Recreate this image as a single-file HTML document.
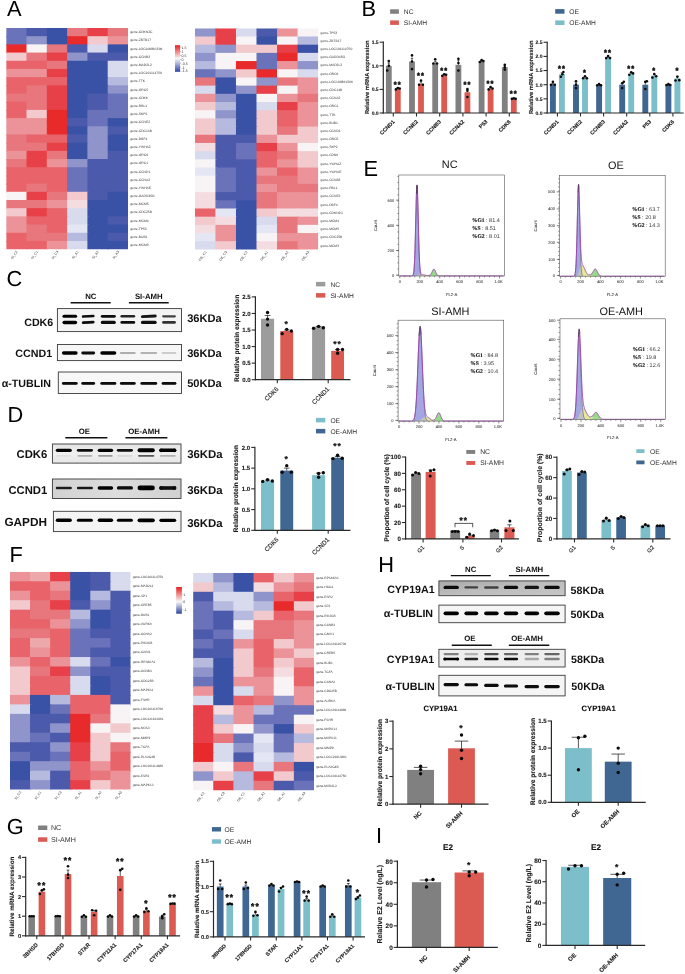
<!DOCTYPE html><html><head><meta charset="utf-8"><title>Figure</title><style>html,body{margin:0;padding:0;background:#fff;}svg{display:block;font-family:"Liberation Sans", sans-serif;will-change:transform;text-rendering:geometricPrecision;}</style></head><body>
<svg width="685" height="974" viewBox="0 0 685 974">
<defs>
<linearGradient id="cbA" x1="0" y1="0" x2="0" y2="1"><stop offset="0" stop-color="#E81C1C"/><stop offset="0.5" stop-color="#F8F8F8"/><stop offset="1" stop-color="#2B45A3"/></linearGradient>
<linearGradient id="cbF" x1="0" y1="0" x2="0" y2="1"><stop offset="0" stop-color="#E81C1C"/><stop offset="0.55" stop-color="#F8F8F8"/><stop offset="1" stop-color="#2B45A3"/></linearGradient>
<filter id="blur1" filterUnits="userSpaceOnUse" x="0" y="0" width="685" height="974"><feGaussianBlur stdDeviation="0.7 0.6"/></filter>
<filter id="blur2" filterUnits="userSpaceOnUse" x="0" y="0" width="685" height="974"><feGaussianBlur stdDeviation="0.9 0.7"/></filter>
<filter id="blurbg" x="-5%" y="-5%" width="110%" height="110%"><feGaussianBlur stdDeviation="1.5"/></filter>
</defs>
<rect x="0" y="0" width="685" height="974" fill="#fff"/>
<clipPath id="hmclip1"><rect x="6.2" y="28" width="121.8" height="221.13"/></clipPath>
<g clip-path="url(#hmclip1)">
<rect x="6.2" y="28" width="21.5" height="9.39" fill="#6A72BA"/>
<rect x="26.5" y="28" width="21.5" height="9.39" fill="#4C5AAC"/>
<rect x="46.8" y="28" width="21.5" height="9.39" fill="#3A52A6"/>
<rect x="67.1" y="28" width="21.5" height="9.39" fill="#E8767D"/>
<rect x="87.4" y="28" width="21.5" height="9.39" fill="#E84048"/>
<rect x="107.7" y="28" width="21.5" height="9.39" fill="#E8767D"/>
<rect x="6.2" y="36.19" width="21.5" height="9.39" fill="#6A72BA"/>
<rect x="26.5" y="36.19" width="21.5" height="9.39" fill="#8F95CB"/>
<rect x="46.8" y="36.19" width="21.5" height="9.39" fill="#3A52A6"/>
<rect x="67.1" y="36.19" width="21.5" height="9.39" fill="#E82A2A"/>
<rect x="87.4" y="36.19" width="21.5" height="9.39" fill="#F2C9CD"/>
<rect x="107.7" y="36.19" width="21.5" height="9.39" fill="#EB9398"/>
<rect x="6.2" y="44.38" width="21.5" height="9.39" fill="#E82A2A"/>
<rect x="26.5" y="44.38" width="21.5" height="9.39" fill="#F8F4F5"/>
<rect x="46.8" y="44.38" width="21.5" height="9.39" fill="#E8767D"/>
<rect x="67.1" y="44.38" width="21.5" height="9.39" fill="#4C5AAC"/>
<rect x="87.4" y="44.38" width="21.5" height="9.39" fill="#D8DBEE"/>
<rect x="107.7" y="44.38" width="21.5" height="9.39" fill="#3A52A6"/>
<rect x="6.2" y="52.57" width="21.5" height="9.39" fill="#F2C9CD"/>
<rect x="26.5" y="52.57" width="21.5" height="9.39" fill="#E8767D"/>
<rect x="46.8" y="52.57" width="21.5" height="9.39" fill="#E84048"/>
<rect x="67.1" y="52.57" width="21.5" height="9.39" fill="#8F95CB"/>
<rect x="87.4" y="52.57" width="21.5" height="9.39" fill="#4C5AAC"/>
<rect x="107.7" y="52.57" width="21.5" height="9.39" fill="#4C5AAC"/>
<rect x="6.2" y="60.76" width="21.5" height="9.39" fill="#E8646A"/>
<rect x="26.5" y="60.76" width="21.5" height="9.39" fill="#E8646A"/>
<rect x="46.8" y="60.76" width="21.5" height="9.39" fill="#E8767D"/>
<rect x="67.1" y="60.76" width="21.5" height="9.39" fill="#3A52A6"/>
<rect x="87.4" y="60.76" width="21.5" height="9.39" fill="#3A52A6"/>
<rect x="107.7" y="60.76" width="21.5" height="9.39" fill="#D8DBEE"/>
<rect x="6.2" y="68.95" width="21.5" height="9.39" fill="#EB9398"/>
<rect x="26.5" y="68.95" width="21.5" height="9.39" fill="#EB9398"/>
<rect x="46.8" y="68.95" width="21.5" height="9.39" fill="#E84048"/>
<rect x="67.1" y="68.95" width="21.5" height="9.39" fill="#3A52A6"/>
<rect x="87.4" y="68.95" width="21.5" height="9.39" fill="#3A52A6"/>
<rect x="107.7" y="68.95" width="21.5" height="9.39" fill="#D8DBEE"/>
<rect x="6.2" y="77.14" width="21.5" height="9.39" fill="#E8646A"/>
<rect x="26.5" y="77.14" width="21.5" height="9.39" fill="#E8646A"/>
<rect x="46.8" y="77.14" width="21.5" height="9.39" fill="#E8646A"/>
<rect x="67.1" y="77.14" width="21.5" height="9.39" fill="#3A52A6"/>
<rect x="87.4" y="77.14" width="21.5" height="9.39" fill="#3A52A6"/>
<rect x="107.7" y="77.14" width="21.5" height="9.39" fill="#B6BADF"/>
<rect x="6.2" y="85.33" width="21.5" height="9.39" fill="#E8646A"/>
<rect x="26.5" y="85.33" width="21.5" height="9.39" fill="#E8767D"/>
<rect x="46.8" y="85.33" width="21.5" height="9.39" fill="#E84048"/>
<rect x="67.1" y="85.33" width="21.5" height="9.39" fill="#3A52A6"/>
<rect x="87.4" y="85.33" width="21.5" height="9.39" fill="#3A52A6"/>
<rect x="107.7" y="85.33" width="21.5" height="9.39" fill="#8F95CB"/>
<rect x="6.2" y="93.52" width="21.5" height="9.39" fill="#E8767D"/>
<rect x="26.5" y="93.52" width="21.5" height="9.39" fill="#E8767D"/>
<rect x="46.8" y="93.52" width="21.5" height="9.39" fill="#E84048"/>
<rect x="67.1" y="93.52" width="21.5" height="9.39" fill="#3A52A6"/>
<rect x="87.4" y="93.52" width="21.5" height="9.39" fill="#4C5AAC"/>
<rect x="107.7" y="93.52" width="21.5" height="9.39" fill="#6A72BA"/>
<rect x="6.2" y="101.71" width="21.5" height="9.39" fill="#E8646A"/>
<rect x="26.5" y="101.71" width="21.5" height="9.39" fill="#E8767D"/>
<rect x="46.8" y="101.71" width="21.5" height="9.39" fill="#E84048"/>
<rect x="67.1" y="101.71" width="21.5" height="9.39" fill="#3A52A6"/>
<rect x="87.4" y="101.71" width="21.5" height="9.39" fill="#4C5AAC"/>
<rect x="107.7" y="101.71" width="21.5" height="9.39" fill="#6A72BA"/>
<rect x="6.2" y="109.9" width="21.5" height="9.39" fill="#E8646A"/>
<rect x="26.5" y="109.9" width="21.5" height="9.39" fill="#F2C9CD"/>
<rect x="46.8" y="109.9" width="21.5" height="9.39" fill="#E82A2A"/>
<rect x="67.1" y="109.9" width="21.5" height="9.39" fill="#3A52A6"/>
<rect x="87.4" y="109.9" width="21.5" height="9.39" fill="#6A72BA"/>
<rect x="107.7" y="109.9" width="21.5" height="9.39" fill="#6A72BA"/>
<rect x="6.2" y="118.09" width="21.5" height="9.39" fill="#EB9398"/>
<rect x="26.5" y="118.09" width="21.5" height="9.39" fill="#EB9398"/>
<rect x="46.8" y="118.09" width="21.5" height="9.39" fill="#E82A2A"/>
<rect x="67.1" y="118.09" width="21.5" height="9.39" fill="#4C5AAC"/>
<rect x="87.4" y="118.09" width="21.5" height="9.39" fill="#6A72BA"/>
<rect x="107.7" y="118.09" width="21.5" height="9.39" fill="#3A52A6"/>
<rect x="6.2" y="126.28" width="21.5" height="9.39" fill="#EB9398"/>
<rect x="26.5" y="126.28" width="21.5" height="9.39" fill="#EB9398"/>
<rect x="46.8" y="126.28" width="21.5" height="9.39" fill="#E82A2A"/>
<rect x="67.1" y="126.28" width="21.5" height="9.39" fill="#3A52A6"/>
<rect x="87.4" y="126.28" width="21.5" height="9.39" fill="#8F95CB"/>
<rect x="107.7" y="126.28" width="21.5" height="9.39" fill="#4C5AAC"/>
<rect x="6.2" y="134.47" width="21.5" height="9.39" fill="#E8767D"/>
<rect x="26.5" y="134.47" width="21.5" height="9.39" fill="#E8646A"/>
<rect x="46.8" y="134.47" width="21.5" height="9.39" fill="#E8646A"/>
<rect x="67.1" y="134.47" width="21.5" height="9.39" fill="#4C5AAC"/>
<rect x="87.4" y="134.47" width="21.5" height="9.39" fill="#8F95CB"/>
<rect x="107.7" y="134.47" width="21.5" height="9.39" fill="#3A52A6"/>
<rect x="6.2" y="142.66" width="21.5" height="9.39" fill="#E8767D"/>
<rect x="26.5" y="142.66" width="21.5" height="9.39" fill="#E8767D"/>
<rect x="46.8" y="142.66" width="21.5" height="9.39" fill="#E84048"/>
<rect x="67.1" y="142.66" width="21.5" height="9.39" fill="#3A52A6"/>
<rect x="87.4" y="142.66" width="21.5" height="9.39" fill="#8F95CB"/>
<rect x="107.7" y="142.66" width="21.5" height="9.39" fill="#3A52A6"/>
<rect x="6.2" y="150.85" width="21.5" height="9.39" fill="#EB9398"/>
<rect x="26.5" y="150.85" width="21.5" height="9.39" fill="#E84048"/>
<rect x="46.8" y="150.85" width="21.5" height="9.39" fill="#E8767D"/>
<rect x="67.1" y="150.85" width="21.5" height="9.39" fill="#3A52A6"/>
<rect x="87.4" y="150.85" width="21.5" height="9.39" fill="#8F95CB"/>
<rect x="107.7" y="150.85" width="21.5" height="9.39" fill="#4C5AAC"/>
<rect x="6.2" y="159.04" width="21.5" height="9.39" fill="#E8767D"/>
<rect x="26.5" y="159.04" width="21.5" height="9.39" fill="#E84048"/>
<rect x="46.8" y="159.04" width="21.5" height="9.39" fill="#EB9398"/>
<rect x="67.1" y="159.04" width="21.5" height="9.39" fill="#8F95CB"/>
<rect x="87.4" y="159.04" width="21.5" height="9.39" fill="#4C5AAC"/>
<rect x="107.7" y="159.04" width="21.5" height="9.39" fill="#4C5AAC"/>
<rect x="6.2" y="167.23" width="21.5" height="9.39" fill="#E8646A"/>
<rect x="26.5" y="167.23" width="21.5" height="9.39" fill="#E8646A"/>
<rect x="46.8" y="167.23" width="21.5" height="9.39" fill="#E8646A"/>
<rect x="67.1" y="167.23" width="21.5" height="9.39" fill="#6A72BA"/>
<rect x="87.4" y="167.23" width="21.5" height="9.39" fill="#4C5AAC"/>
<rect x="107.7" y="167.23" width="21.5" height="9.39" fill="#4C5AAC"/>
<rect x="6.2" y="175.42" width="21.5" height="9.39" fill="#E8646A"/>
<rect x="26.5" y="175.42" width="21.5" height="9.39" fill="#E8646A"/>
<rect x="46.8" y="175.42" width="21.5" height="9.39" fill="#E8646A"/>
<rect x="67.1" y="175.42" width="21.5" height="9.39" fill="#6A72BA"/>
<rect x="87.4" y="175.42" width="21.5" height="9.39" fill="#4C5AAC"/>
<rect x="107.7" y="175.42" width="21.5" height="9.39" fill="#4C5AAC"/>
<rect x="6.2" y="183.61" width="21.5" height="9.39" fill="#E8646A"/>
<rect x="26.5" y="183.61" width="21.5" height="9.39" fill="#E8767D"/>
<rect x="46.8" y="183.61" width="21.5" height="9.39" fill="#E8646A"/>
<rect x="67.1" y="183.61" width="21.5" height="9.39" fill="#6A72BA"/>
<rect x="87.4" y="183.61" width="21.5" height="9.39" fill="#4C5AAC"/>
<rect x="107.7" y="183.61" width="21.5" height="9.39" fill="#4C5AAC"/>
<rect x="6.2" y="191.8" width="21.5" height="9.39" fill="#F8F4F5"/>
<rect x="26.5" y="191.8" width="21.5" height="9.39" fill="#E84048"/>
<rect x="46.8" y="191.8" width="21.5" height="9.39" fill="#E8767D"/>
<rect x="67.1" y="191.8" width="21.5" height="9.39" fill="#F2C9CD"/>
<rect x="87.4" y="191.8" width="21.5" height="9.39" fill="#4C5AAC"/>
<rect x="107.7" y="191.8" width="21.5" height="9.39" fill="#3A52A6"/>
<rect x="6.2" y="199.99" width="21.5" height="9.39" fill="#E8767D"/>
<rect x="26.5" y="199.99" width="21.5" height="9.39" fill="#E8767D"/>
<rect x="46.8" y="199.99" width="21.5" height="9.39" fill="#EB9398"/>
<rect x="67.1" y="199.99" width="21.5" height="9.39" fill="#F4DDE0"/>
<rect x="87.4" y="199.99" width="21.5" height="9.39" fill="#3A52A6"/>
<rect x="107.7" y="199.99" width="21.5" height="9.39" fill="#3A52A6"/>
<rect x="6.2" y="208.18" width="21.5" height="9.39" fill="#F2C9CD"/>
<rect x="26.5" y="208.18" width="21.5" height="9.39" fill="#E84048"/>
<rect x="46.8" y="208.18" width="21.5" height="9.39" fill="#E8646A"/>
<rect x="67.1" y="208.18" width="21.5" height="9.39" fill="#D8DBEE"/>
<rect x="87.4" y="208.18" width="21.5" height="9.39" fill="#3A52A6"/>
<rect x="107.7" y="208.18" width="21.5" height="9.39" fill="#3A52A6"/>
<rect x="6.2" y="216.37" width="21.5" height="9.39" fill="#EB9398"/>
<rect x="26.5" y="216.37" width="21.5" height="9.39" fill="#E8646A"/>
<rect x="46.8" y="216.37" width="21.5" height="9.39" fill="#E8646A"/>
<rect x="67.1" y="216.37" width="21.5" height="9.39" fill="#D8DBEE"/>
<rect x="87.4" y="216.37" width="21.5" height="9.39" fill="#3A52A6"/>
<rect x="107.7" y="216.37" width="21.5" height="9.39" fill="#4C5AAC"/>
<rect x="6.2" y="224.56" width="21.5" height="9.39" fill="#EB9398"/>
<rect x="26.5" y="224.56" width="21.5" height="9.39" fill="#E8767D"/>
<rect x="46.8" y="224.56" width="21.5" height="9.39" fill="#E8646A"/>
<rect x="67.1" y="224.56" width="21.5" height="9.39" fill="#E4E6F3"/>
<rect x="87.4" y="224.56" width="21.5" height="9.39" fill="#3A52A6"/>
<rect x="107.7" y="224.56" width="21.5" height="9.39" fill="#3A52A6"/>
<rect x="6.2" y="232.75" width="21.5" height="9.39" fill="#E8646A"/>
<rect x="26.5" y="232.75" width="21.5" height="9.39" fill="#E8767D"/>
<rect x="46.8" y="232.75" width="21.5" height="9.39" fill="#E8767D"/>
<rect x="67.1" y="232.75" width="21.5" height="9.39" fill="#B6BADF"/>
<rect x="87.4" y="232.75" width="21.5" height="9.39" fill="#3A52A6"/>
<rect x="107.7" y="232.75" width="21.5" height="9.39" fill="#4C5AAC"/>
<rect x="6.2" y="240.94" width="21.5" height="9.39" fill="#E8646A"/>
<rect x="26.5" y="240.94" width="21.5" height="9.39" fill="#E8646A"/>
<rect x="46.8" y="240.94" width="21.5" height="9.39" fill="#EB9398"/>
<rect x="67.1" y="240.94" width="21.5" height="9.39" fill="#D8DBEE"/>
<rect x="87.4" y="240.94" width="21.5" height="9.39" fill="#3A52A6"/>
<rect x="107.7" y="240.94" width="21.5" height="9.39" fill="#3A52A6"/>
</g>
<text x="130.2" y="33.3" font-size="3.35" text-anchor="start" fill="#3a3a3a">gene-CDKN2C</text>
<text x="130.2" y="41.49" font-size="3.35" text-anchor="start" fill="#3a3a3a">gene-ZBTB17</text>
<text x="130.2" y="49.68" font-size="3.35" text-anchor="start" fill="#3a3a3a">gene-LOC100861506</text>
<text x="130.2" y="57.87" font-size="3.35" text-anchor="start" fill="#3a3a3a">gene-CCNB3</text>
<text x="130.2" y="66.06" font-size="3.35" text-anchor="start" fill="#3a3a3a">gene-MAD2L2</text>
<text x="130.2" y="74.25" font-size="3.35" text-anchor="start" fill="#3a3a3a">gene-LOC101114750</text>
<text x="130.2" y="82.44" font-size="3.35" text-anchor="start" fill="#3a3a3a">gene-TTK</text>
<text x="130.2" y="90.63" font-size="3.35" text-anchor="start" fill="#3a3a3a">gene-ORC5</text>
<text x="130.2" y="98.82" font-size="3.35" text-anchor="start" fill="#3a3a3a">gene-CDK6</text>
<text x="130.2" y="107.01" font-size="3.35" text-anchor="start" fill="#3a3a3a">gene-RBL1</text>
<text x="130.2" y="115.2" font-size="3.35" text-anchor="start" fill="#3a3a3a">gene-SKP2</text>
<text x="130.2" y="123.39" font-size="3.35" text-anchor="start" fill="#3a3a3a">gene-CCNE2</text>
<text x="130.2" y="131.58" font-size="3.35" text-anchor="start" fill="#3a3a3a">gene-CDC14B</text>
<text x="130.2" y="139.77" font-size="3.35" text-anchor="start" fill="#3a3a3a">gene-DBF4</text>
<text x="130.2" y="147.96" font-size="3.35" text-anchor="start" fill="#3a3a3a">gene-YWHAZ</text>
<text x="130.2" y="156.15" font-size="3.35" text-anchor="start" fill="#3a3a3a">gene-ORC6</text>
<text x="130.2" y="164.34" font-size="3.35" text-anchor="start" fill="#3a3a3a">gene-ORC1</text>
<text x="130.2" y="172.53" font-size="3.35" text-anchor="start" fill="#3a3a3a">gene-CCND1</text>
<text x="130.2" y="180.72" font-size="3.35" text-anchor="start" fill="#3a3a3a">gene-CCNA2</text>
<text x="130.2" y="188.91" font-size="3.35" text-anchor="start" fill="#3a3a3a">gene-YWHAE</text>
<text x="130.2" y="197.1" font-size="3.35" text-anchor="start" fill="#3a3a3a">gene-GADD45G</text>
<text x="130.2" y="205.29" font-size="3.35" text-anchor="start" fill="#3a3a3a">gene-MCM5</text>
<text x="130.2" y="213.48" font-size="3.35" text-anchor="start" fill="#3a3a3a">gene-CDC25B</text>
<text x="130.2" y="221.67" font-size="3.35" text-anchor="start" fill="#3a3a3a">gene-MCM4</text>
<text x="130.2" y="229.86" font-size="3.35" text-anchor="start" fill="#3a3a3a">gene-TP53</text>
<text x="130.2" y="238.05" font-size="3.35" text-anchor="start" fill="#3a3a3a">gene-BUB1</text>
<text x="130.2" y="246.24" font-size="3.35" text-anchor="start" fill="#3a3a3a">gene-MCM3</text>
<text x="17.95" y="251.73" font-size="3.4" text-anchor="end" fill="#333" transform="rotate(-55 17.95 251.73)">SI_C2</text>
<text x="38.25" y="251.73" font-size="3.4" text-anchor="end" fill="#333" transform="rotate(-55 38.25 251.73)">SI_C1</text>
<text x="58.55" y="251.73" font-size="3.4" text-anchor="end" fill="#333" transform="rotate(-55 58.55 251.73)">SI_C3</text>
<text x="78.85" y="251.73" font-size="3.4" text-anchor="end" fill="#333" transform="rotate(-55 78.85 251.73)">SI_A1</text>
<text x="99.15" y="251.73" font-size="3.4" text-anchor="end" fill="#333" transform="rotate(-55 99.15 251.73)">SI_A2</text>
<text x="119.45" y="251.73" font-size="3.4" text-anchor="end" fill="#333" transform="rotate(-55 119.45 251.73)">SI_A3</text>
<clipPath id="hmclip2"><rect x="194.9" y="28.3" width="123.18" height="221.13"/></clipPath>
<g clip-path="url(#hmclip2)">
<rect x="194.9" y="28.3" width="21.73" height="9.39" fill="#8F95CB"/>
<rect x="215.43" y="28.3" width="21.73" height="9.39" fill="#E84048"/>
<rect x="235.96" y="28.3" width="21.73" height="9.39" fill="#D8DBEE"/>
<rect x="256.49" y="28.3" width="21.73" height="9.39" fill="#4C5AAC"/>
<rect x="277.02" y="28.3" width="21.73" height="9.39" fill="#EB9398"/>
<rect x="297.55" y="28.3" width="21.73" height="9.39" fill="#F8F4F5"/>
<rect x="194.9" y="36.49" width="21.73" height="9.39" fill="#F2C9CD"/>
<rect x="215.43" y="36.49" width="21.73" height="9.39" fill="#E84048"/>
<rect x="235.96" y="36.49" width="21.73" height="9.39" fill="#F8F4F5"/>
<rect x="256.49" y="36.49" width="21.73" height="9.39" fill="#3A52A6"/>
<rect x="277.02" y="36.49" width="21.73" height="9.39" fill="#F8F4F5"/>
<rect x="297.55" y="36.49" width="21.73" height="9.39" fill="#B6BADF"/>
<rect x="194.9" y="44.68" width="21.73" height="9.39" fill="#B6BADF"/>
<rect x="215.43" y="44.68" width="21.73" height="9.39" fill="#8F95CB"/>
<rect x="235.96" y="44.68" width="21.73" height="9.39" fill="#F2C9CD"/>
<rect x="256.49" y="44.68" width="21.73" height="9.39" fill="#F2C9CD"/>
<rect x="277.02" y="44.68" width="21.73" height="9.39" fill="#E84048"/>
<rect x="297.55" y="44.68" width="21.73" height="9.39" fill="#3A52A6"/>
<rect x="194.9" y="52.87" width="21.73" height="9.39" fill="#8F95CB"/>
<rect x="215.43" y="52.87" width="21.73" height="9.39" fill="#F8F4F5"/>
<rect x="235.96" y="52.87" width="21.73" height="9.39" fill="#F8F4F5"/>
<rect x="256.49" y="52.87" width="21.73" height="9.39" fill="#6A72BA"/>
<rect x="277.02" y="52.87" width="21.73" height="9.39" fill="#E82A2A"/>
<rect x="297.55" y="52.87" width="21.73" height="9.39" fill="#D8DBEE"/>
<rect x="194.9" y="61.06" width="21.73" height="9.39" fill="#B6BADF"/>
<rect x="215.43" y="61.06" width="21.73" height="9.39" fill="#F8F4F5"/>
<rect x="235.96" y="61.06" width="21.73" height="9.39" fill="#E82A2A"/>
<rect x="256.49" y="61.06" width="21.73" height="9.39" fill="#6A72BA"/>
<rect x="277.02" y="61.06" width="21.73" height="9.39" fill="#EB9398"/>
<rect x="297.55" y="61.06" width="21.73" height="9.39" fill="#8F95CB"/>
<rect x="194.9" y="69.25" width="21.73" height="9.39" fill="#6A72BA"/>
<rect x="215.43" y="69.25" width="21.73" height="9.39" fill="#8F95CB"/>
<rect x="235.96" y="69.25" width="21.73" height="9.39" fill="#F2C9CD"/>
<rect x="256.49" y="69.25" width="21.73" height="9.39" fill="#E82A2A"/>
<rect x="277.02" y="69.25" width="21.73" height="9.39" fill="#F8F4F5"/>
<rect x="297.55" y="69.25" width="21.73" height="9.39" fill="#D8DBEE"/>
<rect x="194.9" y="77.44" width="21.73" height="9.39" fill="#E8767D"/>
<rect x="215.43" y="77.44" width="21.73" height="9.39" fill="#3A52A6"/>
<rect x="235.96" y="77.44" width="21.73" height="9.39" fill="#F8F4F5"/>
<rect x="256.49" y="77.44" width="21.73" height="9.39" fill="#8F95CB"/>
<rect x="277.02" y="77.44" width="21.73" height="9.39" fill="#E8767D"/>
<rect x="297.55" y="77.44" width="21.73" height="9.39" fill="#EB9398"/>
<rect x="194.9" y="85.63" width="21.73" height="9.39" fill="#D8DBEE"/>
<rect x="215.43" y="85.63" width="21.73" height="9.39" fill="#3A52A6"/>
<rect x="235.96" y="85.63" width="21.73" height="9.39" fill="#8F95CB"/>
<rect x="256.49" y="85.63" width="21.73" height="9.39" fill="#E84048"/>
<rect x="277.02" y="85.63" width="21.73" height="9.39" fill="#F8F4F5"/>
<rect x="297.55" y="85.63" width="21.73" height="9.39" fill="#EB9398"/>
<rect x="194.9" y="93.82" width="21.73" height="9.39" fill="#EB9398"/>
<rect x="215.43" y="93.82" width="21.73" height="9.39" fill="#8F95CB"/>
<rect x="235.96" y="93.82" width="21.73" height="9.39" fill="#3A52A6"/>
<rect x="256.49" y="93.82" width="21.73" height="9.39" fill="#F8F4F5"/>
<rect x="277.02" y="93.82" width="21.73" height="9.39" fill="#EB9398"/>
<rect x="297.55" y="93.82" width="21.73" height="9.39" fill="#E8767D"/>
<rect x="194.9" y="102.01" width="21.73" height="9.39" fill="#F2C9CD"/>
<rect x="215.43" y="102.01" width="21.73" height="9.39" fill="#B6BADF"/>
<rect x="235.96" y="102.01" width="21.73" height="9.39" fill="#3A52A6"/>
<rect x="256.49" y="102.01" width="21.73" height="9.39" fill="#D8DBEE"/>
<rect x="277.02" y="102.01" width="21.73" height="9.39" fill="#E84048"/>
<rect x="297.55" y="102.01" width="21.73" height="9.39" fill="#EB9398"/>
<rect x="194.9" y="110.2" width="21.73" height="9.39" fill="#F8F4F5"/>
<rect x="215.43" y="110.2" width="21.73" height="9.39" fill="#8F95CB"/>
<rect x="235.96" y="110.2" width="21.73" height="9.39" fill="#3A52A6"/>
<rect x="256.49" y="110.2" width="21.73" height="9.39" fill="#F2C9CD"/>
<rect x="277.02" y="110.2" width="21.73" height="9.39" fill="#E8646A"/>
<rect x="297.55" y="110.2" width="21.73" height="9.39" fill="#EB9398"/>
<rect x="194.9" y="118.39" width="21.73" height="9.39" fill="#F2C9CD"/>
<rect x="215.43" y="118.39" width="21.73" height="9.39" fill="#B6BADF"/>
<rect x="235.96" y="118.39" width="21.73" height="9.39" fill="#3A52A6"/>
<rect x="256.49" y="118.39" width="21.73" height="9.39" fill="#F2C9CD"/>
<rect x="277.02" y="118.39" width="21.73" height="9.39" fill="#E8646A"/>
<rect x="297.55" y="118.39" width="21.73" height="9.39" fill="#EB9398"/>
<rect x="194.9" y="126.58" width="21.73" height="9.39" fill="#F2C9CD"/>
<rect x="215.43" y="126.58" width="21.73" height="9.39" fill="#B6BADF"/>
<rect x="235.96" y="126.58" width="21.73" height="9.39" fill="#3A52A6"/>
<rect x="256.49" y="126.58" width="21.73" height="9.39" fill="#F2C9CD"/>
<rect x="277.02" y="126.58" width="21.73" height="9.39" fill="#E8767D"/>
<rect x="297.55" y="126.58" width="21.73" height="9.39" fill="#F2C9CD"/>
<rect x="194.9" y="134.77" width="21.73" height="9.39" fill="#E8767D"/>
<rect x="215.43" y="134.77" width="21.73" height="9.39" fill="#4C5AAC"/>
<rect x="235.96" y="134.77" width="21.73" height="9.39" fill="#4C5AAC"/>
<rect x="256.49" y="134.77" width="21.73" height="9.39" fill="#EB9398"/>
<rect x="277.02" y="134.77" width="21.73" height="9.39" fill="#F2C9CD"/>
<rect x="297.55" y="134.77" width="21.73" height="9.39" fill="#F2C9CD"/>
<rect x="194.9" y="142.96" width="21.73" height="9.39" fill="#F4DDE0"/>
<rect x="215.43" y="142.96" width="21.73" height="9.39" fill="#4C5AAC"/>
<rect x="235.96" y="142.96" width="21.73" height="9.39" fill="#6A72BA"/>
<rect x="256.49" y="142.96" width="21.73" height="9.39" fill="#E84048"/>
<rect x="277.02" y="142.96" width="21.73" height="9.39" fill="#EB9398"/>
<rect x="297.55" y="142.96" width="21.73" height="9.39" fill="#F8F4F5"/>
<rect x="194.9" y="151.15" width="21.73" height="9.39" fill="#D8DBEE"/>
<rect x="215.43" y="151.15" width="21.73" height="9.39" fill="#4C5AAC"/>
<rect x="235.96" y="151.15" width="21.73" height="9.39" fill="#6A72BA"/>
<rect x="256.49" y="151.15" width="21.73" height="9.39" fill="#E8646A"/>
<rect x="277.02" y="151.15" width="21.73" height="9.39" fill="#E8767D"/>
<rect x="297.55" y="151.15" width="21.73" height="9.39" fill="#F2C9CD"/>
<rect x="194.9" y="159.34" width="21.73" height="9.39" fill="#F8F4F5"/>
<rect x="215.43" y="159.34" width="21.73" height="9.39" fill="#4C5AAC"/>
<rect x="235.96" y="159.34" width="21.73" height="9.39" fill="#4C5AAC"/>
<rect x="256.49" y="159.34" width="21.73" height="9.39" fill="#E8646A"/>
<rect x="277.02" y="159.34" width="21.73" height="9.39" fill="#EB9398"/>
<rect x="297.55" y="159.34" width="21.73" height="9.39" fill="#F2C9CD"/>
<rect x="194.9" y="167.53" width="21.73" height="9.39" fill="#E4E6F3"/>
<rect x="215.43" y="167.53" width="21.73" height="9.39" fill="#6A72BA"/>
<rect x="235.96" y="167.53" width="21.73" height="9.39" fill="#4C5AAC"/>
<rect x="256.49" y="167.53" width="21.73" height="9.39" fill="#EB9398"/>
<rect x="277.02" y="167.53" width="21.73" height="9.39" fill="#E8646A"/>
<rect x="297.55" y="167.53" width="21.73" height="9.39" fill="#EB9398"/>
<rect x="194.9" y="175.72" width="21.73" height="9.39" fill="#F8F4F5"/>
<rect x="215.43" y="175.72" width="21.73" height="9.39" fill="#6A72BA"/>
<rect x="235.96" y="175.72" width="21.73" height="9.39" fill="#4C5AAC"/>
<rect x="256.49" y="175.72" width="21.73" height="9.39" fill="#E8767D"/>
<rect x="277.02" y="175.72" width="21.73" height="9.39" fill="#E8767D"/>
<rect x="297.55" y="175.72" width="21.73" height="9.39" fill="#EB9398"/>
<rect x="194.9" y="183.91" width="21.73" height="9.39" fill="#F8F4F5"/>
<rect x="215.43" y="183.91" width="21.73" height="9.39" fill="#6A72BA"/>
<rect x="235.96" y="183.91" width="21.73" height="9.39" fill="#4C5AAC"/>
<rect x="256.49" y="183.91" width="21.73" height="9.39" fill="#EB9398"/>
<rect x="277.02" y="183.91" width="21.73" height="9.39" fill="#E8767D"/>
<rect x="297.55" y="183.91" width="21.73" height="9.39" fill="#E8767D"/>
<rect x="194.9" y="192.1" width="21.73" height="9.39" fill="#F4DDE0"/>
<rect x="215.43" y="192.1" width="21.73" height="9.39" fill="#4C5AAC"/>
<rect x="235.96" y="192.1" width="21.73" height="9.39" fill="#4C5AAC"/>
<rect x="256.49" y="192.1" width="21.73" height="9.39" fill="#E8767D"/>
<rect x="277.02" y="192.1" width="21.73" height="9.39" fill="#EB9398"/>
<rect x="297.55" y="192.1" width="21.73" height="9.39" fill="#EB9398"/>
<rect x="194.9" y="200.29" width="21.73" height="9.39" fill="#F4DDE0"/>
<rect x="215.43" y="200.29" width="21.73" height="9.39" fill="#6A72BA"/>
<rect x="235.96" y="200.29" width="21.73" height="9.39" fill="#3A52A6"/>
<rect x="256.49" y="200.29" width="21.73" height="9.39" fill="#E8767D"/>
<rect x="277.02" y="200.29" width="21.73" height="9.39" fill="#EB9398"/>
<rect x="297.55" y="200.29" width="21.73" height="9.39" fill="#EB9398"/>
<rect x="194.9" y="208.48" width="21.73" height="9.39" fill="#E8646A"/>
<rect x="215.43" y="208.48" width="21.73" height="9.39" fill="#E4E6F3"/>
<rect x="235.96" y="208.48" width="21.73" height="9.39" fill="#3A52A6"/>
<rect x="256.49" y="208.48" width="21.73" height="9.39" fill="#F2C9CD"/>
<rect x="277.02" y="208.48" width="21.73" height="9.39" fill="#F4DDE0"/>
<rect x="297.55" y="208.48" width="21.73" height="9.39" fill="#F4DDE0"/>
<rect x="194.9" y="216.67" width="21.73" height="9.39" fill="#F2C9CD"/>
<rect x="215.43" y="216.67" width="21.73" height="9.39" fill="#F4DDE0"/>
<rect x="235.96" y="216.67" width="21.73" height="9.39" fill="#3A52A6"/>
<rect x="256.49" y="216.67" width="21.73" height="9.39" fill="#D8DBEE"/>
<rect x="277.02" y="216.67" width="21.73" height="9.39" fill="#E8767D"/>
<rect x="297.55" y="216.67" width="21.73" height="9.39" fill="#EB9398"/>
<rect x="194.9" y="224.86" width="21.73" height="9.39" fill="#F4DDE0"/>
<rect x="215.43" y="224.86" width="21.73" height="9.39" fill="#EB9398"/>
<rect x="235.96" y="224.86" width="21.73" height="9.39" fill="#3A52A6"/>
<rect x="256.49" y="224.86" width="21.73" height="9.39" fill="#E4E6F3"/>
<rect x="277.02" y="224.86" width="21.73" height="9.39" fill="#E8767D"/>
<rect x="297.55" y="224.86" width="21.73" height="9.39" fill="#F8F4F5"/>
<rect x="194.9" y="233.05" width="21.73" height="9.39" fill="#E4E6F3"/>
<rect x="215.43" y="233.05" width="21.73" height="9.39" fill="#EB9398"/>
<rect x="235.96" y="233.05" width="21.73" height="9.39" fill="#3A52A6"/>
<rect x="256.49" y="233.05" width="21.73" height="9.39" fill="#F8F4F5"/>
<rect x="277.02" y="233.05" width="21.73" height="9.39" fill="#EB9398"/>
<rect x="297.55" y="233.05" width="21.73" height="9.39" fill="#EB9398"/>
<rect x="194.9" y="241.24" width="21.73" height="9.39" fill="#D8DBEE"/>
<rect x="215.43" y="241.24" width="21.73" height="9.39" fill="#F2C9CD"/>
<rect x="235.96" y="241.24" width="21.73" height="9.39" fill="#3A52A6"/>
<rect x="256.49" y="241.24" width="21.73" height="9.39" fill="#F4DDE0"/>
<rect x="277.02" y="241.24" width="21.73" height="9.39" fill="#E8767D"/>
<rect x="297.55" y="241.24" width="21.73" height="9.39" fill="#EB9398"/>
</g>
<text x="320.6" y="33.6" font-size="3.35" text-anchor="start" fill="#3a3a3a">gene-TP53</text>
<text x="320.6" y="41.79" font-size="3.35" text-anchor="start" fill="#3a3a3a">gene-ZBTB17</text>
<text x="320.6" y="49.98" font-size="3.35" text-anchor="start" fill="#3a3a3a">gene-LOC101114750</text>
<text x="320.6" y="58.17" font-size="3.35" text-anchor="start" fill="#3a3a3a">gene-GADD45G</text>
<text x="320.6" y="66.36" font-size="3.35" text-anchor="start" fill="#3a3a3a">gene-MAD2L2</text>
<text x="320.6" y="74.55" font-size="3.35" text-anchor="start" fill="#3a3a3a">gene-ORC6</text>
<text x="320.6" y="82.74" font-size="3.35" text-anchor="start" fill="#3a3a3a">gene-LOC100861506</text>
<text x="320.6" y="90.93" font-size="3.35" text-anchor="start" fill="#3a3a3a">gene-CDC14B</text>
<text x="320.6" y="99.12" font-size="3.35" text-anchor="start" fill="#3a3a3a">gene-CCNA2</text>
<text x="320.6" y="107.31" font-size="3.35" text-anchor="start" fill="#3a3a3a">gene-ORC1</text>
<text x="320.6" y="115.5" font-size="3.35" text-anchor="start" fill="#3a3a3a">gene-TTK</text>
<text x="320.6" y="123.69" font-size="3.35" text-anchor="start" fill="#3a3a3a">gene-BUB1</text>
<text x="320.6" y="131.88" font-size="3.35" text-anchor="start" fill="#3a3a3a">gene-CCND1</text>
<text x="320.6" y="140.07" font-size="3.35" text-anchor="start" fill="#3a3a3a">gene-ORC5</text>
<text x="320.6" y="148.26" font-size="3.35" text-anchor="start" fill="#3a3a3a">gene-SKP2</text>
<text x="320.6" y="156.45" font-size="3.35" text-anchor="start" fill="#3a3a3a">gene-CDK6</text>
<text x="320.6" y="164.64" font-size="3.35" text-anchor="start" fill="#3a3a3a">gene-YWHAZ</text>
<text x="320.6" y="172.83" font-size="3.35" text-anchor="start" fill="#3a3a3a">gene-YWHAE</text>
<text x="320.6" y="181.02" font-size="3.35" text-anchor="start" fill="#3a3a3a">gene-CCNB3</text>
<text x="320.6" y="189.21" font-size="3.35" text-anchor="start" fill="#3a3a3a">gene-RBL1</text>
<text x="320.6" y="197.4" font-size="3.35" text-anchor="start" fill="#3a3a3a">gene-CCNE2</text>
<text x="320.6" y="205.59" font-size="3.35" text-anchor="start" fill="#3a3a3a">gene-DBF4</text>
<text x="320.6" y="213.78" font-size="3.35" text-anchor="start" fill="#3a3a3a">gene-CDKN2C</text>
<text x="320.6" y="221.97" font-size="3.35" text-anchor="start" fill="#3a3a3a">gene-MCM4</text>
<text x="320.6" y="230.16" font-size="3.35" text-anchor="start" fill="#3a3a3a">gene-MCM5</text>
<text x="320.6" y="238.35" font-size="3.35" text-anchor="start" fill="#3a3a3a">gene-CDC25B</text>
<text x="320.6" y="246.54" font-size="3.35" text-anchor="start" fill="#3a3a3a">gene-MCM3</text>
<text x="206.77" y="252.03" font-size="3.4" text-anchor="end" fill="#333" transform="rotate(-55 206.77 252.03)">OE_C1</text>
<text x="227.29" y="252.03" font-size="3.4" text-anchor="end" fill="#333" transform="rotate(-55 227.29 252.03)">OE_C3</text>
<text x="247.83" y="252.03" font-size="3.4" text-anchor="end" fill="#333" transform="rotate(-55 247.83 252.03)">OE_C2</text>
<text x="268.36" y="252.03" font-size="3.4" text-anchor="end" fill="#333" transform="rotate(-55 268.36 252.03)">OE_A1</text>
<text x="288.88" y="252.03" font-size="3.4" text-anchor="end" fill="#333" transform="rotate(-55 288.88 252.03)">OE_A2</text>
<text x="309.42" y="252.03" font-size="3.4" text-anchor="end" fill="#333" transform="rotate(-55 309.42 252.03)">OE_A3</text>
<clipPath id="hmclip3"><rect x="9.9" y="571.8" width="120.6" height="217.81"/></clipPath>
<g clip-path="url(#hmclip3)">
<rect x="9.9" y="571.8" width="21.3" height="10.67" fill="#EB9398"/>
<rect x="30" y="571.8" width="21.3" height="10.67" fill="#EDA8AC"/>
<rect x="50.1" y="571.8" width="21.3" height="10.67" fill="#E84048"/>
<rect x="70.2" y="571.8" width="21.3" height="10.67" fill="#3A52A6"/>
<rect x="90.3" y="571.8" width="21.3" height="10.67" fill="#4C5AAC"/>
<rect x="110.4" y="571.8" width="21.3" height="10.67" fill="#D8DBEE"/>
<rect x="9.9" y="581.27" width="21.3" height="10.67" fill="#E8646A"/>
<rect x="30" y="581.27" width="21.3" height="10.67" fill="#E8646A"/>
<rect x="50.1" y="581.27" width="21.3" height="10.67" fill="#EB9398"/>
<rect x="70.2" y="581.27" width="21.3" height="10.67" fill="#3A52A6"/>
<rect x="90.3" y="581.27" width="21.3" height="10.67" fill="#4C5AAC"/>
<rect x="110.4" y="581.27" width="21.3" height="10.67" fill="#D8DBEE"/>
<rect x="9.9" y="590.74" width="21.3" height="10.67" fill="#EB9398"/>
<rect x="30" y="590.74" width="21.3" height="10.67" fill="#E8646A"/>
<rect x="50.1" y="590.74" width="21.3" height="10.67" fill="#E8767D"/>
<rect x="70.2" y="590.74" width="21.3" height="10.67" fill="#3A52A6"/>
<rect x="90.3" y="590.74" width="21.3" height="10.67" fill="#B6BADF"/>
<rect x="110.4" y="590.74" width="21.3" height="10.67" fill="#4C5AAC"/>
<rect x="9.9" y="600.21" width="21.3" height="10.67" fill="#F2C9CD"/>
<rect x="30" y="600.21" width="21.3" height="10.67" fill="#E8767D"/>
<rect x="50.1" y="600.21" width="21.3" height="10.67" fill="#E84048"/>
<rect x="70.2" y="600.21" width="21.3" height="10.67" fill="#4C5AAC"/>
<rect x="90.3" y="600.21" width="21.3" height="10.67" fill="#8F95CB"/>
<rect x="110.4" y="600.21" width="21.3" height="10.67" fill="#4C5AAC"/>
<rect x="9.9" y="609.68" width="21.3" height="10.67" fill="#E8646A"/>
<rect x="30" y="609.68" width="21.3" height="10.67" fill="#E8767D"/>
<rect x="50.1" y="609.68" width="21.3" height="10.67" fill="#E8767D"/>
<rect x="70.2" y="609.68" width="21.3" height="10.67" fill="#B6BADF"/>
<rect x="90.3" y="609.68" width="21.3" height="10.67" fill="#3A52A6"/>
<rect x="110.4" y="609.68" width="21.3" height="10.67" fill="#4C5AAC"/>
<rect x="9.9" y="619.15" width="21.3" height="10.67" fill="#E8646A"/>
<rect x="30" y="619.15" width="21.3" height="10.67" fill="#E8646A"/>
<rect x="50.1" y="619.15" width="21.3" height="10.67" fill="#EB9398"/>
<rect x="70.2" y="619.15" width="21.3" height="10.67" fill="#8F95CB"/>
<rect x="90.3" y="619.15" width="21.3" height="10.67" fill="#3A52A6"/>
<rect x="110.4" y="619.15" width="21.3" height="10.67" fill="#4C5AAC"/>
<rect x="9.9" y="628.62" width="21.3" height="10.67" fill="#E8767D"/>
<rect x="30" y="628.62" width="21.3" height="10.67" fill="#E8767D"/>
<rect x="50.1" y="628.62" width="21.3" height="10.67" fill="#E8646A"/>
<rect x="70.2" y="628.62" width="21.3" height="10.67" fill="#6A72BA"/>
<rect x="90.3" y="628.62" width="21.3" height="10.67" fill="#4C5AAC"/>
<rect x="110.4" y="628.62" width="21.3" height="10.67" fill="#4C5AAC"/>
<rect x="9.9" y="638.09" width="21.3" height="10.67" fill="#E8646A"/>
<rect x="30" y="638.09" width="21.3" height="10.67" fill="#EDA8AC"/>
<rect x="50.1" y="638.09" width="21.3" height="10.67" fill="#E8646A"/>
<rect x="70.2" y="638.09" width="21.3" height="10.67" fill="#6A72BA"/>
<rect x="90.3" y="638.09" width="21.3" height="10.67" fill="#6A72BA"/>
<rect x="110.4" y="638.09" width="21.3" height="10.67" fill="#4C5AAC"/>
<rect x="9.9" y="647.56" width="21.3" height="10.67" fill="#E8646A"/>
<rect x="30" y="647.56" width="21.3" height="10.67" fill="#EB9398"/>
<rect x="50.1" y="647.56" width="21.3" height="10.67" fill="#E8646A"/>
<rect x="70.2" y="647.56" width="21.3" height="10.67" fill="#6A72BA"/>
<rect x="90.3" y="647.56" width="21.3" height="10.67" fill="#4C5AAC"/>
<rect x="110.4" y="647.56" width="21.3" height="10.67" fill="#4C5AAC"/>
<rect x="9.9" y="657.03" width="21.3" height="10.67" fill="#EB9398"/>
<rect x="30" y="657.03" width="21.3" height="10.67" fill="#E8646A"/>
<rect x="50.1" y="657.03" width="21.3" height="10.67" fill="#EB9398"/>
<rect x="70.2" y="657.03" width="21.3" height="10.67" fill="#D8DBEE"/>
<rect x="90.3" y="657.03" width="21.3" height="10.67" fill="#6A72BA"/>
<rect x="110.4" y="657.03" width="21.3" height="10.67" fill="#3A52A6"/>
<rect x="9.9" y="666.5" width="21.3" height="10.67" fill="#F2C9CD"/>
<rect x="30" y="666.5" width="21.3" height="10.67" fill="#E8767D"/>
<rect x="50.1" y="666.5" width="21.3" height="10.67" fill="#E84048"/>
<rect x="70.2" y="666.5" width="21.3" height="10.67" fill="#8F95CB"/>
<rect x="90.3" y="666.5" width="21.3" height="10.67" fill="#4C5AAC"/>
<rect x="110.4" y="666.5" width="21.3" height="10.67" fill="#4C5AAC"/>
<rect x="9.9" y="675.97" width="21.3" height="10.67" fill="#F2C9CD"/>
<rect x="30" y="675.97" width="21.3" height="10.67" fill="#E8646A"/>
<rect x="50.1" y="675.97" width="21.3" height="10.67" fill="#E8646A"/>
<rect x="70.2" y="675.97" width="21.3" height="10.67" fill="#D8DBEE"/>
<rect x="90.3" y="675.97" width="21.3" height="10.67" fill="#3A52A6"/>
<rect x="110.4" y="675.97" width="21.3" height="10.67" fill="#4C5AAC"/>
<rect x="9.9" y="685.44" width="21.3" height="10.67" fill="#F2C9CD"/>
<rect x="30" y="685.44" width="21.3" height="10.67" fill="#E8646A"/>
<rect x="50.1" y="685.44" width="21.3" height="10.67" fill="#E8646A"/>
<rect x="70.2" y="685.44" width="21.3" height="10.67" fill="#D8DBEE"/>
<rect x="90.3" y="685.44" width="21.3" height="10.67" fill="#3A52A6"/>
<rect x="110.4" y="685.44" width="21.3" height="10.67" fill="#4C5AAC"/>
<rect x="9.9" y="694.91" width="21.3" height="10.67" fill="#EB9398"/>
<rect x="30" y="694.91" width="21.3" height="10.67" fill="#3A52A6"/>
<rect x="50.1" y="694.91" width="21.3" height="10.67" fill="#B6BADF"/>
<rect x="70.2" y="694.91" width="21.3" height="10.67" fill="#E8646A"/>
<rect x="90.3" y="694.91" width="21.3" height="10.67" fill="#E8646A"/>
<rect x="110.4" y="694.91" width="21.3" height="10.67" fill="#4C5AAC"/>
<rect x="9.9" y="704.38" width="21.3" height="10.67" fill="#D8DBEE"/>
<rect x="30" y="704.38" width="21.3" height="10.67" fill="#3A52A6"/>
<rect x="50.1" y="704.38" width="21.3" height="10.67" fill="#6A72BA"/>
<rect x="70.2" y="704.38" width="21.3" height="10.67" fill="#E8646A"/>
<rect x="90.3" y="704.38" width="21.3" height="10.67" fill="#E8646A"/>
<rect x="110.4" y="704.38" width="21.3" height="10.67" fill="#F8F4F5"/>
<rect x="9.9" y="713.85" width="21.3" height="10.67" fill="#8F95CB"/>
<rect x="30" y="713.85" width="21.3" height="10.67" fill="#4C5AAC"/>
<rect x="50.1" y="713.85" width="21.3" height="10.67" fill="#4C5AAC"/>
<rect x="70.2" y="713.85" width="21.3" height="10.67" fill="#E82A2A"/>
<rect x="90.3" y="713.85" width="21.3" height="10.67" fill="#E8767D"/>
<rect x="110.4" y="713.85" width="21.3" height="10.67" fill="#F8F4F5"/>
<rect x="9.9" y="723.32" width="21.3" height="10.67" fill="#8F95CB"/>
<rect x="30" y="723.32" width="21.3" height="10.67" fill="#4C5AAC"/>
<rect x="50.1" y="723.32" width="21.3" height="10.67" fill="#8F95CB"/>
<rect x="70.2" y="723.32" width="21.3" height="10.67" fill="#E82A2A"/>
<rect x="90.3" y="723.32" width="21.3" height="10.67" fill="#F8F4F5"/>
<rect x="110.4" y="723.32" width="21.3" height="10.67" fill="#F2C9CD"/>
<rect x="9.9" y="732.79" width="21.3" height="10.67" fill="#8F95CB"/>
<rect x="30" y="732.79" width="21.3" height="10.67" fill="#6A72BA"/>
<rect x="50.1" y="732.79" width="21.3" height="10.67" fill="#4C5AAC"/>
<rect x="70.2" y="732.79" width="21.3" height="10.67" fill="#E82A2A"/>
<rect x="90.3" y="732.79" width="21.3" height="10.67" fill="#F2C9CD"/>
<rect x="110.4" y="732.79" width="21.3" height="10.67" fill="#F8F4F5"/>
<rect x="9.9" y="742.26" width="21.3" height="10.67" fill="#4C5AAC"/>
<rect x="30" y="742.26" width="21.3" height="10.67" fill="#4C5AAC"/>
<rect x="50.1" y="742.26" width="21.3" height="10.67" fill="#8F95CB"/>
<rect x="70.2" y="742.26" width="21.3" height="10.67" fill="#E84048"/>
<rect x="90.3" y="742.26" width="21.3" height="10.67" fill="#F2C9CD"/>
<rect x="110.4" y="742.26" width="21.3" height="10.67" fill="#E8767D"/>
<rect x="9.9" y="751.73" width="21.3" height="10.67" fill="#6A72BA"/>
<rect x="30" y="751.73" width="21.3" height="10.67" fill="#4C5AAC"/>
<rect x="50.1" y="751.73" width="21.3" height="10.67" fill="#6A72BA"/>
<rect x="70.2" y="751.73" width="21.3" height="10.67" fill="#E84048"/>
<rect x="90.3" y="751.73" width="21.3" height="10.67" fill="#F2C9CD"/>
<rect x="110.4" y="751.73" width="21.3" height="10.67" fill="#E8646A"/>
<rect x="9.9" y="761.2" width="21.3" height="10.67" fill="#3A52A6"/>
<rect x="30" y="761.2" width="21.3" height="10.67" fill="#8F95CB"/>
<rect x="50.1" y="761.2" width="21.3" height="10.67" fill="#8F95CB"/>
<rect x="70.2" y="761.2" width="21.3" height="10.67" fill="#E8646A"/>
<rect x="90.3" y="761.2" width="21.3" height="10.67" fill="#EB9398"/>
<rect x="110.4" y="761.2" width="21.3" height="10.67" fill="#E8646A"/>
<rect x="9.9" y="770.67" width="21.3" height="10.67" fill="#3A52A6"/>
<rect x="30" y="770.67" width="21.3" height="10.67" fill="#B6BADF"/>
<rect x="50.1" y="770.67" width="21.3" height="10.67" fill="#4C5AAC"/>
<rect x="70.2" y="770.67" width="21.3" height="10.67" fill="#E8646A"/>
<rect x="90.3" y="770.67" width="21.3" height="10.67" fill="#E8767D"/>
<rect x="110.4" y="770.67" width="21.3" height="10.67" fill="#EB9398"/>
<rect x="9.9" y="780.14" width="21.3" height="10.67" fill="#4C5AAC"/>
<rect x="30" y="780.14" width="21.3" height="10.67" fill="#8F95CB"/>
<rect x="50.1" y="780.14" width="21.3" height="10.67" fill="#4C5AAC"/>
<rect x="70.2" y="780.14" width="21.3" height="10.67" fill="#E84048"/>
<rect x="90.3" y="780.14" width="21.3" height="10.67" fill="#F2C9CD"/>
<rect x="110.4" y="780.14" width="21.3" height="10.67" fill="#EB9398"/>
</g>
<text x="132.8" y="577.69" font-size="3.2" text-anchor="start" fill="#3a3a3a">gene-LOC101114750</text>
<text x="132.8" y="587.16" font-size="3.2" text-anchor="start" fill="#3a3a3a">gene-MAD2L2</text>
<text x="132.8" y="596.63" font-size="3.2" text-anchor="start" fill="#3a3a3a">gene-SP1</text>
<text x="132.8" y="606.1" font-size="3.2" text-anchor="start" fill="#3a3a3a">gene-CREB5</text>
<text x="132.8" y="615.57" font-size="3.2" text-anchor="start" fill="#3a3a3a">gene-BUB1</text>
<text x="132.8" y="625.04" font-size="3.2" text-anchor="start" fill="#3a3a3a">gene-AURKA</text>
<text x="132.8" y="634.51" font-size="3.2" text-anchor="start" fill="#3a3a3a">gene-CCNA2</text>
<text x="132.8" y="643.98" font-size="3.2" text-anchor="start" fill="#3a3a3a">gene-PIK3CB</text>
<text x="132.8" y="653.45" font-size="3.2" text-anchor="start" fill="#3a3a3a">gene-GNAI1</text>
<text x="132.8" y="662.92" font-size="3.2" text-anchor="start" fill="#3a3a3a">gene-RPS6KA1</text>
<text x="132.8" y="672.39" font-size="3.2" text-anchor="start" fill="#3a3a3a">gene-CCNB3</text>
<text x="132.8" y="681.86" font-size="3.2" text-anchor="start" fill="#3a3a3a">gene-CDC25B</text>
<text x="132.8" y="691.33" font-size="3.2" text-anchor="start" fill="#3a3a3a">gene-MAPK11</text>
<text x="132.8" y="700.8" font-size="3.2" text-anchor="start" fill="#3a3a3a">gene-FSHR</text>
<text x="132.8" y="710.27" font-size="3.2" text-anchor="start" fill="#3a3a3a">gene-LOC101116706</text>
<text x="132.8" y="719.74" font-size="3.2" text-anchor="start" fill="#3a3a3a">gene-LOC121813861</text>
<text x="132.8" y="729.21" font-size="3.2" text-anchor="start" fill="#3a3a3a">gene-NOS3</text>
<text x="132.8" y="738.68" font-size="3.2" text-anchor="start" fill="#3a3a3a">gene-MMP9</text>
<text x="132.8" y="748.15" font-size="3.2" text-anchor="start" fill="#3a3a3a">gene-TGFA</text>
<text x="132.8" y="757.62" font-size="3.2" text-anchor="start" fill="#3a3a3a">gene-PLA2G4B</text>
<text x="132.8" y="767.09" font-size="3.2" text-anchor="start" fill="#3a3a3a">gene-LOC101114886</text>
<text x="132.8" y="776.56" font-size="3.2" text-anchor="start" fill="#3a3a3a">gene-ESR2</text>
<text x="132.8" y="786.03" font-size="3.2" text-anchor="start" fill="#3a3a3a">gene-MAPK13</text>
<text x="21.55" y="792.21" font-size="3.4" text-anchor="end" fill="#333" transform="rotate(-55 21.55 792.21)">SI_C2</text>
<text x="41.65" y="792.21" font-size="3.4" text-anchor="end" fill="#333" transform="rotate(-55 41.65 792.21)">SI_C1</text>
<text x="61.75" y="792.21" font-size="3.4" text-anchor="end" fill="#333" transform="rotate(-55 61.75 792.21)">SI_C3</text>
<text x="81.85" y="792.21" font-size="3.4" text-anchor="end" fill="#333" transform="rotate(-55 81.85 792.21)">SI_A1</text>
<text x="101.95" y="792.21" font-size="3.4" text-anchor="end" fill="#333" transform="rotate(-55 101.95 792.21)">SI_A2</text>
<text x="122.05" y="792.21" font-size="3.4" text-anchor="end" fill="#333" transform="rotate(-55 122.05 792.21)">SI_A3</text>
<clipPath id="hmclip4"><rect x="193.1" y="572.9" width="120.9" height="217.35"/></clipPath>
<g clip-path="url(#hmclip4)">
<rect x="193.1" y="572.9" width="21.35" height="10.65" fill="#D8DBEE"/>
<rect x="213.25" y="572.9" width="21.35" height="10.65" fill="#8F95CB"/>
<rect x="233.4" y="572.9" width="21.35" height="10.65" fill="#3A52A6"/>
<rect x="253.55" y="572.9" width="21.35" height="10.65" fill="#E8646A"/>
<rect x="273.7" y="572.9" width="21.35" height="10.65" fill="#F2C9CD"/>
<rect x="293.85" y="572.9" width="21.35" height="10.65" fill="#EB9398"/>
<rect x="193.1" y="582.35" width="21.35" height="10.65" fill="#F2C9CD"/>
<rect x="213.25" y="582.35" width="21.35" height="10.65" fill="#B6BADF"/>
<rect x="233.4" y="582.35" width="21.35" height="10.65" fill="#3A52A6"/>
<rect x="253.55" y="582.35" width="21.35" height="10.65" fill="#F4DDE0"/>
<rect x="273.7" y="582.35" width="21.35" height="10.65" fill="#EB9398"/>
<rect x="293.85" y="582.35" width="21.35" height="10.65" fill="#E8767D"/>
<rect x="193.1" y="591.8" width="21.35" height="10.65" fill="#4C5AAC"/>
<rect x="213.25" y="591.8" width="21.35" height="10.65" fill="#D8DBEE"/>
<rect x="233.4" y="591.8" width="21.35" height="10.65" fill="#D8DBEE"/>
<rect x="253.55" y="591.8" width="21.35" height="10.65" fill="#8F95CB"/>
<rect x="273.7" y="591.8" width="21.35" height="10.65" fill="#E8646A"/>
<rect x="293.85" y="591.8" width="21.35" height="10.65" fill="#E84048"/>
<rect x="193.1" y="601.25" width="21.35" height="10.65" fill="#6A72BA"/>
<rect x="213.25" y="601.25" width="21.35" height="10.65" fill="#B6BADF"/>
<rect x="233.4" y="601.25" width="21.35" height="10.65" fill="#D8DBEE"/>
<rect x="253.55" y="601.25" width="21.35" height="10.65" fill="#B6BADF"/>
<rect x="273.7" y="601.25" width="21.35" height="10.65" fill="#E82A2A"/>
<rect x="293.85" y="601.25" width="21.35" height="10.65" fill="#F2C9CD"/>
<rect x="193.1" y="610.7" width="21.35" height="10.65" fill="#6A72BA"/>
<rect x="213.25" y="610.7" width="21.35" height="10.65" fill="#4C5AAC"/>
<rect x="233.4" y="610.7" width="21.35" height="10.65" fill="#B6BADF"/>
<rect x="253.55" y="610.7" width="21.35" height="10.65" fill="#F2C9CD"/>
<rect x="273.7" y="610.7" width="21.35" height="10.65" fill="#E8646A"/>
<rect x="293.85" y="610.7" width="21.35" height="10.65" fill="#E8767D"/>
<rect x="193.1" y="620.15" width="21.35" height="10.65" fill="#6A72BA"/>
<rect x="213.25" y="620.15" width="21.35" height="10.65" fill="#4C5AAC"/>
<rect x="233.4" y="620.15" width="21.35" height="10.65" fill="#F8F4F5"/>
<rect x="253.55" y="620.15" width="21.35" height="10.65" fill="#E8767D"/>
<rect x="273.7" y="620.15" width="21.35" height="10.65" fill="#E8767D"/>
<rect x="293.85" y="620.15" width="21.35" height="10.65" fill="#EB9398"/>
<rect x="193.1" y="629.6" width="21.35" height="10.65" fill="#4C5AAC"/>
<rect x="213.25" y="629.6" width="21.35" height="10.65" fill="#6A72BA"/>
<rect x="233.4" y="629.6" width="21.35" height="10.65" fill="#D8DBEE"/>
<rect x="253.55" y="629.6" width="21.35" height="10.65" fill="#E8767D"/>
<rect x="273.7" y="629.6" width="21.35" height="10.65" fill="#E8767D"/>
<rect x="293.85" y="629.6" width="21.35" height="10.65" fill="#EB9398"/>
<rect x="193.1" y="639.05" width="21.35" height="10.65" fill="#6A72BA"/>
<rect x="213.25" y="639.05" width="21.35" height="10.65" fill="#4C5AAC"/>
<rect x="233.4" y="639.05" width="21.35" height="10.65" fill="#EB9398"/>
<rect x="253.55" y="639.05" width="21.35" height="10.65" fill="#E8646A"/>
<rect x="273.7" y="639.05" width="21.35" height="10.65" fill="#F2C9CD"/>
<rect x="293.85" y="639.05" width="21.35" height="10.65" fill="#EB9398"/>
<rect x="193.1" y="648.5" width="21.35" height="10.65" fill="#4C5AAC"/>
<rect x="213.25" y="648.5" width="21.35" height="10.65" fill="#4C5AAC"/>
<rect x="233.4" y="648.5" width="21.35" height="10.65" fill="#F2C9CD"/>
<rect x="253.55" y="648.5" width="21.35" height="10.65" fill="#E8646A"/>
<rect x="273.7" y="648.5" width="21.35" height="10.65" fill="#EB9398"/>
<rect x="293.85" y="648.5" width="21.35" height="10.65" fill="#F2C9CD"/>
<rect x="193.1" y="657.95" width="21.35" height="10.65" fill="#B6BADF"/>
<rect x="213.25" y="657.95" width="21.35" height="10.65" fill="#3A52A6"/>
<rect x="233.4" y="657.95" width="21.35" height="10.65" fill="#F2C9CD"/>
<rect x="253.55" y="657.95" width="21.35" height="10.65" fill="#E8646A"/>
<rect x="273.7" y="657.95" width="21.35" height="10.65" fill="#F2C9CD"/>
<rect x="293.85" y="657.95" width="21.35" height="10.65" fill="#EB9398"/>
<rect x="193.1" y="667.4" width="21.35" height="10.65" fill="#8F95CB"/>
<rect x="213.25" y="667.4" width="21.35" height="10.65" fill="#3A52A6"/>
<rect x="233.4" y="667.4" width="21.35" height="10.65" fill="#F2C9CD"/>
<rect x="253.55" y="667.4" width="21.35" height="10.65" fill="#E8767D"/>
<rect x="273.7" y="667.4" width="21.35" height="10.65" fill="#F4DDE0"/>
<rect x="293.85" y="667.4" width="21.35" height="10.65" fill="#E8646A"/>
<rect x="193.1" y="676.85" width="21.35" height="10.65" fill="#6A72BA"/>
<rect x="213.25" y="676.85" width="21.35" height="10.65" fill="#3A52A6"/>
<rect x="233.4" y="676.85" width="21.35" height="10.65" fill="#EB9398"/>
<rect x="253.55" y="676.85" width="21.35" height="10.65" fill="#EB9398"/>
<rect x="273.7" y="676.85" width="21.35" height="10.65" fill="#F8F4F5"/>
<rect x="293.85" y="676.85" width="21.35" height="10.65" fill="#E8646A"/>
<rect x="193.1" y="686.3" width="21.35" height="10.65" fill="#EB9398"/>
<rect x="213.25" y="686.3" width="21.35" height="10.65" fill="#3A52A6"/>
<rect x="233.4" y="686.3" width="21.35" height="10.65" fill="#D8DBEE"/>
<rect x="253.55" y="686.3" width="21.35" height="10.65" fill="#EB9398"/>
<rect x="273.7" y="686.3" width="21.35" height="10.65" fill="#F8F4F5"/>
<rect x="293.85" y="686.3" width="21.35" height="10.65" fill="#EB9398"/>
<rect x="193.1" y="695.75" width="21.35" height="10.65" fill="#D8DBEE"/>
<rect x="213.25" y="695.75" width="21.35" height="10.65" fill="#3A52A6"/>
<rect x="233.4" y="695.75" width="21.35" height="10.65" fill="#E8646A"/>
<rect x="253.55" y="695.75" width="21.35" height="10.65" fill="#E8767D"/>
<rect x="273.7" y="695.75" width="21.35" height="10.65" fill="#8F95CB"/>
<rect x="293.85" y="695.75" width="21.35" height="10.65" fill="#EB9398"/>
<rect x="193.1" y="705.2" width="21.35" height="10.65" fill="#E84048"/>
<rect x="213.25" y="705.2" width="21.35" height="10.65" fill="#F4DDE0"/>
<rect x="233.4" y="705.2" width="21.35" height="10.65" fill="#EB9398"/>
<rect x="253.55" y="705.2" width="21.35" height="10.65" fill="#B6BADF"/>
<rect x="273.7" y="705.2" width="21.35" height="10.65" fill="#6A72BA"/>
<rect x="293.85" y="705.2" width="21.35" height="10.65" fill="#6A72BA"/>
<rect x="193.1" y="714.65" width="21.35" height="10.65" fill="#E84048"/>
<rect x="213.25" y="714.65" width="21.35" height="10.65" fill="#B6BADF"/>
<rect x="233.4" y="714.65" width="21.35" height="10.65" fill="#EB9398"/>
<rect x="253.55" y="714.65" width="21.35" height="10.65" fill="#6A72BA"/>
<rect x="273.7" y="714.65" width="21.35" height="10.65" fill="#6A72BA"/>
<rect x="293.85" y="714.65" width="21.35" height="10.65" fill="#F8F4F5"/>
<rect x="193.1" y="724.1" width="21.35" height="10.65" fill="#E84048"/>
<rect x="213.25" y="724.1" width="21.35" height="10.65" fill="#F2C9CD"/>
<rect x="233.4" y="724.1" width="21.35" height="10.65" fill="#F8F4F5"/>
<rect x="253.55" y="724.1" width="21.35" height="10.65" fill="#8F95CB"/>
<rect x="273.7" y="724.1" width="21.35" height="10.65" fill="#3A52A6"/>
<rect x="293.85" y="724.1" width="21.35" height="10.65" fill="#F2C9CD"/>
<rect x="193.1" y="733.55" width="21.35" height="10.65" fill="#E84048"/>
<rect x="213.25" y="733.55" width="21.35" height="10.65" fill="#E8767D"/>
<rect x="233.4" y="733.55" width="21.35" height="10.65" fill="#6A72BA"/>
<rect x="253.55" y="733.55" width="21.35" height="10.65" fill="#E4E6F3"/>
<rect x="273.7" y="733.55" width="21.35" height="10.65" fill="#6A72BA"/>
<rect x="293.85" y="733.55" width="21.35" height="10.65" fill="#B6BADF"/>
<rect x="193.1" y="743" width="21.35" height="10.65" fill="#E82A2A"/>
<rect x="213.25" y="743" width="21.35" height="10.65" fill="#D8DBEE"/>
<rect x="233.4" y="743" width="21.35" height="10.65" fill="#8F95CB"/>
<rect x="253.55" y="743" width="21.35" height="10.65" fill="#D8DBEE"/>
<rect x="273.7" y="743" width="21.35" height="10.65" fill="#6A72BA"/>
<rect x="293.85" y="743" width="21.35" height="10.65" fill="#F2C9CD"/>
<rect x="193.1" y="752.45" width="21.35" height="10.65" fill="#E82A2A"/>
<rect x="213.25" y="752.45" width="21.35" height="10.65" fill="#D8DBEE"/>
<rect x="233.4" y="752.45" width="21.35" height="10.65" fill="#4C5AAC"/>
<rect x="253.55" y="752.45" width="21.35" height="10.65" fill="#E4E6F3"/>
<rect x="273.7" y="752.45" width="21.35" height="10.65" fill="#B6BADF"/>
<rect x="293.85" y="752.45" width="21.35" height="10.65" fill="#F2C9CD"/>
<rect x="193.1" y="761.9" width="21.35" height="10.65" fill="#F2C9CD"/>
<rect x="213.25" y="761.9" width="21.35" height="10.65" fill="#F8F4F5"/>
<rect x="233.4" y="761.9" width="21.35" height="10.65" fill="#E8767D"/>
<rect x="253.55" y="761.9" width="21.35" height="10.65" fill="#D8DBEE"/>
<rect x="273.7" y="761.9" width="21.35" height="10.65" fill="#E8767D"/>
<rect x="293.85" y="761.9" width="21.35" height="10.65" fill="#3A52A6"/>
<rect x="193.1" y="771.35" width="21.35" height="10.65" fill="#8F95CB"/>
<rect x="213.25" y="771.35" width="21.35" height="10.65" fill="#F2C9CD"/>
<rect x="233.4" y="771.35" width="21.35" height="10.65" fill="#B6BADF"/>
<rect x="253.55" y="771.35" width="21.35" height="10.65" fill="#E84048"/>
<rect x="273.7" y="771.35" width="21.35" height="10.65" fill="#F2C9CD"/>
<rect x="293.85" y="771.35" width="21.35" height="10.65" fill="#4C5AAC"/>
<rect x="193.1" y="780.8" width="21.35" height="10.65" fill="#F8F4F5"/>
<rect x="213.25" y="780.8" width="21.35" height="10.65" fill="#E84048"/>
<rect x="233.4" y="780.8" width="21.35" height="10.65" fill="#B6BADF"/>
<rect x="253.55" y="780.8" width="21.35" height="10.65" fill="#E8767D"/>
<rect x="273.7" y="780.8" width="21.35" height="10.65" fill="#4C5AAC"/>
<rect x="293.85" y="780.8" width="21.35" height="10.65" fill="#6A72BA"/>
</g>
<text x="316.2" y="578.78" font-size="3.2" text-anchor="start" fill="#3a3a3a">gene-RPS6KA1</text>
<text x="316.2" y="588.23" font-size="3.2" text-anchor="start" fill="#3a3a3a">gene-HCG3</text>
<text x="316.2" y="597.68" font-size="3.2" text-anchor="start" fill="#3a3a3a">gene-ESR2</text>
<text x="316.2" y="607.13" font-size="3.2" text-anchor="start" fill="#3a3a3a">gene-SP1</text>
<text x="316.2" y="616.58" font-size="3.2" text-anchor="start" fill="#3a3a3a">gene-PIK3CB</text>
<text x="316.2" y="626.03" font-size="3.2" text-anchor="start" fill="#3a3a3a">gene-CCNB3</text>
<text x="316.2" y="635.48" font-size="3.2" text-anchor="start" fill="#3a3a3a">gene-GNAI1</text>
<text x="316.2" y="644.93" font-size="3.2" text-anchor="start" fill="#3a3a3a">gene-LOC101116706</text>
<text x="316.2" y="654.38" font-size="3.2" text-anchor="start" fill="#3a3a3a">gene-CREB5</text>
<text x="316.2" y="663.83" font-size="3.2" text-anchor="start" fill="#3a3a3a">gene-BUB1</text>
<text x="316.2" y="673.28" font-size="3.2" text-anchor="start" fill="#3a3a3a">gene-TGFA</text>
<text x="316.2" y="682.73" font-size="3.2" text-anchor="start" fill="#3a3a3a">gene-CCNA2</text>
<text x="316.2" y="692.18" font-size="3.2" text-anchor="start" fill="#3a3a3a">gene-CDC25B</text>
<text x="316.2" y="701.63" font-size="3.2" text-anchor="start" fill="#3a3a3a">gene-AURKA</text>
<text x="316.2" y="711.08" font-size="3.2" text-anchor="start" fill="#3a3a3a">gene-LOC101114886</text>
<text x="316.2" y="720.53" font-size="3.2" text-anchor="start" fill="#3a3a3a">gene-FSHR</text>
<text x="316.2" y="729.98" font-size="3.2" text-anchor="start" fill="#3a3a3a">gene-MAPK13</text>
<text x="316.2" y="739.43" font-size="3.2" text-anchor="start" fill="#3a3a3a">gene-MAPK11</text>
<text x="316.2" y="748.88" font-size="3.2" text-anchor="start" fill="#3a3a3a">gene-MMP9</text>
<text x="316.2" y="758.33" font-size="3.2" text-anchor="start" fill="#3a3a3a">gene-LOC121813861</text>
<text x="316.2" y="767.78" font-size="3.2" text-anchor="start" fill="#3a3a3a">gene-PLA2G4B</text>
<text x="316.2" y="777.23" font-size="3.2" text-anchor="start" fill="#3a3a3a">gene-LOC101114750</text>
<text x="316.2" y="786.68" font-size="3.2" text-anchor="start" fill="#3a3a3a">gene-MAD2L2</text>
<text x="204.77" y="792.85" font-size="3.4" text-anchor="end" fill="#333" transform="rotate(-55 204.77 792.85)">OE_C2</text>
<text x="224.92" y="792.85" font-size="3.4" text-anchor="end" fill="#333" transform="rotate(-55 224.92 792.85)">OE_C3</text>
<text x="245.07" y="792.85" font-size="3.4" text-anchor="end" fill="#333" transform="rotate(-55 245.07 792.85)">OE_C1</text>
<text x="265.23" y="792.85" font-size="3.4" text-anchor="end" fill="#333" transform="rotate(-55 265.23 792.85)">OE_A2</text>
<text x="285.38" y="792.85" font-size="3.4" text-anchor="end" fill="#333" transform="rotate(-55 285.38 792.85)">OE_A1</text>
<text x="305.53" y="792.85" font-size="3.4" text-anchor="end" fill="#333" transform="rotate(-55 305.53 792.85)">OE_A3</text>
<rect x="175" y="45.2" width="5.1" height="26.6" fill="url(#cbA)"/>
<line x1="180.1" y1="47.6" x2="181.1" y2="47.6" stroke="#666" stroke-width="0.35"/>
<text x="181.5" y="48.9" font-size="3.6" text-anchor="start" fill="#333">1.5</text>
<line x1="180.1" y1="51.6" x2="181.1" y2="51.6" stroke="#666" stroke-width="0.35"/>
<text x="181.5" y="52.9" font-size="3.6" text-anchor="start" fill="#333">1</text>
<line x1="180.1" y1="55.5" x2="181.1" y2="55.5" stroke="#666" stroke-width="0.35"/>
<text x="181.5" y="56.8" font-size="3.6" text-anchor="start" fill="#333">0.5</text>
<line x1="180.1" y1="59.4" x2="181.1" y2="59.4" stroke="#666" stroke-width="0.35"/>
<text x="181.5" y="60.7" font-size="3.6" text-anchor="start" fill="#333">0</text>
<line x1="180.1" y1="63.3" x2="181.1" y2="63.3" stroke="#666" stroke-width="0.35"/>
<text x="181.5" y="64.6" font-size="3.6" text-anchor="start" fill="#333">-0.5</text>
<line x1="180.1" y1="67.2" x2="181.1" y2="67.2" stroke="#666" stroke-width="0.35"/>
<text x="181.5" y="68.5" font-size="3.6" text-anchor="start" fill="#333">-1</text>
<line x1="180.1" y1="71.1" x2="181.1" y2="71.1" stroke="#666" stroke-width="0.35"/>
<text x="181.5" y="72.4" font-size="3.6" text-anchor="start" fill="#333">-1.5</text>
<rect x="176.2" y="587" width="5.7" height="26.7" fill="url(#cbF)"/>
<line x1="181.9" y1="594.4" x2="182.9" y2="594.4" stroke="#666" stroke-width="0.35"/>
<text x="183.3" y="595.7" font-size="3.6" text-anchor="start" fill="#333">1</text>
<line x1="181.9" y1="601.9" x2="182.9" y2="601.9" stroke="#666" stroke-width="0.35"/>
<text x="183.3" y="603.2" font-size="3.6" text-anchor="start" fill="#333">0</text>
<line x1="181.9" y1="609.4" x2="182.9" y2="609.4" stroke="#666" stroke-width="0.35"/>
<text x="183.3" y="610.7" font-size="3.6" text-anchor="start" fill="#333">-1</text>
<text x="7" y="16" font-size="21.8" text-anchor="start" fill="#000">A</text>
<text x="361.6" y="16" font-size="21.8" text-anchor="start" fill="#000">B</text>
<text x="6.5" y="286" font-size="21.8" text-anchor="start" fill="#000">C</text>
<text x="7.5" y="421.6" font-size="21.8" text-anchor="start" fill="#000">D</text>
<text x="363.5" y="175.8" font-size="21.8" text-anchor="start" fill="#000">E</text>
<text x="9.5" y="561.6" font-size="21.8" text-anchor="start" fill="#000">F</text>
<text x="6.8" y="833.6" font-size="21.8" text-anchor="start" fill="#000">G</text>
<text x="378.2" y="572" font-size="21.8" text-anchor="start" fill="#000">H</text>
<text x="376" y="843.4" font-size="21.8" text-anchor="start" fill="#000">I</text>
<rect x="385.9" y="65.8" width="5.8" height="47.2" fill="#808080"/>
<rect x="394.9" y="88.93" width="5.8" height="24.07" fill="#DB5A52"/>
<rect x="409.1" y="61.55" width="5.8" height="51.45" fill="#808080"/>
<rect x="418.1" y="83.74" width="5.8" height="29.26" fill="#DB5A52"/>
<rect x="432.3" y="63.44" width="5.8" height="49.56" fill="#808080"/>
<rect x="441.3" y="75.24" width="5.8" height="37.76" fill="#DB5A52"/>
<rect x="455.5" y="64.86" width="5.8" height="48.14" fill="#808080"/>
<rect x="464.5" y="92.23" width="5.8" height="20.77" fill="#DB5A52"/>
<rect x="478.7" y="62.02" width="5.8" height="50.98" fill="#808080"/>
<rect x="487.7" y="88.93" width="5.8" height="24.07" fill="#DB5A52"/>
<rect x="501.9" y="67.22" width="5.8" height="45.78" fill="#808080"/>
<rect x="510.9" y="99.31" width="5.8" height="13.69" fill="#DB5A52"/>
<line x1="388.8" y1="65.8" x2="388.8" y2="62.97" stroke="#111" stroke-width="0.7"/>
<line x1="387.58" y1="62.97" x2="390.02" y2="62.97" stroke="#111" stroke-width="0.7"/>
<circle cx="387.2" cy="70.52" r="1.3" fill="#0a0a0a"/>
<circle cx="388.8" cy="65.8" r="1.3" fill="#0a0a0a"/>
<circle cx="388.8" cy="61.08" r="1.3" fill="#0a0a0a"/>
<line x1="397.8" y1="88.93" x2="397.8" y2="87.98" stroke="#111" stroke-width="0.7"/>
<line x1="396.58" y1="87.98" x2="399.02" y2="87.98" stroke="#111" stroke-width="0.7"/>
<circle cx="395.9" cy="89.4" r="1.3" fill="#0a0a0a"/>
<circle cx="397.8" cy="87.98" r="1.3" fill="#0a0a0a"/>
<circle cx="399.7" cy="88.46" r="1.3" fill="#0a0a0a"/>
<text x="397.8" y="87.39" font-size="7.5" text-anchor="middle" font-weight="bold" fill="#111" letter-spacing="1.1" stroke="#111" stroke-width="0.5">**</text>
<line x1="412" y1="61.55" x2="412" y2="58.25" stroke="#111" stroke-width="0.7"/>
<line x1="410.78" y1="58.25" x2="413.22" y2="58.25" stroke="#111" stroke-width="0.7"/>
<circle cx="412" cy="69.1" r="1.3" fill="#0a0a0a"/>
<circle cx="412" cy="61.55" r="1.3" fill="#0a0a0a"/>
<circle cx="412" cy="55.42" r="1.3" fill="#0a0a0a"/>
<line x1="421" y1="83.74" x2="421" y2="81.85" stroke="#111" stroke-width="0.7"/>
<line x1="419.78" y1="81.85" x2="422.22" y2="81.85" stroke="#111" stroke-width="0.7"/>
<circle cx="419.1" cy="84.68" r="1.3" fill="#0a0a0a"/>
<circle cx="421" cy="80.43" r="1.3" fill="#0a0a0a"/>
<circle cx="422.9" cy="84.68" r="1.3" fill="#0a0a0a"/>
<text x="421" y="78.42" font-size="7.5" text-anchor="middle" font-weight="bold" fill="#111" letter-spacing="1.1" stroke="#111" stroke-width="0.5">**</text>
<line x1="435.2" y1="63.44" x2="435.2" y2="61.08" stroke="#111" stroke-width="0.7"/>
<line x1="433.98" y1="61.08" x2="436.42" y2="61.08" stroke="#111" stroke-width="0.7"/>
<circle cx="433.4" cy="63.44" r="1.3" fill="#0a0a0a"/>
<circle cx="437" cy="63.44" r="1.3" fill="#0a0a0a"/>
<circle cx="435.2" cy="59.19" r="1.3" fill="#0a0a0a"/>
<line x1="444.2" y1="75.24" x2="444.2" y2="74.3" stroke="#111" stroke-width="0.7"/>
<line x1="442.98" y1="74.3" x2="445.42" y2="74.3" stroke="#111" stroke-width="0.7"/>
<circle cx="442.3" cy="75.71" r="1.3" fill="#0a0a0a"/>
<circle cx="444.2" cy="74.3" r="1.3" fill="#0a0a0a"/>
<circle cx="446.1" cy="74.77" r="1.3" fill="#0a0a0a"/>
<text x="444.2" y="73.23" font-size="7.5" text-anchor="middle" font-weight="bold" fill="#111" letter-spacing="1.1" stroke="#111" stroke-width="0.5">**</text>
<line x1="458.4" y1="64.86" x2="458.4" y2="60.14" stroke="#111" stroke-width="0.7"/>
<line x1="457.18" y1="60.14" x2="459.62" y2="60.14" stroke="#111" stroke-width="0.7"/>
<circle cx="458.4" cy="70.52" r="1.3" fill="#0a0a0a"/>
<circle cx="458.4" cy="62.97" r="1.3" fill="#0a0a0a"/>
<circle cx="458.4" cy="58.72" r="1.3" fill="#0a0a0a"/>
<line x1="467.4" y1="92.23" x2="467.4" y2="89.4" stroke="#111" stroke-width="0.7"/>
<line x1="466.18" y1="89.4" x2="468.62" y2="89.4" stroke="#111" stroke-width="0.7"/>
<circle cx="467.4" cy="96.95" r="1.3" fill="#0a0a0a"/>
<circle cx="467.4" cy="90.82" r="1.3" fill="#0a0a0a"/>
<circle cx="467.4" cy="88.93" r="1.3" fill="#0a0a0a"/>
<text x="467.4" y="86.92" font-size="7.5" text-anchor="middle" font-weight="bold" fill="#111" letter-spacing="1.1" stroke="#111" stroke-width="0.5">**</text>
<line x1="481.6" y1="62.02" x2="481.6" y2="60.61" stroke="#111" stroke-width="0.7"/>
<line x1="480.38" y1="60.61" x2="482.82" y2="60.61" stroke="#111" stroke-width="0.7"/>
<circle cx="479.8" cy="62.02" r="1.3" fill="#0a0a0a"/>
<circle cx="481.6" cy="60.14" r="1.3" fill="#0a0a0a"/>
<circle cx="483.4" cy="61.08" r="1.3" fill="#0a0a0a"/>
<line x1="490.6" y1="88.93" x2="490.6" y2="87.51" stroke="#111" stroke-width="0.7"/>
<line x1="489.38" y1="87.51" x2="491.82" y2="87.51" stroke="#111" stroke-width="0.7"/>
<circle cx="488.7" cy="89.4" r="1.3" fill="#0a0a0a"/>
<circle cx="490.6" cy="87.04" r="1.3" fill="#0a0a0a"/>
<circle cx="492.5" cy="88.46" r="1.3" fill="#0a0a0a"/>
<text x="490.6" y="85.5" font-size="7.5" text-anchor="middle" font-weight="bold" fill="#111" letter-spacing="1.1" stroke="#111" stroke-width="0.5">**</text>
<line x1="504.8" y1="67.22" x2="504.8" y2="65.33" stroke="#111" stroke-width="0.7"/>
<line x1="503.58" y1="65.33" x2="506.02" y2="65.33" stroke="#111" stroke-width="0.7"/>
<circle cx="504.8" cy="69.58" r="1.3" fill="#0a0a0a"/>
<circle cx="504.8" cy="67.22" r="1.3" fill="#0a0a0a"/>
<circle cx="504.8" cy="64.86" r="1.3" fill="#0a0a0a"/>
<line x1="513.8" y1="99.31" x2="513.8" y2="98.84" stroke="#111" stroke-width="0.7"/>
<line x1="512.58" y1="98.84" x2="515.02" y2="98.84" stroke="#111" stroke-width="0.7"/>
<circle cx="511.9" cy="98.84" r="1.3" fill="#0a0a0a"/>
<circle cx="513.8" cy="98.37" r="1.3" fill="#0a0a0a"/>
<circle cx="515.7" cy="98.84" r="1.3" fill="#0a0a0a"/>
<text x="513.8" y="96.12" font-size="7.5" text-anchor="middle" font-weight="bold" fill="#111" letter-spacing="1.1" stroke="#111" stroke-width="0.5">**</text>
<line x1="383.3" y1="41.6" x2="383.3" y2="113.6" stroke="#2a2a2a" stroke-width="1.2"/>
<line x1="382.7" y1="113" x2="519.8" y2="113" stroke="#2a2a2a" stroke-width="1.2"/>
<line x1="379.6" y1="113" x2="383.3" y2="113" stroke="#2a2a2a" stroke-width="1.08"/>
<text x="378.6" y="114.8" font-size="5" text-anchor="end" font-weight="bold" fill="#1a1a1a" stroke="#1a1a1a" stroke-width="0.12">0.0</text>
<line x1="379.6" y1="89.4" x2="383.3" y2="89.4" stroke="#2a2a2a" stroke-width="1.08"/>
<text x="378.6" y="91.2" font-size="5" text-anchor="end" font-weight="bold" fill="#1a1a1a" stroke="#1a1a1a" stroke-width="0.12">0.5</text>
<line x1="379.6" y1="65.8" x2="383.3" y2="65.8" stroke="#2a2a2a" stroke-width="1.08"/>
<text x="378.6" y="67.6" font-size="5" text-anchor="end" font-weight="bold" fill="#1a1a1a" stroke="#1a1a1a" stroke-width="0.12">1.0</text>
<line x1="379.6" y1="42.2" x2="383.3" y2="42.2" stroke="#2a2a2a" stroke-width="1.08"/>
<text x="378.6" y="44" font-size="5" text-anchor="end" font-weight="bold" fill="#1a1a1a" stroke="#1a1a1a" stroke-width="0.12">1.5</text>
<line x1="393.3" y1="113" x2="393.3" y2="116.5" stroke="#2a2a2a" stroke-width="1.08"/>
<text x="395.1" y="122" font-size="5.4" text-anchor="end" font-weight="bold" fill="#1a1a1a" transform="rotate(-45 395.1 122)" stroke="#1a1a1a" stroke-width="0.12">CCND1</text>
<line x1="416.5" y1="113" x2="416.5" y2="116.5" stroke="#2a2a2a" stroke-width="1.08"/>
<text x="418.3" y="122" font-size="5.4" text-anchor="end" font-weight="bold" fill="#1a1a1a" transform="rotate(-45 418.3 122)" stroke="#1a1a1a" stroke-width="0.12">CCNE2</text>
<line x1="439.7" y1="113" x2="439.7" y2="116.5" stroke="#2a2a2a" stroke-width="1.08"/>
<text x="441.5" y="122" font-size="5.4" text-anchor="end" font-weight="bold" fill="#1a1a1a" transform="rotate(-45 441.5 122)" stroke="#1a1a1a" stroke-width="0.12">CCNB3</text>
<line x1="462.9" y1="113" x2="462.9" y2="116.5" stroke="#2a2a2a" stroke-width="1.08"/>
<text x="464.7" y="122" font-size="5.4" text-anchor="end" font-weight="bold" fill="#1a1a1a" transform="rotate(-45 464.7 122)" stroke="#1a1a1a" stroke-width="0.12">CCNA2</text>
<line x1="486.1" y1="113" x2="486.1" y2="116.5" stroke="#2a2a2a" stroke-width="1.08"/>
<text x="487.9" y="122" font-size="5.4" text-anchor="end" font-weight="bold" fill="#1a1a1a" transform="rotate(-45 487.9 122)" stroke="#1a1a1a" stroke-width="0.12">P53</text>
<line x1="509.3" y1="113" x2="509.3" y2="116.5" stroke="#2a2a2a" stroke-width="1.08"/>
<text x="511.1" y="122" font-size="5.4" text-anchor="end" font-weight="bold" fill="#1a1a1a" transform="rotate(-45 511.1 122)" stroke="#1a1a1a" stroke-width="0.12">CDK6</text>
<text x="369.3" y="77.3" font-size="5.8" text-anchor="middle" font-weight="bold" fill="#1a1a1a" transform="rotate(-90 369.3 77.3)" stroke="#1a1a1a" stroke-width="0.12">Relative mRNA expression</text>
<rect x="390.1" y="9.3" width="8.8" height="4.5" fill="#808080"/>
<text x="403.8" y="13.96" font-size="6.7" text-anchor="start" fill="#333">NC</text>
<rect x="390.1" y="20.4" width="8.8" height="4.5" fill="#DB5A52"/>
<text x="403.8" y="25.06" font-size="6.7" text-anchor="start" fill="#333">SI-AMH</text>
<rect x="549.95" y="84.13" width="5.9" height="28.87" fill="#3F6791"/>
<rect x="558.95" y="74.23" width="5.9" height="38.77" fill="#7CBFCB"/>
<rect x="573.05" y="84.7" width="5.9" height="28.3" fill="#3F6791"/>
<rect x="582.05" y="77.62" width="5.9" height="35.38" fill="#7CBFCB"/>
<rect x="596.15" y="84.98" width="5.9" height="28.02" fill="#3F6791"/>
<rect x="605.15" y="57.53" width="5.9" height="55.47" fill="#7CBFCB"/>
<rect x="619.25" y="84.7" width="5.9" height="28.3" fill="#3F6791"/>
<rect x="628.25" y="73.95" width="5.9" height="39.05" fill="#7CBFCB"/>
<rect x="642.35" y="84.7" width="5.9" height="28.3" fill="#3F6791"/>
<rect x="651.35" y="75.64" width="5.9" height="37.36" fill="#7CBFCB"/>
<rect x="665.45" y="84.7" width="5.9" height="28.3" fill="#3F6791"/>
<rect x="674.45" y="78.47" width="5.9" height="34.53" fill="#7CBFCB"/>
<line x1="552.9" y1="84.13" x2="552.9" y2="83.28" stroke="#111" stroke-width="0.7"/>
<line x1="551.66" y1="83.28" x2="554.14" y2="83.28" stroke="#111" stroke-width="0.7"/>
<circle cx="551" cy="84.7" r="1.3" fill="#0a0a0a"/>
<circle cx="552.9" cy="81.87" r="1.3" fill="#0a0a0a"/>
<circle cx="554.8" cy="84.7" r="1.3" fill="#0a0a0a"/>
<line x1="561.9" y1="74.23" x2="561.9" y2="72.81" stroke="#111" stroke-width="0.7"/>
<line x1="560.66" y1="72.81" x2="563.14" y2="72.81" stroke="#111" stroke-width="0.7"/>
<circle cx="560.9" cy="76.78" r="1.3" fill="#0a0a0a"/>
<circle cx="562.4" cy="74.23" r="1.3" fill="#0a0a0a"/>
<circle cx="563.4" cy="71.97" r="1.3" fill="#0a0a0a"/>
<text x="561.9" y="71.28" font-size="7.5" text-anchor="middle" font-weight="bold" fill="#111" letter-spacing="1.1" stroke="#111" stroke-width="0.5">**</text>
<line x1="576" y1="84.7" x2="576" y2="83" stroke="#111" stroke-width="0.7"/>
<line x1="574.76" y1="83" x2="577.24" y2="83" stroke="#111" stroke-width="0.7"/>
<circle cx="576" cy="88.1" r="1.3" fill="#0a0a0a"/>
<circle cx="576" cy="84.7" r="1.3" fill="#0a0a0a"/>
<circle cx="576" cy="81.3" r="1.3" fill="#0a0a0a"/>
<line x1="585" y1="77.62" x2="585" y2="76.78" stroke="#111" stroke-width="0.7"/>
<line x1="583.76" y1="76.78" x2="586.24" y2="76.78" stroke="#111" stroke-width="0.7"/>
<circle cx="583.1" cy="78.19" r="1.3" fill="#0a0a0a"/>
<circle cx="585" cy="76.21" r="1.3" fill="#0a0a0a"/>
<circle cx="586.9" cy="78.19" r="1.3" fill="#0a0a0a"/>
<text x="585" y="74.67" font-size="7.5" text-anchor="middle" font-weight="bold" fill="#111" letter-spacing="1.1" stroke="#111" stroke-width="0.5">*</text>
<line x1="599.1" y1="84.98" x2="599.1" y2="84.7" stroke="#111" stroke-width="0.7"/>
<line x1="597.86" y1="84.7" x2="600.34" y2="84.7" stroke="#111" stroke-width="0.7"/>
<circle cx="597.2" cy="85.27" r="1.3" fill="#0a0a0a"/>
<circle cx="599.1" cy="84.13" r="1.3" fill="#0a0a0a"/>
<circle cx="601" cy="85.27" r="1.3" fill="#0a0a0a"/>
<line x1="608.1" y1="57.53" x2="608.1" y2="56.97" stroke="#111" stroke-width="0.7"/>
<line x1="606.86" y1="56.97" x2="609.34" y2="56.97" stroke="#111" stroke-width="0.7"/>
<circle cx="606.2" cy="58.1" r="1.3" fill="#0a0a0a"/>
<circle cx="608.1" cy="56.12" r="1.3" fill="#0a0a0a"/>
<circle cx="610" cy="58.1" r="1.3" fill="#0a0a0a"/>
<text x="608.1" y="54.86" font-size="7.5" text-anchor="middle" font-weight="bold" fill="#111" letter-spacing="1.1" stroke="#111" stroke-width="0.5">**</text>
<line x1="622.2" y1="84.7" x2="622.2" y2="83" stroke="#111" stroke-width="0.7"/>
<line x1="620.96" y1="83" x2="623.44" y2="83" stroke="#111" stroke-width="0.7"/>
<circle cx="622.2" cy="88.1" r="1.3" fill="#0a0a0a"/>
<circle cx="622.2" cy="83.28" r="1.3" fill="#0a0a0a"/>
<circle cx="623.8" cy="81.87" r="1.3" fill="#0a0a0a"/>
<line x1="631.2" y1="73.95" x2="631.2" y2="72.81" stroke="#111" stroke-width="0.7"/>
<line x1="629.96" y1="72.81" x2="632.44" y2="72.81" stroke="#111" stroke-width="0.7"/>
<circle cx="629.3" cy="74.79" r="1.3" fill="#0a0a0a"/>
<circle cx="631.2" cy="72.25" r="1.3" fill="#0a0a0a"/>
<circle cx="633.1" cy="73.38" r="1.3" fill="#0a0a0a"/>
<text x="631.2" y="71.28" font-size="7.5" text-anchor="middle" font-weight="bold" fill="#111" letter-spacing="1.1" stroke="#111" stroke-width="0.5">**</text>
<line x1="645.3" y1="84.7" x2="645.3" y2="81.87" stroke="#111" stroke-width="0.7"/>
<line x1="644.06" y1="81.87" x2="646.54" y2="81.87" stroke="#111" stroke-width="0.7"/>
<circle cx="645.3" cy="88.94" r="1.3" fill="#0a0a0a"/>
<circle cx="645.3" cy="81.87" r="1.3" fill="#0a0a0a"/>
<circle cx="646.9" cy="81.3" r="1.3" fill="#0a0a0a"/>
<line x1="654.3" y1="75.64" x2="654.3" y2="74.51" stroke="#111" stroke-width="0.7"/>
<line x1="653.06" y1="74.51" x2="655.54" y2="74.51" stroke="#111" stroke-width="0.7"/>
<circle cx="652.4" cy="77.62" r="1.3" fill="#0a0a0a"/>
<circle cx="654.3" cy="73.95" r="1.3" fill="#0a0a0a"/>
<circle cx="656.2" cy="76.21" r="1.3" fill="#0a0a0a"/>
<text x="654.3" y="72.98" font-size="7.5" text-anchor="middle" font-weight="bold" fill="#111" letter-spacing="1.1" stroke="#111" stroke-width="0.5">*</text>
<line x1="668.4" y1="84.7" x2="668.4" y2="84.42" stroke="#111" stroke-width="0.7"/>
<line x1="667.16" y1="84.42" x2="669.64" y2="84.42" stroke="#111" stroke-width="0.7"/>
<circle cx="666.5" cy="84.98" r="1.3" fill="#0a0a0a"/>
<circle cx="668.4" cy="84.13" r="1.3" fill="#0a0a0a"/>
<circle cx="670.3" cy="84.98" r="1.3" fill="#0a0a0a"/>
<line x1="677.4" y1="78.47" x2="677.4" y2="76.21" stroke="#111" stroke-width="0.7"/>
<line x1="676.16" y1="76.21" x2="678.64" y2="76.21" stroke="#111" stroke-width="0.7"/>
<circle cx="675.5" cy="80.45" r="1.3" fill="#0a0a0a"/>
<circle cx="677.4" cy="76.78" r="1.3" fill="#0a0a0a"/>
<circle cx="679.3" cy="80.17" r="1.3" fill="#0a0a0a"/>
<text x="677.4" y="72.98" font-size="7.5" text-anchor="middle" font-weight="bold" fill="#111" letter-spacing="1.1" stroke="#111" stroke-width="0.5">*</text>
<line x1="547.2" y1="41.65" x2="547.2" y2="113.6" stroke="#2a2a2a" stroke-width="1.2"/>
<line x1="546.6" y1="113" x2="683.7" y2="113" stroke="#2a2a2a" stroke-width="1.2"/>
<line x1="543.5" y1="113" x2="547.2" y2="113" stroke="#2a2a2a" stroke-width="1.08"/>
<text x="542.5" y="114.8" font-size="5" text-anchor="end" font-weight="bold" fill="#1a1a1a" stroke="#1a1a1a" stroke-width="0.12">0.0</text>
<line x1="543.5" y1="98.85" x2="547.2" y2="98.85" stroke="#2a2a2a" stroke-width="1.08"/>
<text x="542.5" y="100.65" font-size="5" text-anchor="end" font-weight="bold" fill="#1a1a1a" stroke="#1a1a1a" stroke-width="0.12">0.5</text>
<line x1="543.5" y1="84.7" x2="547.2" y2="84.7" stroke="#2a2a2a" stroke-width="1.08"/>
<text x="542.5" y="86.5" font-size="5" text-anchor="end" font-weight="bold" fill="#1a1a1a" stroke="#1a1a1a" stroke-width="0.12">1.0</text>
<line x1="543.5" y1="70.55" x2="547.2" y2="70.55" stroke="#2a2a2a" stroke-width="1.08"/>
<text x="542.5" y="72.35" font-size="5" text-anchor="end" font-weight="bold" fill="#1a1a1a" stroke="#1a1a1a" stroke-width="0.12">1.5</text>
<line x1="543.5" y1="56.4" x2="547.2" y2="56.4" stroke="#2a2a2a" stroke-width="1.08"/>
<text x="542.5" y="58.2" font-size="5" text-anchor="end" font-weight="bold" fill="#1a1a1a" stroke="#1a1a1a" stroke-width="0.12">2.0</text>
<line x1="543.5" y1="42.25" x2="547.2" y2="42.25" stroke="#2a2a2a" stroke-width="1.08"/>
<text x="542.5" y="44.05" font-size="5" text-anchor="end" font-weight="bold" fill="#1a1a1a" stroke="#1a1a1a" stroke-width="0.12">2.5</text>
<line x1="557.4" y1="113" x2="557.4" y2="116.5" stroke="#2a2a2a" stroke-width="1.08"/>
<text x="559.2" y="122" font-size="5.4" text-anchor="end" font-weight="bold" fill="#1a1a1a" transform="rotate(-45 559.2 122)" stroke="#1a1a1a" stroke-width="0.12">CCND1</text>
<line x1="580.5" y1="113" x2="580.5" y2="116.5" stroke="#2a2a2a" stroke-width="1.08"/>
<text x="582.3" y="122" font-size="5.4" text-anchor="end" font-weight="bold" fill="#1a1a1a" transform="rotate(-45 582.3 122)" stroke="#1a1a1a" stroke-width="0.12">CCNE2</text>
<line x1="603.6" y1="113" x2="603.6" y2="116.5" stroke="#2a2a2a" stroke-width="1.08"/>
<text x="605.4" y="122" font-size="5.4" text-anchor="end" font-weight="bold" fill="#1a1a1a" transform="rotate(-45 605.4 122)" stroke="#1a1a1a" stroke-width="0.12">CCNB3</text>
<line x1="626.7" y1="113" x2="626.7" y2="116.5" stroke="#2a2a2a" stroke-width="1.08"/>
<text x="628.5" y="122" font-size="5.4" text-anchor="end" font-weight="bold" fill="#1a1a1a" transform="rotate(-45 628.5 122)" stroke="#1a1a1a" stroke-width="0.12">CCNA2</text>
<line x1="649.8" y1="113" x2="649.8" y2="116.5" stroke="#2a2a2a" stroke-width="1.08"/>
<text x="651.6" y="122" font-size="5.4" text-anchor="end" font-weight="bold" fill="#1a1a1a" transform="rotate(-45 651.6 122)" stroke="#1a1a1a" stroke-width="0.12">P53</text>
<line x1="672.9" y1="113" x2="672.9" y2="116.5" stroke="#2a2a2a" stroke-width="1.08"/>
<text x="674.7" y="122" font-size="5.4" text-anchor="end" font-weight="bold" fill="#1a1a1a" transform="rotate(-45 674.7 122)" stroke="#1a1a1a" stroke-width="0.12">CDK6</text>
<text x="533" y="77.3" font-size="5.8" text-anchor="middle" font-weight="bold" fill="#1a1a1a" transform="rotate(-90 533 77.3)" stroke="#1a1a1a" stroke-width="0.12">Relative mRNA expression</text>
<rect x="555.2" y="9.1" width="9.3" height="4.6" fill="#3F6791"/>
<text x="569.2" y="13.81" font-size="6.7" text-anchor="start" fill="#333">OE</text>
<rect x="555.2" y="20.4" width="9.3" height="4.6" fill="#7CBFCB"/>
<text x="569.2" y="25.11" font-size="6.7" text-anchor="start" fill="#333">OE-AMH</text>
<rect x="261" y="318.76" width="13.1" height="60.94" fill="#9C9C9C"/>
<rect x="280.3" y="331.01" width="12.9" height="48.69" fill="#DB5A52"/>
<rect x="312.1" y="326.71" width="13" height="52.99" fill="#9C9C9C"/>
<rect x="331.2" y="350.89" width="12.8" height="28.81" fill="#DB5A52"/>
<line x1="267.55" y1="318.76" x2="267.55" y2="315.45" stroke="#111" stroke-width="0.7"/>
<line x1="264.65" y1="315.45" x2="270.45" y2="315.45" stroke="#111" stroke-width="0.7"/>
<circle cx="267.55" cy="325.05" r="1.7" fill="#0a0a0a"/>
<circle cx="267.55" cy="319.09" r="1.7" fill="#0a0a0a"/>
<circle cx="267.55" cy="312.47" r="1.7" fill="#0a0a0a"/>
<line x1="286.75" y1="331.01" x2="286.75" y2="330.02" stroke="#111" stroke-width="0.7"/>
<line x1="284.04" y1="330.02" x2="289.46" y2="330.02" stroke="#111" stroke-width="0.7"/>
<circle cx="282.15" cy="333.66" r="1.7" fill="#0a0a0a"/>
<circle cx="286.75" cy="329.36" r="1.7" fill="#0a0a0a"/>
<circle cx="291.35" cy="331.01" r="1.7" fill="#0a0a0a"/>
<text x="286.75" y="327.46" font-size="8.6" text-anchor="middle" font-weight="bold" fill="#111" letter-spacing="1.1" stroke="#111" stroke-width="0.2">*</text>
<line x1="318.6" y1="326.71" x2="318.6" y2="326.38" stroke="#111" stroke-width="0.7"/>
<line x1="315.87" y1="326.38" x2="321.33" y2="326.38" stroke="#111" stroke-width="0.7"/>
<circle cx="313.6" cy="328.36" r="1.7" fill="#0a0a0a"/>
<circle cx="318.6" cy="326.38" r="1.7" fill="#0a0a0a"/>
<circle cx="323.3" cy="327.7" r="1.7" fill="#0a0a0a"/>
<line x1="337.6" y1="350.89" x2="337.6" y2="349.56" stroke="#111" stroke-width="0.7"/>
<line x1="334.91" y1="349.56" x2="340.29" y2="349.56" stroke="#111" stroke-width="0.7"/>
<circle cx="337.6" cy="353.2" r="1.7" fill="#0a0a0a"/>
<circle cx="337.6" cy="349.56" r="1.7" fill="#0a0a0a"/>
<circle cx="342.5" cy="349.56" r="1.7" fill="#0a0a0a"/>
<text x="337.6" y="347.34" font-size="8.6" text-anchor="middle" font-weight="bold" fill="#111" letter-spacing="1.1" stroke="#111" stroke-width="0.2">**</text>
<line x1="255.4" y1="296.3" x2="255.4" y2="380.3" stroke="#2a2a2a" stroke-width="1.2"/>
<line x1="254.8" y1="379.7" x2="350.4" y2="379.7" stroke="#2a2a2a" stroke-width="1.2"/>
<line x1="251.7" y1="379.7" x2="255.4" y2="379.7" stroke="#2a2a2a" stroke-width="1.08"/>
<text x="250.7" y="381.86" font-size="6" text-anchor="end" font-weight="bold" fill="#1a1a1a" stroke="#1a1a1a" stroke-width="0.12">0.0</text>
<line x1="251.7" y1="363.14" x2="255.4" y2="363.14" stroke="#2a2a2a" stroke-width="1.08"/>
<text x="250.7" y="365.3" font-size="6" text-anchor="end" font-weight="bold" fill="#1a1a1a" stroke="#1a1a1a" stroke-width="0.12">0.5</text>
<line x1="251.7" y1="346.58" x2="255.4" y2="346.58" stroke="#2a2a2a" stroke-width="1.08"/>
<text x="250.7" y="348.74" font-size="6" text-anchor="end" font-weight="bold" fill="#1a1a1a" stroke="#1a1a1a" stroke-width="0.12">1.0</text>
<line x1="251.7" y1="330.02" x2="255.4" y2="330.02" stroke="#2a2a2a" stroke-width="1.08"/>
<text x="250.7" y="332.18" font-size="6" text-anchor="end" font-weight="bold" fill="#1a1a1a" stroke="#1a1a1a" stroke-width="0.12">1.5</text>
<line x1="251.7" y1="313.46" x2="255.4" y2="313.46" stroke="#2a2a2a" stroke-width="1.08"/>
<text x="250.7" y="315.62" font-size="6" text-anchor="end" font-weight="bold" fill="#1a1a1a" stroke="#1a1a1a" stroke-width="0.12">2.0</text>
<line x1="251.7" y1="296.9" x2="255.4" y2="296.9" stroke="#2a2a2a" stroke-width="1.08"/>
<text x="250.7" y="299.06" font-size="6" text-anchor="end" font-weight="bold" fill="#1a1a1a" stroke="#1a1a1a" stroke-width="0.12">2.5</text>
<line x1="277.3" y1="379.7" x2="277.3" y2="383.2" stroke="#2a2a2a" stroke-width="1.08"/>
<text x="278.9" y="389.5" font-size="6.25" text-anchor="end" fill="#1a1a1a" transform="rotate(-45 278.9 389.5)" stroke="#1a1a1a" stroke-width="0.12">CDK6</text>
<line x1="328.2" y1="379.7" x2="328.2" y2="383.2" stroke="#2a2a2a" stroke-width="1.08"/>
<text x="329.8" y="389.5" font-size="6.25" text-anchor="end" fill="#1a1a1a" transform="rotate(-45 329.8 389.5)" stroke="#1a1a1a" stroke-width="0.12">CCND1</text>
<text x="238.8" y="338.4" font-size="6.7" text-anchor="middle" font-weight="bold" fill="#1a1a1a" transform="rotate(-90 238.8 338.4)" stroke="#1a1a1a" stroke-width="0.12">Relative protein expression</text>
<rect x="316" y="281.9" width="9.3" height="4.5" fill="#9C9C9C"/>
<text x="330.4" y="286.56" font-size="6.7" text-anchor="start" fill="#333">NC</text>
<rect x="316" y="293.1" width="9.3" height="4.5" fill="#DB5A52"/>
<text x="330.4" y="297.76" font-size="6.7" text-anchor="start" fill="#333">SI-AMH</text>
<rect x="261" y="480.97" width="13.1" height="49.33" fill="#7CBFCB"/>
<rect x="280.3" y="470.61" width="12.9" height="59.69" fill="#3F6791"/>
<rect x="312.1" y="475.17" width="13" height="55.13" fill="#7CBFCB"/>
<rect x="331.2" y="457.76" width="12.8" height="72.54" fill="#3F6791"/>
<line x1="267.55" y1="480.97" x2="267.55" y2="480.15" stroke="#111" stroke-width="0.7"/>
<line x1="264.8" y1="480.15" x2="270.3" y2="480.15" stroke="#111" stroke-width="0.7"/>
<circle cx="262.75" cy="481.39" r="1.7" fill="#0a0a0a"/>
<circle cx="267.55" cy="479.73" r="1.7" fill="#0a0a0a"/>
<circle cx="272.35" cy="480.97" r="1.7" fill="#0a0a0a"/>
<line x1="286.75" y1="470.61" x2="286.75" y2="468.12" stroke="#111" stroke-width="0.7"/>
<line x1="284.04" y1="468.12" x2="289.46" y2="468.12" stroke="#111" stroke-width="0.7"/>
<circle cx="282.15" cy="472.27" r="1.7" fill="#0a0a0a"/>
<circle cx="286.75" cy="465.64" r="1.7" fill="#0a0a0a"/>
<circle cx="291.35" cy="472.27" r="1.7" fill="#0a0a0a"/>
<text x="286.75" y="462.08" font-size="8.6" text-anchor="middle" font-weight="bold" fill="#111" letter-spacing="1.1" stroke="#111" stroke-width="0.2">*</text>
<line x1="318.6" y1="475.17" x2="318.6" y2="473.1" stroke="#111" stroke-width="0.7"/>
<line x1="315.87" y1="473.1" x2="321.33" y2="473.1" stroke="#111" stroke-width="0.7"/>
<circle cx="318.6" cy="477.24" r="1.7" fill="#0a0a0a"/>
<circle cx="318.6" cy="473.51" r="1.7" fill="#0a0a0a"/>
<circle cx="323.3" cy="472.68" r="1.7" fill="#0a0a0a"/>
<line x1="337.6" y1="457.76" x2="337.6" y2="456.52" stroke="#111" stroke-width="0.7"/>
<line x1="334.91" y1="456.52" x2="340.29" y2="456.52" stroke="#111" stroke-width="0.7"/>
<circle cx="333" cy="458.59" r="1.7" fill="#0a0a0a"/>
<circle cx="337.6" cy="455.28" r="1.7" fill="#0a0a0a"/>
<circle cx="342.2" cy="458.18" r="1.7" fill="#0a0a0a"/>
<text x="337.6" y="449.23" font-size="8.6" text-anchor="middle" font-weight="bold" fill="#111" letter-spacing="1.1" stroke="#111" stroke-width="0.2">**</text>
<line x1="254.9" y1="446.8" x2="254.9" y2="530.9" stroke="#2a2a2a" stroke-width="1.2"/>
<line x1="254.3" y1="530.3" x2="350.4" y2="530.3" stroke="#2a2a2a" stroke-width="1.2"/>
<line x1="251.2" y1="530.3" x2="254.9" y2="530.3" stroke="#2a2a2a" stroke-width="1.08"/>
<text x="250.2" y="532.46" font-size="6" text-anchor="end" font-weight="bold" fill="#1a1a1a" stroke="#1a1a1a" stroke-width="0.12">0.0</text>
<line x1="251.2" y1="509.57" x2="254.9" y2="509.57" stroke="#2a2a2a" stroke-width="1.08"/>
<text x="250.2" y="511.73" font-size="6" text-anchor="end" font-weight="bold" fill="#1a1a1a" stroke="#1a1a1a" stroke-width="0.12">0.5</text>
<line x1="251.2" y1="488.85" x2="254.9" y2="488.85" stroke="#2a2a2a" stroke-width="1.08"/>
<text x="250.2" y="491.01" font-size="6" text-anchor="end" font-weight="bold" fill="#1a1a1a" stroke="#1a1a1a" stroke-width="0.12">1.0</text>
<line x1="251.2" y1="468.12" x2="254.9" y2="468.12" stroke="#2a2a2a" stroke-width="1.08"/>
<text x="250.2" y="470.28" font-size="6" text-anchor="end" font-weight="bold" fill="#1a1a1a" stroke="#1a1a1a" stroke-width="0.12">1.5</text>
<line x1="251.2" y1="447.4" x2="254.9" y2="447.4" stroke="#2a2a2a" stroke-width="1.08"/>
<text x="250.2" y="449.56" font-size="6" text-anchor="end" font-weight="bold" fill="#1a1a1a" stroke="#1a1a1a" stroke-width="0.12">2.0</text>
<line x1="277.3" y1="530.3" x2="277.3" y2="533.8" stroke="#2a2a2a" stroke-width="1.08"/>
<text x="278.9" y="540.1" font-size="6.25" text-anchor="end" fill="#1a1a1a" transform="rotate(-45 278.9 540.1)" stroke="#1a1a1a" stroke-width="0.12">CDK6</text>
<line x1="328.2" y1="530.3" x2="328.2" y2="533.8" stroke="#2a2a2a" stroke-width="1.08"/>
<text x="329.8" y="540.1" font-size="6.25" text-anchor="end" fill="#1a1a1a" transform="rotate(-45 329.8 540.1)" stroke="#1a1a1a" stroke-width="0.12">CCND1</text>
<text x="238.4" y="488.8" font-size="6.7" text-anchor="middle" font-weight="bold" fill="#1a1a1a" transform="rotate(-90 238.4 488.8)" stroke="#1a1a1a" stroke-width="0.12">Relative protein expression</text>
<rect x="316" y="417.9" width="9.3" height="4.5" fill="#7CBFCB"/>
<text x="330.4" y="422.56" font-size="6.7" text-anchor="start" fill="#333">OE</text>
<rect x="316" y="428.9" width="9.3" height="4.5" fill="#3F6791"/>
<text x="330.4" y="433.56" font-size="6.7" text-anchor="start" fill="#333">OE-AMH</text>
<rect x="411.15" y="473.87" width="9.9" height="65.03" fill="#808080"/>
<rect x="425.6" y="471.91" width="10" height="66.99" fill="#DB5A52"/>
<rect x="450.3" y="530.71" width="9.8" height="8.19" fill="#808080"/>
<rect x="465.35" y="536.03" width="9.3" height="2.87" fill="#DB5A52"/>
<rect x="489.75" y="530.14" width="9.5" height="8.76" fill="#808080"/>
<rect x="504.35" y="527.35" width="10.1" height="11.55" fill="#DB5A52"/>
<line x1="416.1" y1="473.87" x2="416.1" y2="472.97" stroke="#111" stroke-width="0.7"/>
<line x1="414.02" y1="472.97" x2="418.18" y2="472.97" stroke="#111" stroke-width="0.7"/>
<circle cx="412.6" cy="474.94" r="1.5" fill="#0a0a0a"/>
<circle cx="415.6" cy="472.4" r="1.5" fill="#0a0a0a"/>
<circle cx="418.9" cy="473.46" r="1.5" fill="#0a0a0a"/>
<line x1="430.6" y1="471.91" x2="430.6" y2="470.1" stroke="#111" stroke-width="0.7"/>
<line x1="428.5" y1="470.1" x2="432.7" y2="470.1" stroke="#111" stroke-width="0.7"/>
<circle cx="430.2" cy="476.08" r="1.5" fill="#0a0a0a"/>
<circle cx="430.5" cy="470.68" r="1.5" fill="#0a0a0a"/>
<circle cx="434" cy="469.69" r="1.5" fill="#0a0a0a"/>
<line x1="455.2" y1="530.71" x2="455.2" y2="530.55" stroke="#111" stroke-width="0.7"/>
<line x1="453.14" y1="530.55" x2="457.26" y2="530.55" stroke="#111" stroke-width="0.7"/>
<circle cx="452.3" cy="531.53" r="1.5" fill="#0a0a0a"/>
<circle cx="455.2" cy="531.53" r="1.5" fill="#0a0a0a"/>
<circle cx="458.1" cy="531.53" r="1.5" fill="#0a0a0a"/>
<line x1="470" y1="536.03" x2="470" y2="535.21" stroke="#111" stroke-width="0.7"/>
<line x1="468.05" y1="535.21" x2="471.95" y2="535.21" stroke="#111" stroke-width="0.7"/>
<circle cx="466.8" cy="537.26" r="1.5" fill="#0a0a0a"/>
<circle cx="469.6" cy="533.99" r="1.5" fill="#0a0a0a"/>
<circle cx="473.5" cy="535.54" r="1.5" fill="#0a0a0a"/>
<line x1="494.5" y1="530.14" x2="494.5" y2="529.73" stroke="#111" stroke-width="0.7"/>
<line x1="492.5" y1="529.73" x2="496.5" y2="529.73" stroke="#111" stroke-width="0.7"/>
<circle cx="491.6" cy="530.87" r="1.5" fill="#0a0a0a"/>
<circle cx="494.5" cy="530.05" r="1.5" fill="#0a0a0a"/>
<circle cx="497.4" cy="530.87" r="1.5" fill="#0a0a0a"/>
<line x1="509.4" y1="527.35" x2="509.4" y2="524.81" stroke="#111" stroke-width="0.7"/>
<line x1="507.28" y1="524.81" x2="511.52" y2="524.81" stroke="#111" stroke-width="0.7"/>
<circle cx="506" cy="530.55" r="1.5" fill="#0a0a0a"/>
<circle cx="509.9" cy="520.88" r="1.5" fill="#0a0a0a"/>
<circle cx="513.3" cy="530.55" r="1.5" fill="#0a0a0a"/>
<line x1="405.6" y1="456.4" x2="405.6" y2="539.5" stroke="#2a2a2a" stroke-width="1.2"/>
<line x1="405" y1="538.9" x2="518.9" y2="538.9" stroke="#2a2a2a" stroke-width="1.2"/>
<line x1="401.9" y1="538.9" x2="405.6" y2="538.9" stroke="#2a2a2a" stroke-width="1.08"/>
<text x="400.9" y="541.13" font-size="6.2" text-anchor="end" font-weight="bold" fill="#1a1a1a" stroke="#1a1a1a" stroke-width="0.12">0</text>
<line x1="401.9" y1="522.52" x2="405.6" y2="522.52" stroke="#2a2a2a" stroke-width="1.08"/>
<text x="400.9" y="524.75" font-size="6.2" text-anchor="end" font-weight="bold" fill="#1a1a1a" stroke="#1a1a1a" stroke-width="0.12">20</text>
<line x1="401.9" y1="506.14" x2="405.6" y2="506.14" stroke="#2a2a2a" stroke-width="1.08"/>
<text x="400.9" y="508.37" font-size="6.2" text-anchor="end" font-weight="bold" fill="#1a1a1a" stroke="#1a1a1a" stroke-width="0.12">40</text>
<line x1="401.9" y1="489.76" x2="405.6" y2="489.76" stroke="#2a2a2a" stroke-width="1.08"/>
<text x="400.9" y="491.99" font-size="6.2" text-anchor="end" font-weight="bold" fill="#1a1a1a" stroke="#1a1a1a" stroke-width="0.12">60</text>
<line x1="401.9" y1="473.38" x2="405.6" y2="473.38" stroke="#2a2a2a" stroke-width="1.08"/>
<text x="400.9" y="475.61" font-size="6.2" text-anchor="end" font-weight="bold" fill="#1a1a1a" stroke="#1a1a1a" stroke-width="0.12">80</text>
<line x1="401.9" y1="457" x2="405.6" y2="457" stroke="#2a2a2a" stroke-width="1.08"/>
<text x="400.9" y="459.23" font-size="6.2" text-anchor="end" font-weight="bold" fill="#1a1a1a" stroke="#1a1a1a" stroke-width="0.12">100</text>
<line x1="423.1" y1="538.9" x2="423.1" y2="542.4" stroke="#2a2a2a" stroke-width="1.08"/>
<text x="424.8" y="547.9" font-size="5.62" text-anchor="end" fill="#1a1a1a" transform="rotate(-45 424.8 547.9)" stroke="#1a1a1a" stroke-width="0.12">G1</text>
<line x1="462.9" y1="538.9" x2="462.9" y2="542.4" stroke="#2a2a2a" stroke-width="1.08"/>
<text x="464.6" y="547.9" font-size="5.62" text-anchor="end" fill="#1a1a1a" transform="rotate(-45 464.6 547.9)" stroke="#1a1a1a" stroke-width="0.12">S</text>
<line x1="501.5" y1="538.9" x2="501.5" y2="542.4" stroke="#2a2a2a" stroke-width="1.08"/>
<text x="503.2" y="547.9" font-size="5.62" text-anchor="end" fill="#1a1a1a" transform="rotate(-45 503.2 547.9)" stroke="#1a1a1a" stroke-width="0.12">G2</text>
<text x="388.8" y="498" font-size="6.8" text-anchor="middle" font-weight="bold" fill="#1a1a1a" transform="rotate(-90 388.8 498)" stroke="#1a1a1a" stroke-width="0.12">Proportion of cell cycle (%)</text>
<line x1="455" y1="523.4" x2="472.7" y2="523.4" stroke="#222" stroke-width="0.75"/>
<line x1="455" y1="523.1" x2="455" y2="527.3" stroke="#222" stroke-width="0.75"/>
<line x1="472.7" y1="523.1" x2="472.7" y2="527.3" stroke="#222" stroke-width="0.75"/>
<text x="463.8" y="522.6" font-size="8.2" text-anchor="middle" font-weight="bold" fill="#111" letter-spacing="1.0" stroke="#111" stroke-width="0.35">**</text>
<rect x="466.3" y="450" width="8.9" height="3.9" fill="#808080"/>
<text x="480.2" y="454.4" font-size="6.8" text-anchor="start" fill="#333">NC</text>
<rect x="466.3" y="461" width="8.9" height="3.9" fill="#DB5A52"/>
<text x="480.2" y="465.4" font-size="6.8" text-anchor="start" fill="#333">SI-AMH</text>
<rect x="562.15" y="471" width="9.7" height="67.9" fill="#7CBFCB"/>
<rect x="577.05" y="472.53" width="9.7" height="66.37" fill="#3F6791"/>
<rect x="601.45" y="520.01" width="9.7" height="18.89" fill="#7CBFCB"/>
<rect x="616.25" y="517.46" width="9.7" height="21.44" fill="#3F6791"/>
<rect x="640.55" y="525.83" width="9.7" height="13.07" fill="#7CBFCB"/>
<rect x="655.35" y="525.63" width="9.7" height="13.27" fill="#3F6791"/>
<line x1="567" y1="471" x2="567" y2="469.98" stroke="#111" stroke-width="0.7"/>
<line x1="564.96" y1="469.98" x2="569.04" y2="469.98" stroke="#111" stroke-width="0.7"/>
<circle cx="564.2" cy="474.07" r="1.5" fill="#0a0a0a"/>
<circle cx="567" cy="469.68" r="1.5" fill="#0a0a0a"/>
<circle cx="569.8" cy="468.96" r="1.5" fill="#0a0a0a"/>
<line x1="581.9" y1="472.53" x2="581.9" y2="472.02" stroke="#111" stroke-width="0.7"/>
<line x1="579.86" y1="472.02" x2="583.94" y2="472.02" stroke="#111" stroke-width="0.7"/>
<circle cx="579.1" cy="474.58" r="1.5" fill="#0a0a0a"/>
<circle cx="581.9" cy="471.51" r="1.5" fill="#0a0a0a"/>
<circle cx="584.7" cy="472.02" r="1.5" fill="#0a0a0a"/>
<line x1="606.3" y1="520.01" x2="606.3" y2="518.99" stroke="#111" stroke-width="0.7"/>
<line x1="604.26" y1="518.99" x2="608.34" y2="518.99" stroke="#111" stroke-width="0.7"/>
<circle cx="603.5" cy="521.03" r="1.5" fill="#0a0a0a"/>
<circle cx="606.3" cy="517.97" r="1.5" fill="#0a0a0a"/>
<circle cx="609.1" cy="520.52" r="1.5" fill="#0a0a0a"/>
<line x1="621.1" y1="517.46" x2="621.1" y2="516.95" stroke="#111" stroke-width="0.7"/>
<line x1="619.06" y1="516.95" x2="623.14" y2="516.95" stroke="#111" stroke-width="0.7"/>
<circle cx="618.3" cy="518.48" r="1.5" fill="#0a0a0a"/>
<circle cx="621.1" cy="516.44" r="1.5" fill="#0a0a0a"/>
<circle cx="623.9" cy="517.46" r="1.5" fill="#0a0a0a"/>
<line x1="645.4" y1="525.83" x2="645.4" y2="525.32" stroke="#111" stroke-width="0.7"/>
<line x1="643.36" y1="525.32" x2="647.44" y2="525.32" stroke="#111" stroke-width="0.7"/>
<circle cx="642.6" cy="526.65" r="1.5" fill="#0a0a0a"/>
<circle cx="645.4" cy="524.61" r="1.5" fill="#0a0a0a"/>
<circle cx="648.2" cy="525.63" r="1.5" fill="#0a0a0a"/>
<line x1="660.2" y1="525.63" x2="660.2" y2="525.42" stroke="#111" stroke-width="0.7"/>
<line x1="658.16" y1="525.42" x2="662.24" y2="525.42" stroke="#111" stroke-width="0.7"/>
<circle cx="657.4" cy="525.63" r="1.5" fill="#0a0a0a"/>
<circle cx="660.2" cy="525.63" r="1.5" fill="#0a0a0a"/>
<circle cx="663" cy="525.63" r="1.5" fill="#0a0a0a"/>
<line x1="556.9" y1="456.62" x2="556.9" y2="539.5" stroke="#2a2a2a" stroke-width="1.2"/>
<line x1="556.3" y1="538.9" x2="670.5" y2="538.9" stroke="#2a2a2a" stroke-width="1.2"/>
<line x1="553.2" y1="538.9" x2="556.9" y2="538.9" stroke="#2a2a2a" stroke-width="1.08"/>
<text x="552.2" y="541.13" font-size="6.2" text-anchor="end" font-weight="bold" fill="#1a1a1a" stroke="#1a1a1a" stroke-width="0.12">0</text>
<line x1="553.2" y1="518.48" x2="556.9" y2="518.48" stroke="#2a2a2a" stroke-width="1.08"/>
<text x="552.2" y="520.71" font-size="6.2" text-anchor="end" font-weight="bold" fill="#1a1a1a" stroke="#1a1a1a" stroke-width="0.12">20</text>
<line x1="553.2" y1="498.06" x2="556.9" y2="498.06" stroke="#2a2a2a" stroke-width="1.08"/>
<text x="552.2" y="500.29" font-size="6.2" text-anchor="end" font-weight="bold" fill="#1a1a1a" stroke="#1a1a1a" stroke-width="0.12">40</text>
<line x1="553.2" y1="477.64" x2="556.9" y2="477.64" stroke="#2a2a2a" stroke-width="1.08"/>
<text x="552.2" y="479.87" font-size="6.2" text-anchor="end" font-weight="bold" fill="#1a1a1a" stroke="#1a1a1a" stroke-width="0.12">60</text>
<line x1="553.2" y1="457.22" x2="556.9" y2="457.22" stroke="#2a2a2a" stroke-width="1.08"/>
<text x="552.2" y="459.45" font-size="6.2" text-anchor="end" font-weight="bold" fill="#1a1a1a" stroke="#1a1a1a" stroke-width="0.12">80</text>
<line x1="574.5" y1="538.9" x2="574.5" y2="542.4" stroke="#2a2a2a" stroke-width="1.08"/>
<text x="576.2" y="547.9" font-size="5.62" text-anchor="end" fill="#1a1a1a" transform="rotate(-45 576.2 547.9)" stroke="#1a1a1a" stroke-width="0.12">G1</text>
<line x1="613.7" y1="538.9" x2="613.7" y2="542.4" stroke="#2a2a2a" stroke-width="1.08"/>
<text x="615.4" y="547.9" font-size="5.62" text-anchor="end" fill="#1a1a1a" transform="rotate(-45 615.4 547.9)" stroke="#1a1a1a" stroke-width="0.12">S</text>
<line x1="652.8" y1="538.9" x2="652.8" y2="542.4" stroke="#2a2a2a" stroke-width="1.08"/>
<text x="654.5" y="547.9" font-size="5.62" text-anchor="end" fill="#1a1a1a" transform="rotate(-45 654.5 547.9)" stroke="#1a1a1a" stroke-width="0.12">G2</text>
<text x="542.2" y="497.8" font-size="6.9" text-anchor="middle" font-weight="bold" fill="#1a1a1a" transform="rotate(-90 542.2 497.8)" stroke="#1a1a1a" stroke-width="0.12">Proportion of cell cycle (%)</text>
<rect x="636.3" y="449.2" width="8.2" height="3.8" fill="#7CBFCB"/>
<text x="650" y="453.51" font-size="6.7" text-anchor="start" fill="#333">OE</text>
<rect x="636.3" y="460.5" width="8.2" height="3.8" fill="#3F6791"/>
<text x="650" y="464.81" font-size="6.7" text-anchor="start" fill="#333">OE-AMH</text>
<rect x="407.2" y="769.89" width="26.8" height="34.31" fill="#808080"/>
<rect x="448.1" y="748.31" width="26.8" height="55.89" fill="#DB5A52"/>
<line x1="420.6" y1="769.89" x2="420.6" y2="767.4" stroke="#111" stroke-width="0.7"/>
<line x1="413.85" y1="767.4" x2="427.35" y2="767.4" stroke="#111" stroke-width="0.7"/>
<circle cx="420.6" cy="773.76" r="1.7" fill="#0a0a0a"/>
<circle cx="420.6" cy="769.61" r="1.7" fill="#0a0a0a"/>
<circle cx="420.6" cy="766.29" r="1.7" fill="#0a0a0a"/>
<line x1="461.5" y1="748.31" x2="461.5" y2="741.11" stroke="#111" stroke-width="0.7"/>
<line x1="454.75" y1="741.11" x2="468.25" y2="741.11" stroke="#111" stroke-width="0.7"/>
<circle cx="461.5" cy="758.54" r="1.7" fill="#0a0a0a"/>
<circle cx="461.5" cy="750.24" r="1.7" fill="#0a0a0a"/>
<circle cx="461.5" cy="735.03" r="1.7" fill="#0a0a0a"/>
<text x="461.5" y="731.45" font-size="8.6" text-anchor="middle" font-weight="bold" fill="#111" letter-spacing="1.1" stroke="#111" stroke-width="0.2">*</text>
<line x1="393" y1="720.59" x2="393" y2="804.8" stroke="#2a2a2a" stroke-width="1.2"/>
<line x1="392.4" y1="804.2" x2="488.5" y2="804.2" stroke="#2a2a2a" stroke-width="1.2"/>
<line x1="389.3" y1="804.2" x2="393" y2="804.2" stroke="#2a2a2a" stroke-width="1.08"/>
<text x="388.3" y="806.36" font-size="6" text-anchor="end" font-weight="bold" fill="#1a1a1a" stroke="#1a1a1a" stroke-width="0.12">0</text>
<line x1="389.3" y1="776.53" x2="393" y2="776.53" stroke="#2a2a2a" stroke-width="1.08"/>
<text x="388.3" y="778.69" font-size="6" text-anchor="end" font-weight="bold" fill="#1a1a1a" stroke="#1a1a1a" stroke-width="0.12">1</text>
<line x1="389.3" y1="748.86" x2="393" y2="748.86" stroke="#2a2a2a" stroke-width="1.08"/>
<text x="388.3" y="751.02" font-size="6" text-anchor="end" font-weight="bold" fill="#1a1a1a" stroke="#1a1a1a" stroke-width="0.12">2</text>
<line x1="389.3" y1="721.19" x2="393" y2="721.19" stroke="#2a2a2a" stroke-width="1.08"/>
<text x="388.3" y="723.35" font-size="6" text-anchor="end" font-weight="bold" fill="#1a1a1a" stroke="#1a1a1a" stroke-width="0.12">3</text>
<line x1="420.6" y1="804.2" x2="420.6" y2="807.7" stroke="#2a2a2a" stroke-width="1.08"/>
<text x="422.1" y="813.8" font-size="5.9" text-anchor="end" font-weight="bold" fill="#1a1a1a" transform="rotate(-45 422.1 813.8)" stroke="#1a1a1a" stroke-width="0.12">NC</text>
<line x1="461.5" y1="804.2" x2="461.5" y2="807.7" stroke="#2a2a2a" stroke-width="1.08"/>
<text x="463" y="813.8" font-size="5.9" text-anchor="end" font-weight="bold" fill="#1a1a1a" transform="rotate(-45 463 813.8)" stroke="#1a1a1a" stroke-width="0.12">SI-AMH</text>
<text x="381.6" y="762.8" font-size="6.7" text-anchor="middle" font-weight="bold" fill="#1a1a1a" transform="rotate(-90 381.6 762.8)" stroke="#1a1a1a" stroke-width="0.12">Relative protein expression</text>
<text x="440.5" y="711.2" font-size="7.7" text-anchor="middle" font-weight="bold" fill="#111" stroke="#111" stroke-width="0.12">CYP19A1</text>
<rect x="565" y="748.1" width="26.8" height="54.2" fill="#7CBFCB"/>
<rect x="604.8" y="761.65" width="26.8" height="40.65" fill="#3F6791"/>
<line x1="578.4" y1="748.1" x2="578.4" y2="737.26" stroke="#111" stroke-width="0.7"/>
<line x1="571.65" y1="737.26" x2="585.15" y2="737.26" stroke="#111" stroke-width="0.7"/>
<circle cx="578.4" cy="769.78" r="1.7" fill="#0a0a0a"/>
<circle cx="578.4" cy="737.8" r="1.7" fill="#0a0a0a"/>
<circle cx="584.9" cy="736.18" r="1.7" fill="#0a0a0a"/>
<line x1="618.2" y1="761.65" x2="618.2" y2="754.06" stroke="#111" stroke-width="0.7"/>
<line x1="611.45" y1="754.06" x2="624.95" y2="754.06" stroke="#111" stroke-width="0.7"/>
<circle cx="618.2" cy="772.49" r="1.7" fill="#0a0a0a"/>
<circle cx="618.2" cy="763.28" r="1.7" fill="#0a0a0a"/>
<circle cx="618.2" cy="748.1" r="1.7" fill="#0a0a0a"/>
<line x1="551.4" y1="720.4" x2="551.4" y2="802.9" stroke="#2a2a2a" stroke-width="1.2"/>
<line x1="550.8" y1="802.3" x2="645.7" y2="802.3" stroke="#2a2a2a" stroke-width="1.2"/>
<line x1="547.7" y1="802.3" x2="551.4" y2="802.3" stroke="#2a2a2a" stroke-width="1.08"/>
<text x="546.7" y="804.46" font-size="6" text-anchor="end" font-weight="bold" fill="#1a1a1a" stroke="#1a1a1a" stroke-width="0.12">0.0</text>
<line x1="547.7" y1="775.2" x2="551.4" y2="775.2" stroke="#2a2a2a" stroke-width="1.08"/>
<text x="546.7" y="777.36" font-size="6" text-anchor="end" font-weight="bold" fill="#1a1a1a" stroke="#1a1a1a" stroke-width="0.12">0.5</text>
<line x1="547.7" y1="748.1" x2="551.4" y2="748.1" stroke="#2a2a2a" stroke-width="1.08"/>
<text x="546.7" y="750.26" font-size="6" text-anchor="end" font-weight="bold" fill="#1a1a1a" stroke="#1a1a1a" stroke-width="0.12">1.0</text>
<line x1="547.7" y1="721" x2="551.4" y2="721" stroke="#2a2a2a" stroke-width="1.08"/>
<text x="546.7" y="723.16" font-size="6" text-anchor="end" font-weight="bold" fill="#1a1a1a" stroke="#1a1a1a" stroke-width="0.12">1.5</text>
<line x1="578.4" y1="802.3" x2="578.4" y2="805.8" stroke="#2a2a2a" stroke-width="1.08"/>
<text x="579.9" y="811.9" font-size="5.9" text-anchor="end" font-weight="bold" fill="#1a1a1a" transform="rotate(-45 579.9 811.9)" stroke="#1a1a1a" stroke-width="0.12">OE</text>
<line x1="618.2" y1="802.3" x2="618.2" y2="805.8" stroke="#2a2a2a" stroke-width="1.08"/>
<text x="619.7" y="811.9" font-size="5.9" text-anchor="end" font-weight="bold" fill="#1a1a1a" transform="rotate(-45 619.7 811.9)" stroke="#1a1a1a" stroke-width="0.12">OE-AMH</text>
<text x="535.2" y="761.6" font-size="6.7" text-anchor="middle" font-weight="bold" fill="#1a1a1a" transform="rotate(-90 535.2 761.6)" stroke="#1a1a1a" stroke-width="0.12">Relative protein expression</text>
<text x="598.6" y="711" font-size="7.7" text-anchor="middle" font-weight="bold" fill="#111" stroke="#111" stroke-width="0.12">CYP19A1</text>
<rect x="411.9" y="882.21" width="29.2" height="65.19" fill="#808080"/>
<rect x="454.6" y="872.51" width="29.2" height="74.89" fill="#DB5A52"/>
<line x1="426.5" y1="882.21" x2="426.5" y2="880.06" stroke="#111" stroke-width="0.7"/>
<line x1="419.75" y1="880.06" x2="433.25" y2="880.06" stroke="#111" stroke-width="0.7"/>
<circle cx="426.5" cy="887.06" r="1.7" fill="#0a0a0a"/>
<circle cx="426.5" cy="880.06" r="1.7" fill="#0a0a0a"/>
<circle cx="433" cy="879.52" r="1.7" fill="#0a0a0a"/>
<line x1="469.2" y1="872.51" x2="469.2" y2="870.9" stroke="#111" stroke-width="0.7"/>
<line x1="462.45" y1="870.9" x2="475.95" y2="870.9" stroke="#111" stroke-width="0.7"/>
<circle cx="469.2" cy="875.75" r="1.7" fill="#0a0a0a"/>
<circle cx="469.2" cy="871.98" r="1.7" fill="#0a0a0a"/>
<circle cx="475.7" cy="871.98" r="1.7" fill="#0a0a0a"/>
<text x="469.2" y="867.55" font-size="8.6" text-anchor="middle" font-weight="bold" fill="#111" letter-spacing="1.1" stroke="#111" stroke-width="0.2">*</text>
<line x1="397.4" y1="860.6" x2="397.4" y2="948" stroke="#2a2a2a" stroke-width="1.2"/>
<line x1="396.8" y1="947.4" x2="497.8" y2="947.4" stroke="#2a2a2a" stroke-width="1.2"/>
<line x1="393.7" y1="947.4" x2="397.4" y2="947.4" stroke="#2a2a2a" stroke-width="1.08"/>
<text x="392.7" y="949.7" font-size="6.4" text-anchor="end" font-weight="bold" fill="#1a1a1a" stroke="#1a1a1a" stroke-width="0.12">0</text>
<line x1="393.7" y1="925.85" x2="397.4" y2="925.85" stroke="#2a2a2a" stroke-width="1.08"/>
<text x="392.7" y="928.15" font-size="6.4" text-anchor="end" font-weight="bold" fill="#1a1a1a" stroke="#1a1a1a" stroke-width="0.12">20</text>
<line x1="393.7" y1="904.3" x2="397.4" y2="904.3" stroke="#2a2a2a" stroke-width="1.08"/>
<text x="392.7" y="906.6" font-size="6.4" text-anchor="end" font-weight="bold" fill="#1a1a1a" stroke="#1a1a1a" stroke-width="0.12">40</text>
<line x1="393.7" y1="882.75" x2="397.4" y2="882.75" stroke="#2a2a2a" stroke-width="1.08"/>
<text x="392.7" y="885.05" font-size="6.4" text-anchor="end" font-weight="bold" fill="#1a1a1a" stroke="#1a1a1a" stroke-width="0.12">60</text>
<line x1="393.7" y1="861.2" x2="397.4" y2="861.2" stroke="#2a2a2a" stroke-width="1.08"/>
<text x="392.7" y="863.5" font-size="6.4" text-anchor="end" font-weight="bold" fill="#1a1a1a" stroke="#1a1a1a" stroke-width="0.12">80</text>
<line x1="426.3" y1="947.4" x2="426.3" y2="950.9" stroke="#2a2a2a" stroke-width="1.08"/>
<text x="427.8" y="957.6" font-size="6" text-anchor="end" font-weight="bold" fill="#1a1a1a" transform="rotate(-45 427.8 957.6)" stroke="#1a1a1a" stroke-width="0.12">NC</text>
<line x1="469.2" y1="947.4" x2="469.2" y2="950.9" stroke="#2a2a2a" stroke-width="1.08"/>
<text x="470.7" y="957.6" font-size="6" text-anchor="end" font-weight="bold" fill="#1a1a1a" transform="rotate(-45 470.7 957.6)" stroke="#1a1a1a" stroke-width="0.12">SI-AMH</text>
<text x="382.4" y="904.3" font-size="7" text-anchor="middle" font-weight="bold" fill="#1a1a1a" transform="rotate(-90 382.4 904.3)" stroke="#1a1a1a" stroke-width="0.12">Relative E2 Level (ng/L)</text>
<text x="448" y="849.7" font-size="8.2" text-anchor="middle" font-weight="bold" fill="#111" stroke="#111" stroke-width="0.12">E2</text>
<rect x="560.95" y="866.86" width="28.1" height="78.54" fill="#7CBFCB"/>
<rect x="603.15" y="878.01" width="28.1" height="67.39" fill="#3F6791"/>
<line x1="575" y1="866.86" x2="575" y2="865.27" stroke="#111" stroke-width="0.7"/>
<line x1="568.25" y1="865.27" x2="581.75" y2="865.27" stroke="#111" stroke-width="0.7"/>
<circle cx="568.5" cy="868.99" r="1.7" fill="#0a0a0a"/>
<circle cx="575" cy="865.8" r="1.7" fill="#0a0a0a"/>
<circle cx="581.5" cy="865.8" r="1.7" fill="#0a0a0a"/>
<line x1="617.2" y1="878.01" x2="617.2" y2="874.29" stroke="#111" stroke-width="0.7"/>
<line x1="610.45" y1="874.29" x2="623.95" y2="874.29" stroke="#111" stroke-width="0.7"/>
<circle cx="617.2" cy="884.91" r="1.7" fill="#0a0a0a"/>
<circle cx="617.2" cy="874.29" r="1.7" fill="#0a0a0a"/>
<circle cx="623.7" cy="873.23" r="1.7" fill="#0a0a0a"/>
<text x="617.2" y="870" font-size="8.6" text-anchor="middle" font-weight="bold" fill="#111" letter-spacing="1.1" stroke="#111" stroke-width="0.2">*</text>
<line x1="546.1" y1="859.9" x2="546.1" y2="946" stroke="#2a2a2a" stroke-width="1.2"/>
<line x1="545.5" y1="945.4" x2="645.2" y2="945.4" stroke="#2a2a2a" stroke-width="1.2"/>
<line x1="542.4" y1="945.4" x2="546.1" y2="945.4" stroke="#2a2a2a" stroke-width="1.08"/>
<text x="541.4" y="947.7" font-size="6.4" text-anchor="end" font-weight="bold" fill="#1a1a1a" stroke="#1a1a1a" stroke-width="0.12">0</text>
<line x1="542.4" y1="924.17" x2="546.1" y2="924.17" stroke="#2a2a2a" stroke-width="1.08"/>
<text x="541.4" y="926.48" font-size="6.4" text-anchor="end" font-weight="bold" fill="#1a1a1a" stroke="#1a1a1a" stroke-width="0.12">20</text>
<line x1="542.4" y1="902.95" x2="546.1" y2="902.95" stroke="#2a2a2a" stroke-width="1.08"/>
<text x="541.4" y="905.25" font-size="6.4" text-anchor="end" font-weight="bold" fill="#1a1a1a" stroke="#1a1a1a" stroke-width="0.12">40</text>
<line x1="542.4" y1="881.72" x2="546.1" y2="881.72" stroke="#2a2a2a" stroke-width="1.08"/>
<text x="541.4" y="884.03" font-size="6.4" text-anchor="end" font-weight="bold" fill="#1a1a1a" stroke="#1a1a1a" stroke-width="0.12">60</text>
<line x1="542.4" y1="860.5" x2="546.1" y2="860.5" stroke="#2a2a2a" stroke-width="1.08"/>
<text x="541.4" y="862.8" font-size="6.4" text-anchor="end" font-weight="bold" fill="#1a1a1a" stroke="#1a1a1a" stroke-width="0.12">80</text>
<line x1="575" y1="945.4" x2="575" y2="948.9" stroke="#2a2a2a" stroke-width="1.08"/>
<text x="576.5" y="955.6" font-size="6" text-anchor="end" font-weight="bold" fill="#1a1a1a" transform="rotate(-45 576.5 955.6)" stroke="#1a1a1a" stroke-width="0.12">OE</text>
<line x1="617.2" y1="945.4" x2="617.2" y2="948.9" stroke="#2a2a2a" stroke-width="1.08"/>
<text x="618.7" y="955.6" font-size="6" text-anchor="end" font-weight="bold" fill="#1a1a1a" transform="rotate(-45 618.7 955.6)" stroke="#1a1a1a" stroke-width="0.12">OE-AMH</text>
<text x="531.4" y="903.2" font-size="7" text-anchor="middle" font-weight="bold" fill="#1a1a1a" transform="rotate(-90 531.4 903.2)" stroke="#1a1a1a" stroke-width="0.12">Relative E2 Level (ng/L)</text>
<text x="596.1" y="849.8" font-size="8.2" text-anchor="middle" font-weight="bold" fill="#111" stroke="#111" stroke-width="0.12">E2</text>
<rect x="28.35" y="916.2" width="6.6" height="19.6" fill="#808080"/>
<rect x="38.6" y="891.7" width="6.6" height="44.1" fill="#DB5A52"/>
<rect x="54.47" y="916.2" width="6.6" height="19.6" fill="#808080"/>
<rect x="64.72" y="874.06" width="6.6" height="61.74" fill="#DB5A52"/>
<rect x="80.59" y="916.59" width="6.6" height="19.21" fill="#808080"/>
<rect x="90.84" y="911.89" width="6.6" height="23.91" fill="#DB5A52"/>
<rect x="106.71" y="916.2" width="6.6" height="19.6" fill="#808080"/>
<rect x="116.96" y="876.02" width="6.6" height="59.78" fill="#DB5A52"/>
<rect x="132.83" y="916.2" width="6.6" height="19.6" fill="#808080"/>
<rect x="143.08" y="910.91" width="6.6" height="24.89" fill="#DB5A52"/>
<rect x="158.95" y="916.59" width="6.6" height="19.21" fill="#808080"/>
<rect x="169.2" y="903.85" width="6.6" height="31.95" fill="#DB5A52"/>
<line x1="31.65" y1="916.2" x2="31.65" y2="916" stroke="#111" stroke-width="0.7"/>
<line x1="30.26" y1="916" x2="33.04" y2="916" stroke="#111" stroke-width="0.7"/>
<circle cx="29.65" cy="916.2" r="1.3" fill="#0a0a0a"/>
<circle cx="31.65" cy="916.2" r="1.3" fill="#0a0a0a"/>
<circle cx="33.65" cy="916.2" r="1.3" fill="#0a0a0a"/>
<line x1="41.9" y1="891.7" x2="41.9" y2="890.72" stroke="#111" stroke-width="0.7"/>
<line x1="40.51" y1="890.72" x2="43.29" y2="890.72" stroke="#111" stroke-width="0.7"/>
<circle cx="39.9" cy="894.05" r="1.3" fill="#0a0a0a"/>
<circle cx="41.9" cy="890.33" r="1.3" fill="#0a0a0a"/>
<circle cx="43.9" cy="889.35" r="1.3" fill="#0a0a0a"/>
<text x="41.9" y="888.23" font-size="8.3" text-anchor="middle" font-weight="bold" fill="#111" letter-spacing="1.1" stroke="#111" stroke-width="0.45">**</text>
<line x1="57.77" y1="916.2" x2="57.77" y2="916" stroke="#111" stroke-width="0.7"/>
<line x1="56.38" y1="916" x2="59.16" y2="916" stroke="#111" stroke-width="0.7"/>
<circle cx="55.77" cy="916.2" r="1.3" fill="#0a0a0a"/>
<circle cx="57.77" cy="916" r="1.3" fill="#0a0a0a"/>
<circle cx="59.77" cy="916.2" r="1.3" fill="#0a0a0a"/>
<line x1="68.02" y1="874.06" x2="68.02" y2="870.14" stroke="#111" stroke-width="0.7"/>
<line x1="66.63" y1="870.14" x2="69.41" y2="870.14" stroke="#111" stroke-width="0.7"/>
<circle cx="68.02" cy="877.98" r="1.3" fill="#0a0a0a"/>
<circle cx="68.02" cy="874.65" r="1.3" fill="#0a0a0a"/>
<circle cx="68.02" cy="866.22" r="1.3" fill="#0a0a0a"/>
<text x="68.02" y="862.94" font-size="8.3" text-anchor="middle" font-weight="bold" fill="#111" letter-spacing="1.1" stroke="#111" stroke-width="0.45">**</text>
<line x1="83.89" y1="916.59" x2="83.89" y2="915.81" stroke="#111" stroke-width="0.7"/>
<line x1="82.5" y1="915.81" x2="85.28" y2="915.81" stroke="#111" stroke-width="0.7"/>
<circle cx="81.89" cy="916.79" r="1.3" fill="#0a0a0a"/>
<circle cx="83.89" cy="915.22" r="1.3" fill="#0a0a0a"/>
<circle cx="85.89" cy="916.79" r="1.3" fill="#0a0a0a"/>
<line x1="94.14" y1="911.89" x2="94.14" y2="910.32" stroke="#111" stroke-width="0.7"/>
<line x1="92.75" y1="910.32" x2="95.53" y2="910.32" stroke="#111" stroke-width="0.7"/>
<circle cx="92.14" cy="910.32" r="1.3" fill="#0a0a0a"/>
<circle cx="94.14" cy="915.22" r="1.3" fill="#0a0a0a"/>
<circle cx="96.14" cy="910.71" r="1.3" fill="#0a0a0a"/>
<line x1="110.01" y1="916.2" x2="110.01" y2="915.81" stroke="#111" stroke-width="0.7"/>
<line x1="108.62" y1="915.81" x2="111.4" y2="915.81" stroke="#111" stroke-width="0.7"/>
<circle cx="108.01" cy="916.59" r="1.3" fill="#0a0a0a"/>
<circle cx="110.01" cy="915.22" r="1.3" fill="#0a0a0a"/>
<circle cx="112.01" cy="916.59" r="1.3" fill="#0a0a0a"/>
<line x1="120.26" y1="876.02" x2="120.26" y2="870.14" stroke="#111" stroke-width="0.7"/>
<line x1="118.87" y1="870.14" x2="121.65" y2="870.14" stroke="#111" stroke-width="0.7"/>
<circle cx="120.26" cy="889.74" r="1.3" fill="#0a0a0a"/>
<circle cx="120.26" cy="870.14" r="1.3" fill="#0a0a0a"/>
<circle cx="122.26" cy="868.77" r="1.3" fill="#0a0a0a"/>
<text x="120.26" y="863.92" font-size="8.3" text-anchor="middle" font-weight="bold" fill="#111" letter-spacing="1.1" stroke="#111" stroke-width="0.45">**</text>
<line x1="136.13" y1="916.2" x2="136.13" y2="915.81" stroke="#111" stroke-width="0.7"/>
<line x1="134.74" y1="915.81" x2="137.52" y2="915.81" stroke="#111" stroke-width="0.7"/>
<circle cx="134.13" cy="916.59" r="1.3" fill="#0a0a0a"/>
<circle cx="136.13" cy="915.22" r="1.3" fill="#0a0a0a"/>
<circle cx="138.13" cy="916.59" r="1.3" fill="#0a0a0a"/>
<line x1="146.38" y1="910.91" x2="146.38" y2="909.34" stroke="#111" stroke-width="0.7"/>
<line x1="144.99" y1="909.34" x2="147.77" y2="909.34" stroke="#111" stroke-width="0.7"/>
<circle cx="144.38" cy="911.89" r="1.3" fill="#0a0a0a"/>
<circle cx="146.38" cy="908.36" r="1.3" fill="#0a0a0a"/>
<circle cx="148.38" cy="911.3" r="1.3" fill="#0a0a0a"/>
<text x="146.38" y="906.07" font-size="8.3" text-anchor="middle" font-weight="bold" fill="#111" letter-spacing="1.1" stroke="#111" stroke-width="0.45">*</text>
<line x1="162.25" y1="916.59" x2="162.25" y2="915.22" stroke="#111" stroke-width="0.7"/>
<line x1="160.86" y1="915.22" x2="163.64" y2="915.22" stroke="#111" stroke-width="0.7"/>
<circle cx="162.25" cy="918.16" r="1.3" fill="#0a0a0a"/>
<circle cx="162.25" cy="916.2" r="1.3" fill="#0a0a0a"/>
<circle cx="164.25" cy="914.24" r="1.3" fill="#0a0a0a"/>
<line x1="172.5" y1="903.85" x2="172.5" y2="903.46" stroke="#111" stroke-width="0.7"/>
<line x1="171.11" y1="903.46" x2="173.89" y2="903.46" stroke="#111" stroke-width="0.7"/>
<circle cx="170.5" cy="903.85" r="1.3" fill="#0a0a0a"/>
<circle cx="172.5" cy="903.46" r="1.3" fill="#0a0a0a"/>
<circle cx="174.5" cy="903.66" r="1.3" fill="#0a0a0a"/>
<text x="172.5" y="899.79" font-size="8.3" text-anchor="middle" font-weight="bold" fill="#111" letter-spacing="1.1" stroke="#111" stroke-width="0.45">**</text>
<line x1="25.7" y1="856.8" x2="25.7" y2="936.4" stroke="#2a2a2a" stroke-width="1.2"/>
<line x1="25.1" y1="935.8" x2="180.1" y2="935.8" stroke="#2a2a2a" stroke-width="1.2"/>
<line x1="22" y1="935.8" x2="25.7" y2="935.8" stroke="#2a2a2a" stroke-width="1.08"/>
<text x="21" y="937.82" font-size="5.6" text-anchor="end" font-weight="bold" fill="#1a1a1a" stroke="#1a1a1a" stroke-width="0.12">0</text>
<line x1="22" y1="916.2" x2="25.7" y2="916.2" stroke="#2a2a2a" stroke-width="1.08"/>
<text x="21" y="918.22" font-size="5.6" text-anchor="end" font-weight="bold" fill="#1a1a1a" stroke="#1a1a1a" stroke-width="0.12">1</text>
<line x1="22" y1="896.6" x2="25.7" y2="896.6" stroke="#2a2a2a" stroke-width="1.08"/>
<text x="21" y="898.62" font-size="5.6" text-anchor="end" font-weight="bold" fill="#1a1a1a" stroke="#1a1a1a" stroke-width="0.12">2</text>
<line x1="22" y1="877" x2="25.7" y2="877" stroke="#2a2a2a" stroke-width="1.08"/>
<text x="21" y="879.02" font-size="5.6" text-anchor="end" font-weight="bold" fill="#1a1a1a" stroke="#1a1a1a" stroke-width="0.12">3</text>
<line x1="22" y1="857.4" x2="25.7" y2="857.4" stroke="#2a2a2a" stroke-width="1.08"/>
<text x="21" y="859.42" font-size="5.6" text-anchor="end" font-weight="bold" fill="#1a1a1a" stroke="#1a1a1a" stroke-width="0.12">4</text>
<line x1="36.8" y1="935.8" x2="36.8" y2="939.3" stroke="#2a2a2a" stroke-width="1.08"/>
<text x="38.4" y="945.2" font-size="5.6" text-anchor="end" font-weight="bold" fill="#1a1a1a" transform="rotate(-45 38.4 945.2)" stroke="#1a1a1a" stroke-width="0.12">3BHSD</text>
<line x1="62.92" y1="935.8" x2="62.92" y2="939.3" stroke="#2a2a2a" stroke-width="1.08"/>
<text x="64.52" y="945.2" font-size="5.6" text-anchor="end" font-weight="bold" fill="#1a1a1a" transform="rotate(-45 64.52 945.2)" stroke="#1a1a1a" stroke-width="0.12">17BHSD</text>
<line x1="89.04" y1="935.8" x2="89.04" y2="939.3" stroke="#2a2a2a" stroke-width="1.08"/>
<text x="90.64" y="945.2" font-size="5.6" text-anchor="end" font-weight="bold" fill="#1a1a1a" transform="rotate(-45 90.64 945.2)" stroke="#1a1a1a" stroke-width="0.12">STAR</text>
<line x1="115.16" y1="935.8" x2="115.16" y2="939.3" stroke="#2a2a2a" stroke-width="1.08"/>
<text x="116.76" y="945.2" font-size="5.6" text-anchor="end" font-weight="bold" fill="#1a1a1a" transform="rotate(-45 116.76 945.2)" stroke="#1a1a1a" stroke-width="0.12">CYP11A1</text>
<line x1="141.28" y1="935.8" x2="141.28" y2="939.3" stroke="#2a2a2a" stroke-width="1.08"/>
<text x="142.88" y="945.2" font-size="5.6" text-anchor="end" font-weight="bold" fill="#1a1a1a" transform="rotate(-45 142.88 945.2)" stroke="#1a1a1a" stroke-width="0.12">CYP17A1</text>
<line x1="167.4" y1="935.8" x2="167.4" y2="939.3" stroke="#2a2a2a" stroke-width="1.08"/>
<text x="169" y="945.2" font-size="5.6" text-anchor="end" font-weight="bold" fill="#1a1a1a" transform="rotate(-45 169 945.2)" stroke="#1a1a1a" stroke-width="0.12">CYP19A1</text>
<text x="14.4" y="896.6" font-size="6.3" text-anchor="middle" font-weight="bold" fill="#1a1a1a" transform="rotate(-90 14.4 896.6)" stroke="#1a1a1a" stroke-width="0.12">Relative mRNA expression</text>
<rect x="38.1" y="825.5" width="9.2" height="4.5" fill="#808080"/>
<text x="51" y="830.31" font-size="7.1" text-anchor="start" fill="#333">NC</text>
<rect x="38.1" y="837.3" width="9.2" height="4.5" fill="#DB5A52"/>
<text x="51" y="842.11" font-size="7.1" text-anchor="start" fill="#333">SI-AMH</text>
<rect x="216.85" y="886.5" width="6.7" height="50.4" fill="#3F6791"/>
<rect x="226.45" y="904.14" width="6.7" height="32.76" fill="#7CBFCB"/>
<rect x="242.47" y="886.5" width="6.7" height="50.4" fill="#3F6791"/>
<rect x="252.07" y="914.72" width="6.7" height="22.18" fill="#7CBFCB"/>
<rect x="268.09" y="885.49" width="6.7" height="51.41" fill="#3F6791"/>
<rect x="277.69" y="889.02" width="6.7" height="47.88" fill="#7CBFCB"/>
<rect x="293.71" y="881.96" width="6.7" height="54.94" fill="#3F6791"/>
<rect x="303.31" y="900.11" width="6.7" height="36.79" fill="#7CBFCB"/>
<rect x="319.33" y="886.5" width="6.7" height="50.4" fill="#3F6791"/>
<rect x="328.93" y="916.24" width="6.7" height="20.66" fill="#7CBFCB"/>
<rect x="344.95" y="885.49" width="6.7" height="51.41" fill="#3F6791"/>
<rect x="354.55" y="897.59" width="6.7" height="39.31" fill="#7CBFCB"/>
<line x1="220.2" y1="886.5" x2="220.2" y2="883.98" stroke="#111" stroke-width="0.7"/>
<line x1="218.79" y1="883.98" x2="221.61" y2="883.98" stroke="#111" stroke-width="0.7"/>
<circle cx="218.2" cy="889.02" r="1.3" fill="#0a0a0a"/>
<circle cx="220.2" cy="880.45" r="1.3" fill="#0a0a0a"/>
<circle cx="222.2" cy="889.02" r="1.3" fill="#0a0a0a"/>
<line x1="229.8" y1="904.14" x2="229.8" y2="903.64" stroke="#111" stroke-width="0.7"/>
<line x1="228.39" y1="903.64" x2="231.21" y2="903.64" stroke="#111" stroke-width="0.7"/>
<circle cx="227.8" cy="904.14" r="1.3" fill="#0a0a0a"/>
<circle cx="229.8" cy="903.64" r="1.3" fill="#0a0a0a"/>
<circle cx="231.8" cy="904.14" r="1.3" fill="#0a0a0a"/>
<text x="229.8" y="900.14" font-size="8.3" text-anchor="middle" font-weight="bold" fill="#111" letter-spacing="1.1" stroke="#111" stroke-width="0.45">**</text>
<line x1="245.82" y1="886.5" x2="245.82" y2="884.99" stroke="#111" stroke-width="0.7"/>
<line x1="244.41" y1="884.99" x2="247.23" y2="884.99" stroke="#111" stroke-width="0.7"/>
<circle cx="243.82" cy="889.02" r="1.3" fill="#0a0a0a"/>
<circle cx="245.82" cy="882.47" r="1.3" fill="#0a0a0a"/>
<circle cx="247.82" cy="888.01" r="1.3" fill="#0a0a0a"/>
<line x1="255.42" y1="914.72" x2="255.42" y2="912.71" stroke="#111" stroke-width="0.7"/>
<line x1="254.01" y1="912.71" x2="256.83" y2="912.71" stroke="#111" stroke-width="0.7"/>
<circle cx="253.42" cy="915.73" r="1.3" fill="#0a0a0a"/>
<circle cx="255.42" cy="911.7" r="1.3" fill="#0a0a0a"/>
<circle cx="257.42" cy="915.23" r="1.3" fill="#0a0a0a"/>
<text x="255.42" y="909.21" font-size="8.3" text-anchor="middle" font-weight="bold" fill="#111" letter-spacing="1.1" stroke="#111" stroke-width="0.45">**</text>
<line x1="271.44" y1="885.49" x2="271.44" y2="884.99" stroke="#111" stroke-width="0.7"/>
<line x1="270.03" y1="884.99" x2="272.85" y2="884.99" stroke="#111" stroke-width="0.7"/>
<circle cx="269.44" cy="885.49" r="1.3" fill="#0a0a0a"/>
<circle cx="271.44" cy="883.98" r="1.3" fill="#0a0a0a"/>
<circle cx="273.44" cy="885.49" r="1.3" fill="#0a0a0a"/>
<line x1="281.04" y1="889.02" x2="281.04" y2="887.51" stroke="#111" stroke-width="0.7"/>
<line x1="279.63" y1="887.51" x2="282.45" y2="887.51" stroke="#111" stroke-width="0.7"/>
<circle cx="279.04" cy="891.54" r="1.3" fill="#0a0a0a"/>
<circle cx="281.04" cy="888.01" r="1.3" fill="#0a0a0a"/>
<circle cx="283.04" cy="886.5" r="1.3" fill="#0a0a0a"/>
<line x1="297.06" y1="881.96" x2="297.06" y2="881.46" stroke="#111" stroke-width="0.7"/>
<line x1="295.65" y1="881.46" x2="298.47" y2="881.46" stroke="#111" stroke-width="0.7"/>
<circle cx="295.06" cy="881.96" r="1.3" fill="#0a0a0a"/>
<circle cx="297.06" cy="881.46" r="1.3" fill="#0a0a0a"/>
<circle cx="299.06" cy="881.96" r="1.3" fill="#0a0a0a"/>
<line x1="306.66" y1="900.11" x2="306.66" y2="898.6" stroke="#111" stroke-width="0.7"/>
<line x1="305.25" y1="898.6" x2="308.07" y2="898.6" stroke="#111" stroke-width="0.7"/>
<circle cx="304.66" cy="900.61" r="1.3" fill="#0a0a0a"/>
<circle cx="306.66" cy="896.58" r="1.3" fill="#0a0a0a"/>
<circle cx="308.66" cy="900.61" r="1.3" fill="#0a0a0a"/>
<text x="306.66" y="896.11" font-size="8.3" text-anchor="middle" font-weight="bold" fill="#111" letter-spacing="1.1" stroke="#111" stroke-width="0.45">**</text>
<line x1="322.68" y1="886.5" x2="322.68" y2="886" stroke="#111" stroke-width="0.7"/>
<line x1="321.27" y1="886" x2="324.09" y2="886" stroke="#111" stroke-width="0.7"/>
<circle cx="320.68" cy="886.5" r="1.3" fill="#0a0a0a"/>
<circle cx="322.68" cy="885.49" r="1.3" fill="#0a0a0a"/>
<circle cx="324.68" cy="886.5" r="1.3" fill="#0a0a0a"/>
<line x1="332.28" y1="916.24" x2="332.28" y2="915.73" stroke="#111" stroke-width="0.7"/>
<line x1="330.87" y1="915.73" x2="333.69" y2="915.73" stroke="#111" stroke-width="0.7"/>
<circle cx="330.28" cy="916.74" r="1.3" fill="#0a0a0a"/>
<circle cx="332.28" cy="914.22" r="1.3" fill="#0a0a0a"/>
<circle cx="334.28" cy="916.74" r="1.3" fill="#0a0a0a"/>
<line x1="348.3" y1="885.49" x2="348.3" y2="883.48" stroke="#111" stroke-width="0.7"/>
<line x1="346.89" y1="883.48" x2="349.71" y2="883.48" stroke="#111" stroke-width="0.7"/>
<circle cx="346.3" cy="886.5" r="1.3" fill="#0a0a0a"/>
<circle cx="348.3" cy="880.45" r="1.3" fill="#0a0a0a"/>
<circle cx="350.3" cy="886.5" r="1.3" fill="#0a0a0a"/>
<line x1="357.9" y1="897.59" x2="357.9" y2="896.58" stroke="#111" stroke-width="0.7"/>
<line x1="356.49" y1="896.58" x2="359.31" y2="896.58" stroke="#111" stroke-width="0.7"/>
<circle cx="355.9" cy="899.1" r="1.3" fill="#0a0a0a"/>
<circle cx="357.9" cy="897.59" r="1.3" fill="#0a0a0a"/>
<circle cx="359.9" cy="895.57" r="1.3" fill="#0a0a0a"/>
<text x="357.9" y="895.1" font-size="8.3" text-anchor="middle" font-weight="bold" fill="#111" letter-spacing="1.1" stroke="#111" stroke-width="0.45">*</text>
<line x1="213.5" y1="860.7" x2="213.5" y2="937.5" stroke="#2a2a2a" stroke-width="1.2"/>
<line x1="212.9" y1="936.9" x2="365" y2="936.9" stroke="#2a2a2a" stroke-width="1.2"/>
<line x1="209.8" y1="936.9" x2="213.5" y2="936.9" stroke="#2a2a2a" stroke-width="1.08"/>
<text x="208.8" y="938.92" font-size="5.6" text-anchor="end" font-weight="bold" fill="#1a1a1a" stroke="#1a1a1a" stroke-width="0.12">0.0</text>
<line x1="209.8" y1="911.7" x2="213.5" y2="911.7" stroke="#2a2a2a" stroke-width="1.08"/>
<text x="208.8" y="913.72" font-size="5.6" text-anchor="end" font-weight="bold" fill="#1a1a1a" stroke="#1a1a1a" stroke-width="0.12">0.5</text>
<line x1="209.8" y1="886.5" x2="213.5" y2="886.5" stroke="#2a2a2a" stroke-width="1.08"/>
<text x="208.8" y="888.52" font-size="5.6" text-anchor="end" font-weight="bold" fill="#1a1a1a" stroke="#1a1a1a" stroke-width="0.12">1.0</text>
<line x1="209.8" y1="861.3" x2="213.5" y2="861.3" stroke="#2a2a2a" stroke-width="1.08"/>
<text x="208.8" y="863.32" font-size="5.6" text-anchor="end" font-weight="bold" fill="#1a1a1a" stroke="#1a1a1a" stroke-width="0.12">1.5</text>
<line x1="225" y1="936.9" x2="225" y2="940.4" stroke="#2a2a2a" stroke-width="1.08"/>
<text x="226.6" y="946.3" font-size="5.4" text-anchor="end" font-weight="bold" fill="#1a1a1a" transform="rotate(-45 226.6 946.3)" stroke="#1a1a1a" stroke-width="0.12">3BHSD</text>
<line x1="250.62" y1="936.9" x2="250.62" y2="940.4" stroke="#2a2a2a" stroke-width="1.08"/>
<text x="252.22" y="946.3" font-size="5.4" text-anchor="end" font-weight="bold" fill="#1a1a1a" transform="rotate(-45 252.22 946.3)" stroke="#1a1a1a" stroke-width="0.12">17BHSD</text>
<line x1="276.24" y1="936.9" x2="276.24" y2="940.4" stroke="#2a2a2a" stroke-width="1.08"/>
<text x="277.84" y="946.3" font-size="5.4" text-anchor="end" font-weight="bold" fill="#1a1a1a" transform="rotate(-45 277.84 946.3)" stroke="#1a1a1a" stroke-width="0.12">STAR</text>
<line x1="301.86" y1="936.9" x2="301.86" y2="940.4" stroke="#2a2a2a" stroke-width="1.08"/>
<text x="303.46" y="946.3" font-size="5.4" text-anchor="end" font-weight="bold" fill="#1a1a1a" transform="rotate(-45 303.46 946.3)" stroke="#1a1a1a" stroke-width="0.12">CYP11A1</text>
<line x1="327.48" y1="936.9" x2="327.48" y2="940.4" stroke="#2a2a2a" stroke-width="1.08"/>
<text x="329.08" y="946.3" font-size="5.4" text-anchor="end" font-weight="bold" fill="#1a1a1a" transform="rotate(-45 329.08 946.3)" stroke="#1a1a1a" stroke-width="0.12">CYP17A1</text>
<line x1="353.1" y1="936.9" x2="353.1" y2="940.4" stroke="#2a2a2a" stroke-width="1.08"/>
<text x="354.7" y="946.3" font-size="5.4" text-anchor="end" font-weight="bold" fill="#1a1a1a" transform="rotate(-45 354.7 946.3)" stroke="#1a1a1a" stroke-width="0.12">CYP19A1</text>
<text x="199" y="899.3" font-size="6.1" text-anchor="middle" font-weight="bold" fill="#1a1a1a" transform="rotate(-90 199 899.3)" stroke="#1a1a1a" stroke-width="0.12">Relative mRNA expression</text>
<rect x="211.9" y="827.1" width="9.1" height="4.4" fill="#3F6791"/>
<text x="224.6" y="831.71" font-size="6.7" text-anchor="start" fill="#333">OE</text>
<rect x="211.9" y="839.3" width="9.1" height="4.4" fill="#7CBFCB"/>
<text x="224.6" y="843.91" font-size="6.7" text-anchor="start" fill="#333">OE-AMH</text>
<defs><linearGradient id="gbH1" x1="0" y1="0" x2="1" y2="1"><stop offset="0" stop-color="#a9a9a9"/><stop offset="0.5" stop-color="#bdbdbd"/><stop offset="1" stop-color="#c6c6c6"/></linearGradient><linearGradient id="gbD2" x1="0" y1="0" x2="1" y2="0"><stop offset="0" stop-color="#d2d2d2"/><stop offset="0.5" stop-color="#dddddd"/><stop offset="1" stop-color="#d0d0d0"/></linearGradient><linearGradient id="gbD1" x1="0" y1="0" x2="0" y2="1"><stop offset="0" stop-color="#e4e4e4"/><stop offset="0.5" stop-color="#f0f0f0"/><stop offset="1" stop-color="#e6e6e6"/></linearGradient></defs>
<text x="90.8" y="298.9" font-size="7.8" text-anchor="middle" font-weight="bold" fill="#111">NC</text>
<text x="148.8" y="298.9" font-size="7.8" text-anchor="middle" font-weight="bold" fill="#111">SI-AMH</text>
<line x1="70.6" y1="302.8" x2="110.7" y2="302.8" stroke="#111" stroke-width="1.4"/>
<line x1="128.9" y1="302.8" x2="168.7" y2="302.8" stroke="#111" stroke-width="1.4"/>
<rect x="57.4" y="308.6" width="124.1" height="23" fill="#f4f4f4" stroke="#3a3a3a" stroke-width="0.9"/>
<g filter="url(#blur1)">
<line x1="64" y1="316.3" x2="75.6" y2="316.3" stroke="#050505" stroke-width="3.1" stroke-linecap="round"/>
</g>
<g filter="url(#blur1)">
<line x1="64.2" y1="322.4" x2="75.4" y2="322.4" stroke="#050505" stroke-width="3.5" stroke-linecap="round"/>
</g>
<g filter="url(#blur1)">
<line x1="83.05" y1="316.6" x2="93.35" y2="316" stroke="#0d0d0d" stroke-width="2.5" stroke-linecap="round"/>
</g>
<g filter="url(#blur1)">
<line x1="83.25" y1="322.65" x2="93.15" y2="322.15" stroke="#080808" stroke-width="2.9" stroke-linecap="round"/>
</g>
<g filter="url(#blur1)">
<line x1="102.15" y1="316.3" x2="114.45" y2="316.3" stroke="#0d0d0d" stroke-width="2.7" stroke-linecap="round"/>
</g>
<g filter="url(#blur1)">
<line x1="102.35" y1="322.4" x2="114.25" y2="322.4" stroke="#080808" stroke-width="3.1" stroke-linecap="round"/>
</g>
<g filter="url(#blur1)">
<line x1="121.65" y1="316.3" x2="133.95" y2="316.3" stroke="#262626" stroke-width="2.5" stroke-linecap="round"/>
</g>
<g filter="url(#blur1)">
<line x1="121.85" y1="322.4" x2="133.75" y2="322.4" stroke="#0d0d0d" stroke-width="2.9" stroke-linecap="round"/>
</g>
<g filter="url(#blur1)">
<line x1="142.35" y1="316.6" x2="155.25" y2="316" stroke="#141414" stroke-width="2.9" stroke-linecap="round"/>
</g>
<g filter="url(#blur1)">
<line x1="142.55" y1="322.4" x2="155.05" y2="322.4" stroke="#080808" stroke-width="3.3" stroke-linecap="round"/>
</g>
<g filter="url(#blur1)">
<line x1="163.25" y1="316.3" x2="174.75" y2="316.3" stroke="#404040" stroke-width="2.3" stroke-linecap="round"/>
</g>
<g filter="url(#blur1)">
<line x1="163.45" y1="322.4" x2="174.55" y2="322.4" stroke="#333333" stroke-width="2.7" stroke-linecap="round"/>
</g>
<rect x="57.4" y="344.5" width="124.1" height="16.1" fill="#f6f6f6" stroke="#3a3a3a" stroke-width="0.9"/>
<g filter="url(#blur1)">
<line x1="63.6" y1="353" x2="76" y2="353" stroke="#050505" stroke-width="3.3" stroke-linecap="round"/>
</g>
<g filter="url(#blur1)">
<line x1="82.75" y1="353" x2="93.65" y2="353" stroke="#080808" stroke-width="2.9" stroke-linecap="round"/>
</g>
<g filter="url(#blur1)">
<line x1="101.95" y1="353" x2="114.65" y2="353" stroke="#050505" stroke-width="3.3" stroke-linecap="round"/>
</g>
<g filter="url(#blur1)">
<line x1="120.95" y1="353" x2="134.65" y2="353" stroke="#adadad" stroke-width="2.1" stroke-linecap="round"/>
</g>
<g filter="url(#blur1)">
<line x1="141.45" y1="353" x2="156.15" y2="353" stroke="#b2b2b2" stroke-width="2.1" stroke-linecap="round"/>
</g>
<g filter="url(#blur1)">
<line x1="162.55" y1="353" x2="175.45" y2="353" stroke="#cccccc" stroke-width="1.9" stroke-linecap="round"/>
</g>
<rect x="58.3" y="372" width="123.2" height="21.5" fill="#f7f7f7" stroke="#3a3a3a" stroke-width="0.9"/>
<g filter="url(#blur1)">
<line x1="63.4" y1="383.4" x2="76.2" y2="383.4" stroke="#080808" stroke-width="2.9" stroke-linecap="round"/>
</g>
<g filter="url(#blur1)">
<line x1="82.75" y1="383.4" x2="93.65" y2="383.4" stroke="#080808" stroke-width="2.9" stroke-linecap="round"/>
</g>
<g filter="url(#blur1)">
<line x1="101.75" y1="383.4" x2="114.85" y2="383.4" stroke="#080808" stroke-width="2.9" stroke-linecap="round"/>
</g>
<g filter="url(#blur1)">
<line x1="121.35" y1="383.4" x2="134.25" y2="383.4" stroke="#080808" stroke-width="2.9" stroke-linecap="round"/>
</g>
<g filter="url(#blur1)">
<line x1="141.85" y1="383.4" x2="155.75" y2="383.4" stroke="#080808" stroke-width="2.9" stroke-linecap="round"/>
</g>
<g filter="url(#blur1)">
<line x1="163.05" y1="383.4" x2="174.95" y2="383.4" stroke="#080808" stroke-width="2.9" stroke-linecap="round"/>
</g>
<text x="53.3" y="325.9" font-size="10.7" text-anchor="end" font-weight="bold" fill="#111">CDK6</text>
<text x="52.2" y="357.1" font-size="10.7" text-anchor="end" font-weight="bold" fill="#111">CCND1</text>
<text x="51" y="386.9" font-size="10.7" text-anchor="end" font-weight="bold" fill="#111">α-TUBLIN</text>
<text x="187.2" y="322.1" font-size="11.1" text-anchor="start" font-weight="bold" fill="#111">36KDa</text>
<text x="187.2" y="356.7" font-size="11.1" text-anchor="start" font-weight="bold" fill="#111">36KDa</text>
<text x="187.2" y="387.3" font-size="11.1" text-anchor="start" font-weight="bold" fill="#111">50KDa</text>
<text x="84.3" y="434.2" font-size="7.8" text-anchor="middle" font-weight="bold" fill="#111">OE</text>
<text x="144" y="434.2" font-size="7.8" text-anchor="middle" font-weight="bold" fill="#111">OE-AMH</text>
<line x1="65.3" y1="437.7" x2="107.4" y2="437.7" stroke="#111" stroke-width="1.4"/>
<line x1="125.4" y1="437.7" x2="167.4" y2="437.7" stroke="#111" stroke-width="1.4"/>
<rect x="52.4" y="444" width="128.6" height="19.1" fill="url(#gbD1)"/>
<rect x="52.4" y="444" width="128.6" height="19.1" fill="none" stroke="#3a3a3a" stroke-width="0.9"/>
<g filter="url(#blur1)">
<line x1="57.4" y1="450.3" x2="70.2" y2="450.3" stroke="#050505" stroke-width="3.3" stroke-linecap="round"/>
</g>
<g filter="url(#blur1)">
<line x1="57.15" y1="455.8" x2="70.45" y2="455.8" stroke="#e0e0e0" stroke-width="1.8" stroke-linecap="round"/>
</g>
<g filter="url(#blur1)">
<line x1="78.25" y1="450.3" x2="91.55" y2="450.3" stroke="#0a0a0a" stroke-width="2.8" stroke-linecap="round"/>
</g>
<g filter="url(#blur1)">
<line x1="78.25" y1="455.8" x2="91.55" y2="455.8" stroke="#b2b2b2" stroke-width="1.8" stroke-linecap="round"/>
</g>
<g filter="url(#blur1)">
<line x1="99.3" y1="450.3" x2="111.5" y2="450.3" stroke="#050505" stroke-width="3.3" stroke-linecap="round"/>
</g>
<g filter="url(#blur1)">
<line x1="99.05" y1="455.8" x2="111.75" y2="455.8" stroke="#999999" stroke-width="1.8" stroke-linecap="round"/>
</g>
<g filter="url(#blur1)">
<line x1="118.25" y1="450.3" x2="131.55" y2="450.3" stroke="#0d0d0d" stroke-width="2.8" stroke-linecap="round"/>
</g>
<g filter="url(#blur1)">
<line x1="118.25" y1="455.8" x2="131.55" y2="455.8" stroke="#d9d9d9" stroke-width="1.8" stroke-linecap="round"/>
</g>
<g filter="url(#blur1)">
<line x1="139.6" y1="450.3" x2="152.8" y2="450.3" stroke="#030303" stroke-width="4.1" stroke-linecap="round"/>
</g>
<g filter="url(#blur1)">
<line x1="138.95" y1="455.8" x2="153.45" y2="455.8" stroke="#595959" stroke-width="1.8" stroke-linecap="round"/>
</g>
<g filter="url(#blur1)">
<line x1="161.1" y1="450.3" x2="174.5" y2="450.3" stroke="#050505" stroke-width="3.5" stroke-linecap="round"/>
<circle cx="161.1" cy="450.3" r="1.85" fill="#050505"/>
<circle cx="174.5" cy="450.3" r="1.85" fill="#050505"/>
</g>
<g filter="url(#blur1)">
<line x1="160.75" y1="455.8" x2="174.85" y2="455.8" stroke="#b2b2b2" stroke-width="1.8" stroke-linecap="round"/>
</g>
<rect x="52.4" y="479" width="128.6" height="19.5" fill="url(#gbD2)"/>
<rect x="52.4" y="479" width="128.6" height="19.5" fill="none" stroke="#3a3a3a" stroke-width="0.9"/>
<g filter="url(#blur1)">
<line x1="57" y1="487.9" x2="70.6" y2="487.9" stroke="#1f1f1f" stroke-width="2.5" stroke-linecap="round"/>
</g>
<g filter="url(#blur1)">
<line x1="78.1" y1="487.9" x2="91.7" y2="487.9" stroke="#191919" stroke-width="2.5" stroke-linecap="round"/>
</g>
<g filter="url(#blur1)">
<line x1="99.4" y1="487.9" x2="111.4" y2="487.9" stroke="#050505" stroke-width="3.5" stroke-linecap="round"/>
</g>
<g filter="url(#blur1)">
<line x1="118.4" y1="487.9" x2="131.4" y2="487.9" stroke="#080808" stroke-width="3.1" stroke-linecap="round"/>
</g>
<g filter="url(#blur1)">
<line x1="139.95" y1="487.9" x2="152.45" y2="487.9" stroke="#030303" stroke-width="4.8" stroke-linecap="round"/>
</g>
<g filter="url(#blur1)">
<line x1="161.1" y1="487.9" x2="174.5" y2="487.9" stroke="#080808" stroke-width="3.5" stroke-linecap="round"/>
<circle cx="161.1" cy="487.9" r="1.9" fill="#080808"/>
<circle cx="174.5" cy="487.9" r="1.9" fill="#080808"/>
</g>
<rect x="53.4" y="511.3" width="127.6" height="20.3" fill="#f4f4f4" stroke="#3a3a3a" stroke-width="0.9"/>
<g filter="url(#blur1)">
<line x1="57.5" y1="520.3" x2="70.1" y2="520.3" stroke="#050505" stroke-width="3.5" stroke-linecap="round"/>
</g>
<g filter="url(#blur1)">
<line x1="78.4" y1="520.3" x2="91.4" y2="520.3" stroke="#050505" stroke-width="3.1" stroke-linecap="round"/>
</g>
<g filter="url(#blur1)">
<line x1="99.4" y1="520.3" x2="111.4" y2="520.3" stroke="#050505" stroke-width="3.5" stroke-linecap="round"/>
</g>
<g filter="url(#blur1)">
<line x1="118.4" y1="520.3" x2="131.4" y2="520.3" stroke="#050505" stroke-width="3.1" stroke-linecap="round"/>
</g>
<g filter="url(#blur1)">
<line x1="139.4" y1="520.3" x2="153" y2="520.3" stroke="#050505" stroke-width="3.7" stroke-linecap="round"/>
</g>
<g filter="url(#blur1)">
<line x1="161" y1="520.3" x2="174.6" y2="520.3" stroke="#050505" stroke-width="3.3" stroke-linecap="round"/>
</g>
<text x="47.3" y="457.7" font-size="11.3" text-anchor="end" font-weight="bold" fill="#111">CDK6</text>
<text x="47.3" y="493.9" font-size="11.3" text-anchor="end" font-weight="bold" fill="#111">CCND1</text>
<text x="47" y="526.4" font-size="11.8" text-anchor="end" font-weight="bold" fill="#111">GAPDH</text>
<text x="187.2" y="458" font-size="11.4" text-anchor="start" font-weight="bold" fill="#111">36KDa</text>
<text x="187.2" y="494" font-size="11.4" text-anchor="start" font-weight="bold" fill="#111">36KDa</text>
<text x="187.2" y="526.6" font-size="11.4" text-anchor="start" font-weight="bold" fill="#111">36KDa</text>
<text x="470.7" y="571.8" font-size="7.8" text-anchor="middle" font-weight="bold" fill="#111">NC</text>
<text x="529.4" y="571.8" font-size="7.8" text-anchor="middle" font-weight="bold" fill="#111">SI-AMH</text>
<line x1="450.8" y1="575.6" x2="490.8" y2="575.6" stroke="#111" stroke-width="1.4"/>
<line x1="508.9" y1="575.6" x2="549.3" y2="575.6" stroke="#111" stroke-width="1.4"/>
<rect x="438.9" y="580.9" width="126.2" height="14.8" fill="url(#gbH1)"/>
<rect x="438.9" y="580.9" width="126.2" height="14.8" fill="none" stroke="#3a3a3a" stroke-width="0.9"/>
<g filter="url(#blur1)">
<line x1="445.2" y1="587.4" x2="457.2" y2="587.4" stroke="#080808" stroke-width="3.3" stroke-linecap="round"/>
</g>
<g filter="url(#blur1)">
<line x1="465.55" y1="587.4" x2="477.05" y2="587.4" stroke="#404040" stroke-width="2.3" stroke-linecap="round"/>
</g>
<g filter="url(#blur1)">
<line x1="485.4" y1="587.4" x2="497.4" y2="587.4" stroke="#404040" stroke-width="2.5" stroke-linecap="round"/>
</g>
<g filter="url(#blur1)">
<line x1="505.4" y1="587.4" x2="516.6" y2="587.4" stroke="#0d0d0d" stroke-width="3.1" stroke-linecap="round"/>
</g>
<g filter="url(#blur1)">
<line x1="526.1" y1="587.4" x2="537.5" y2="587.4" stroke="#141414" stroke-width="3.1" stroke-linecap="round"/>
</g>
<g filter="url(#blur1)">
<line x1="545.9" y1="587.4" x2="558.1" y2="587.4" stroke="#0d0d0d" stroke-width="3.3" stroke-linecap="round"/>
</g>
<rect x="438.9" y="605.1" width="126.2" height="17.6" fill="#f5f5f5" stroke="#3a3a3a" stroke-width="0.9"/>
<g filter="url(#blur1)">
<line x1="445.4" y1="613.3" x2="457" y2="613.3" stroke="#050505" stroke-width="3.7" stroke-linecap="round"/>
</g>
<g filter="url(#blur1)">
<line x1="466.25" y1="613.3" x2="476.35" y2="613.3" stroke="#050505" stroke-width="3.7" stroke-linecap="round"/>
</g>
<g filter="url(#blur1)">
<line x1="486" y1="613.3" x2="496.8" y2="613.3" stroke="#050505" stroke-width="3.7" stroke-linecap="round"/>
</g>
<g filter="url(#blur1)">
<line x1="505.7" y1="613.3" x2="516.3" y2="613.3" stroke="#050505" stroke-width="3.7" stroke-linecap="round"/>
</g>
<g filter="url(#blur1)">
<line x1="526.4" y1="613.3" x2="537.2" y2="613.3" stroke="#050505" stroke-width="3.7" stroke-linecap="round"/>
</g>
<g filter="url(#blur1)">
<line x1="546.1" y1="613.3" x2="557.9" y2="613.3" stroke="#050505" stroke-width="3.7" stroke-linecap="round"/>
</g>
<text x="469.8" y="641.4" font-size="7.8" text-anchor="middle" font-weight="bold" fill="#111">OE</text>
<text x="527" y="641.4" font-size="7.8" text-anchor="middle" font-weight="bold" fill="#111">OE-AMH</text>
<line x1="451.8" y1="645.2" x2="491.8" y2="645.2" stroke="#111" stroke-width="1.4"/>
<line x1="508.9" y1="645.2" x2="549.3" y2="645.2" stroke="#111" stroke-width="1.4"/>
<rect x="438.9" y="649.3" width="126.2" height="17.7" fill="#eeeeee" stroke="#3a3a3a" stroke-width="0.9"/>
<g filter="url(#blur1)">
<line x1="444.7" y1="654.1" x2="457.7" y2="654.1" stroke="#808080" stroke-width="2.3" stroke-linecap="round"/>
</g>
<g filter="url(#blur1)">
<line x1="444.8" y1="659" x2="457.6" y2="659" stroke="#050505" stroke-width="2.5" stroke-linecap="round"/>
<circle cx="444.8" cy="659" r="1.5" fill="#050505"/>
<circle cx="457.6" cy="659" r="1.5" fill="#050505"/>
</g>
<g filter="url(#blur1)">
<line x1="465.55" y1="654.1" x2="477.05" y2="654.1" stroke="#b2b2b2" stroke-width="2.3" stroke-linecap="round"/>
</g>
<g filter="url(#blur1)">
<line x1="465.65" y1="659" x2="476.95" y2="659" stroke="#262626" stroke-width="2.5" stroke-linecap="round"/>
</g>
<g filter="url(#blur1)">
<line x1="485.3" y1="654.1" x2="497.5" y2="654.1" stroke="#4d4d4d" stroke-width="2.3" stroke-linecap="round"/>
</g>
<g filter="url(#blur1)">
<line x1="485.4" y1="659" x2="497.4" y2="659" stroke="#0d0d0d" stroke-width="2.5" stroke-linecap="round"/>
</g>
<g filter="url(#blur1)">
<line x1="505" y1="654.1" x2="517" y2="654.1" stroke="#666666" stroke-width="2.3" stroke-linecap="round"/>
</g>
<g filter="url(#blur1)">
<line x1="505.1" y1="659" x2="516.9" y2="659" stroke="#0d0d0d" stroke-width="2.5" stroke-linecap="round"/>
</g>
<g filter="url(#blur1)">
<line x1="525.7" y1="654.1" x2="537.9" y2="654.1" stroke="#808080" stroke-width="2.3" stroke-linecap="round"/>
</g>
<g filter="url(#blur1)">
<line x1="525.8" y1="659" x2="537.8" y2="659" stroke="#a6a6a6" stroke-width="2.5" stroke-linecap="round"/>
</g>
<g filter="url(#blur1)">
<line x1="545.4" y1="654.1" x2="558.6" y2="654.1" stroke="#666666" stroke-width="2.3" stroke-linecap="round"/>
</g>
<g filter="url(#blur1)">
<line x1="545.5" y1="659" x2="558.5" y2="659" stroke="#808080" stroke-width="2.5" stroke-linecap="round"/>
</g>
<rect x="438.9" y="675.3" width="126.2" height="20.6" fill="#f5f5f5" stroke="#3a3a3a" stroke-width="0.9"/>
<g filter="url(#blur1)">
<line x1="445.1" y1="684.6" x2="457.3" y2="684.6" stroke="#080808" stroke-width="3.1" stroke-linecap="round"/>
</g>
<g filter="url(#blur1)">
<line x1="465.95" y1="684.8" x2="476.65" y2="684.8" stroke="#080808" stroke-width="3.1" stroke-linecap="round"/>
</g>
<g filter="url(#blur1)">
<line x1="485.7" y1="685.4" x2="497.1" y2="685.4" stroke="#080808" stroke-width="3.1" stroke-linecap="round"/>
</g>
<g filter="url(#blur1)">
<line x1="505.4" y1="686" x2="516.6" y2="686" stroke="#080808" stroke-width="3.1" stroke-linecap="round"/>
</g>
<g filter="url(#blur1)">
<line x1="526.1" y1="686.6" x2="537.5" y2="686.6" stroke="#080808" stroke-width="3.1" stroke-linecap="round"/>
</g>
<g filter="url(#blur1)">
<line x1="545.8" y1="686.6" x2="558.2" y2="686.6" stroke="#080808" stroke-width="3.1" stroke-linecap="round"/>
</g>
<text x="434.7" y="592.8" font-size="10.7" text-anchor="end" font-weight="bold" fill="#111">CYP19A1</text>
<text x="433.1" y="616.9" font-size="10.7" text-anchor="end" font-weight="bold" fill="#111">α-TUBLIN</text>
<text x="434.3" y="663.2" font-size="10.7" text-anchor="end" font-weight="bold" fill="#111">CYP19A1</text>
<text x="434.7" y="690" font-size="10.7" text-anchor="end" font-weight="bold" fill="#111">α-TUBLIN</text>
<text x="570.6" y="594.3" font-size="10.7" text-anchor="start" font-weight="bold" fill="#111">58KDa</text>
<text x="570.6" y="617.6" font-size="10.7" text-anchor="start" font-weight="bold" fill="#111">50KDa</text>
<text x="571" y="663.4" font-size="10.7" text-anchor="start" font-weight="bold" fill="#111">58KDa</text>
<text x="571.3" y="690.4" font-size="10.7" text-anchor="start" font-weight="bold" fill="#111">50KDa</text>
<text x="449.7" y="168.2" font-size="10.9" text-anchor="middle" fill="#111">NC</text>
<line x1="399.8" y1="276" x2="399.8" y2="278.4" stroke="#333" stroke-width="0.55"/>
<line x1="404.79" y1="276" x2="404.79" y2="277.3" stroke="#333" stroke-width="0.55"/>
<line x1="409.77" y1="276" x2="409.77" y2="277.3" stroke="#333" stroke-width="0.55"/>
<line x1="414.76" y1="276" x2="414.76" y2="277.3" stroke="#333" stroke-width="0.55"/>
<line x1="419.74" y1="276" x2="419.74" y2="278.4" stroke="#333" stroke-width="0.55"/>
<line x1="424.73" y1="276" x2="424.73" y2="277.3" stroke="#333" stroke-width="0.55"/>
<line x1="429.71" y1="276" x2="429.71" y2="277.3" stroke="#333" stroke-width="0.55"/>
<line x1="434.7" y1="276" x2="434.7" y2="277.3" stroke="#333" stroke-width="0.55"/>
<line x1="439.68" y1="276" x2="439.68" y2="278.4" stroke="#333" stroke-width="0.55"/>
<line x1="444.67" y1="276" x2="444.67" y2="277.3" stroke="#333" stroke-width="0.55"/>
<line x1="449.65" y1="276" x2="449.65" y2="277.3" stroke="#333" stroke-width="0.55"/>
<line x1="454.64" y1="276" x2="454.64" y2="277.3" stroke="#333" stroke-width="0.55"/>
<line x1="459.62" y1="276" x2="459.62" y2="278.4" stroke="#333" stroke-width="0.55"/>
<line x1="464.61" y1="276" x2="464.61" y2="277.3" stroke="#333" stroke-width="0.55"/>
<line x1="469.59" y1="276" x2="469.59" y2="277.3" stroke="#333" stroke-width="0.55"/>
<line x1="474.58" y1="276" x2="474.58" y2="277.3" stroke="#333" stroke-width="0.55"/>
<line x1="479.57" y1="276" x2="479.57" y2="278.4" stroke="#333" stroke-width="0.55"/>
<line x1="484.55" y1="276" x2="484.55" y2="277.3" stroke="#333" stroke-width="0.55"/>
<line x1="489.54" y1="276" x2="489.54" y2="277.3" stroke="#333" stroke-width="0.55"/>
<line x1="494.52" y1="276" x2="494.52" y2="277.3" stroke="#333" stroke-width="0.55"/>
<line x1="499.51" y1="276" x2="499.51" y2="278.4" stroke="#333" stroke-width="0.55"/>
<text x="399.8" y="282.7" font-size="4" text-anchor="middle" fill="#333" stroke="#333" stroke-width="0.05">0</text>
<text x="419.74" y="282.7" font-size="4" text-anchor="middle" fill="#333" stroke="#333" stroke-width="0.05">200</text>
<text x="439.68" y="282.7" font-size="4" text-anchor="middle" fill="#333" stroke="#333" stroke-width="0.05">400</text>
<text x="459.62" y="282.7" font-size="4" text-anchor="middle" fill="#333" stroke="#333" stroke-width="0.05">600</text>
<text x="479.57" y="282.7" font-size="4" text-anchor="middle" fill="#333" stroke="#333" stroke-width="0.05">800</text>
<text x="498.51" y="282.7" font-size="4" text-anchor="middle" fill="#333" stroke="#333" stroke-width="0.05">1.0K</text>
<line x1="396" y1="275.2" x2="398.8" y2="275.2" stroke="#333" stroke-width="0.6"/>
<text x="394.2" y="276.6" font-size="4" text-anchor="end" fill="#333" stroke="#333" stroke-width="0.05">0</text>
<line x1="396" y1="250.5" x2="398.8" y2="250.5" stroke="#333" stroke-width="0.6"/>
<text x="394.2" y="251.9" font-size="4" text-anchor="end" fill="#333" stroke="#333" stroke-width="0.05">200</text>
<line x1="396" y1="225.3" x2="398.8" y2="225.3" stroke="#333" stroke-width="0.6"/>
<text x="394.2" y="226.7" font-size="4" text-anchor="end" fill="#333" stroke="#333" stroke-width="0.05">400</text>
<line x1="396" y1="200.1" x2="398.8" y2="200.1" stroke="#333" stroke-width="0.6"/>
<text x="394.2" y="201.5" font-size="4" text-anchor="end" fill="#333" stroke="#333" stroke-width="0.05">600</text>
<line x1="397.3" y1="275.2" x2="398.8" y2="275.2" stroke="#333" stroke-width="0.5"/>
<line x1="397.3" y1="269.02" x2="398.8" y2="269.02" stroke="#333" stroke-width="0.5"/>
<line x1="397.3" y1="262.85" x2="398.8" y2="262.85" stroke="#333" stroke-width="0.5"/>
<line x1="397.3" y1="256.67" x2="398.8" y2="256.67" stroke="#333" stroke-width="0.5"/>
<line x1="397.3" y1="250.5" x2="398.8" y2="250.5" stroke="#333" stroke-width="0.5"/>
<line x1="397.3" y1="244.32" x2="398.8" y2="244.32" stroke="#333" stroke-width="0.5"/>
<line x1="397.3" y1="238.15" x2="398.8" y2="238.15" stroke="#333" stroke-width="0.5"/>
<line x1="397.3" y1="231.97" x2="398.8" y2="231.97" stroke="#333" stroke-width="0.5"/>
<line x1="397.3" y1="225.8" x2="398.8" y2="225.8" stroke="#333" stroke-width="0.5"/>
<line x1="397.3" y1="219.62" x2="398.8" y2="219.62" stroke="#333" stroke-width="0.5"/>
<line x1="397.3" y1="213.45" x2="398.8" y2="213.45" stroke="#333" stroke-width="0.5"/>
<line x1="397.3" y1="207.27" x2="398.8" y2="207.27" stroke="#333" stroke-width="0.5"/>
<line x1="397.3" y1="201.1" x2="398.8" y2="201.1" stroke="#333" stroke-width="0.5"/>
<line x1="397.3" y1="194.92" x2="398.8" y2="194.92" stroke="#333" stroke-width="0.5"/>
<line x1="397.3" y1="188.75" x2="398.8" y2="188.75" stroke="#333" stroke-width="0.5"/>
<line x1="397.3" y1="182.57" x2="398.8" y2="182.57" stroke="#333" stroke-width="0.5"/>
<line x1="397.3" y1="176.4" x2="398.8" y2="176.4" stroke="#333" stroke-width="0.5"/>
<text x="376.8" y="225.5" font-size="4.2" text-anchor="middle" fill="#333" transform="rotate(-90 376.8 225.5)" stroke="#333" stroke-width="0.05">Count</text>
<text x="451.6" y="295.7" font-size="4.2" text-anchor="middle" fill="#333" stroke="#333" stroke-width="0.05">FL2-A</text>
<polygon points="415.2,275.9 415.4,275.88 415.6,275.85 415.8,275.81 416,275.76 416.2,275.7 416.4,275.63 416.6,275.56 416.8,275.48 417,275.39 417.2,275.31 417.4,275.22 417.6,275.12 417.8,275.03 418,274.94 418.2,274.85 418.4,274.76 418.6,274.68 418.8,274.6 419,274.53 419.2,274.47 419.4,274.41 419.6,274.37 419.8,274.33 420,274.31 420.2,274.3 420.4,274.31 420.6,274.32 420.8,274.33 421,274.35 421.2,274.37 421.4,274.4 421.6,274.42 421.8,274.45 422,274.49 422.2,274.52 422.4,274.56 422.6,274.6 422.8,274.64 423,274.68 423.2,274.72 423.4,274.77 423.6,274.81 423.8,274.86 424,274.9 424.2,274.94 424.4,274.99 424.6,275.03 424.8,275.08 425,275.12 425.2,275.16 425.4,275.2 425.6,275.24 425.8,275.28 426,275.31 426.2,275.35 426.4,275.38 426.6,275.4 426.8,275.43 427,275.45 427.2,275.47 427.4,275.48 427.6,275.49 427.8,275.5 428,275.5 428.2,275.5 428.4,275.5 428.6,275.5 428.8,275.5 429,275.5 429.2,275.5 429.4,275.5 429.6,275.5 429.8,275.5 430,275.5 430.2,275.5 430.4,275.5 430.6,275.5 430.8,275.5 431,275.5 431.2,275.5 431.4,275.5 431.6,275.5 431.8,275.5 432,275.5 432.2,275.5 432.4,275.5 432.6,275.5 432.8,275.5 433,275.5 433.2,275.5 433.4,275.51 433.6,275.51 433.8,275.52 434,275.53 434.2,275.54 434.4,275.55 434.6,275.56 434.8,275.58 435,275.59 435.2,275.61 435.4,275.62 435.6,275.64 435.8,275.66 436,275.67 436.2,275.69 436.4,275.71 436.6,275.73 436.8,275.74 437,275.76 437.2,275.78 437.4,275.79 437.6,275.81 437.8,275.82 438,275.84 438.2,275.85 438.4,275.86 438.6,275.87 438.8,275.88 438.8,275.9 438.6,275.9 438.4,275.9 438.2,275.9 438,275.9 437.8,275.9 437.6,275.9 437.4,275.9 437.2,275.9 437,275.9 436.8,275.9 436.6,275.9 436.4,275.9 436.2,275.9 436,275.9 435.8,275.9 435.6,275.9 435.4,275.9 435.2,275.9 435,275.9 434.8,275.9 434.6,275.9 434.4,275.9 434.2,275.9 434,275.9 433.8,275.9 433.6,275.9 433.4,275.9 433.2,275.9 433,275.9 432.8,275.9 432.6,275.9 432.4,275.9 432.2,275.9 432,275.9 431.8,275.9 431.6,275.9 431.4,275.9 431.2,275.9 431,275.9 430.8,275.9 430.6,275.9 430.4,275.9 430.2,275.9 430,275.9 429.8,275.9 429.6,275.9 429.4,275.9 429.2,275.9 429,275.9 428.8,275.9 428.6,275.9 428.4,275.9 428.2,275.9 428,275.9 427.8,275.9 427.6,275.9 427.4,275.9 427.2,275.9 427,275.9 426.8,275.9 426.6,275.9 426.4,275.9 426.2,275.9 426,275.9 425.8,275.9 425.6,275.9 425.4,275.9 425.2,275.9 425,275.9 424.8,275.9 424.6,275.9 424.4,275.9 424.2,275.9 424,275.9 423.8,275.9 423.6,275.9 423.4,275.9 423.2,275.9 423,275.9 422.8,275.9 422.6,275.9 422.4,275.9 422.2,275.9 422,275.9 421.8,275.9 421.6,275.9 421.4,275.9 421.2,275.9 421,275.9 420.8,275.9 420.6,275.9 420.4,275.9 420.2,275.9 420,275.9 419.8,275.9 419.6,275.9 419.4,275.9 419.2,275.9 419,275.9 418.8,275.9 418.6,275.9 418.4,275.9 418.2,275.9 418,275.9 417.8,275.9 417.6,275.9 417.4,275.9 417.2,275.9 417,275.9 416.8,275.9 416.6,275.9 416.4,275.9 416.2,275.9 416,275.9 415.8,275.9 415.6,275.9 415.4,275.9 415.2,275.9" fill="#e3e89a" fill-opacity="1"/>
<polygon points="411.6,275.88 411.8,275.87 412,275.84 412.2,275.8 412.4,275.73 412.6,275.61 412.8,275.41 413,275.11 413.2,274.64 413.4,273.95 413.6,272.95 413.8,271.54 414,269.61 414.2,267.03 414.4,263.69 414.6,259.49 414.8,254.36 415,248.28 415.2,241.32 415.4,233.61 415.6,225.39 415.8,217 416,208.81 416.2,201.26 416.4,194.82 416.6,189.88 416.8,186.77 417,185.71 417.2,186.77 417.4,189.88 417.6,194.82 417.8,201.26 418,208.81 418.2,217 418.4,225.39 418.6,233.61 418.8,241.32 419,248.28 419.2,254.36 419.4,259.49 419.6,263.69 419.8,267.03 420,269.61 420.2,271.54 420.4,272.95 420.6,273.95 420.8,274.64 421,275.11 421.2,275.41 421.4,275.61 421.6,275.73 421.8,275.8 422,275.84 422.2,275.87 422.4,275.88 422.4,275.9 422.2,275.9 422,275.9 421.8,275.9 421.6,275.9 421.4,275.9 421.2,275.9 421,275.9 420.8,275.9 420.6,275.9 420.4,275.9 420.2,275.9 420,275.9 419.8,275.9 419.6,275.9 419.4,275.9 419.2,275.9 419,275.9 418.8,275.9 418.6,275.9 418.4,275.9 418.2,275.9 418,275.9 417.8,275.9 417.6,275.9 417.4,275.9 417.2,275.9 417,275.9 416.8,275.9 416.6,275.9 416.4,275.9 416.2,275.9 416,275.9 415.8,275.9 415.6,275.9 415.4,275.9 415.2,275.9 415,275.9 414.8,275.9 414.6,275.9 414.4,275.9 414.2,275.9 414,275.9 413.8,275.9 413.6,275.9 413.4,275.9 413.2,275.9 413,275.9 412.8,275.9 412.6,275.9 412.4,275.9 412.2,275.9 412,275.9 411.8,275.9 411.6,275.9" fill="#a3a6e2" fill-opacity="1"/>
<polygon points="415.2,275.9 415.4,275.88 415.6,275.85 415.8,275.81 416,275.76 416.2,275.7 416.4,275.63 416.6,275.56 416.8,275.48 417,275.39 417.2,275.31 417.4,275.22 417.6,275.12 417.8,275.03 418,274.94 418.2,274.85 418.4,274.76 418.6,274.68 418.8,274.6 419,274.53 419.2,274.47 419.4,274.41 419.6,274.37 419.8,274.33 420,274.31 420.2,274.3 420.4,274.31 420.6,274.32 420.8,274.64 421,275.11 421.2,275.41 421.4,275.61 421.6,275.73 421.8,275.8 422,275.84 422.2,275.87 422.4,275.88 422.4,275.9 422.2,275.9 422,275.9 421.8,275.9 421.6,275.9 421.4,275.9 421.2,275.9 421,275.9 420.8,275.9 420.6,275.9 420.4,275.9 420.2,275.9 420,275.9 419.8,275.9 419.6,275.9 419.4,275.9 419.2,275.9 419,275.9 418.8,275.9 418.6,275.9 418.4,275.9 418.2,275.9 418,275.9 417.8,275.9 417.6,275.9 417.4,275.9 417.2,275.9 417,275.9 416.8,275.9 416.6,275.9 416.4,275.9 416.2,275.9 416,275.9 415.8,275.9 415.6,275.9 415.4,275.9 415.2,275.9" fill="#c2c2c2" fill-opacity="1"/>
<polygon points="428,275.48 428.2,275.48 428.4,275.47 428.6,275.45 428.8,275.43 429,275.4 429.2,275.36 429.4,275.31 429.6,275.24 429.8,275.15 430,275.04 430.2,274.9 430.4,274.73 430.6,274.53 430.8,274.29 431,274.01 431.2,273.69 431.4,273.33 431.6,272.94 431.8,272.52 432,272.07 432.2,271.62 432.4,271.16 432.6,270.72 432.8,270.31 433,269.94 433.2,269.62 433.4,269.38 433.6,269.21 433.8,269.13 434,269.14 434.2,269.24 434.4,269.42 434.6,269.68 434.8,270.01 435,270.4 435.2,270.83 435.4,271.29 435.6,271.76 435.8,272.23 436,272.69 436.2,273.13 436.4,273.54 436.6,273.91 436.8,274.25 437,274.55 437.2,274.8 437.4,275.02 437.6,275.21 437.8,275.36 438,275.49 438.2,275.59 438.4,275.67 438.6,275.73 438.8,275.78 439,275.82 439.2,275.84 439.4,275.86 439.6,275.88 439.8,275.88 439.8,275.9 439.6,275.9 439.4,275.9 439.2,275.89 439,275.89 438.8,275.88 438.6,275.87 438.4,275.86 438.2,275.85 438,275.84 437.8,275.82 437.6,275.81 437.4,275.79 437.2,275.78 437,275.76 436.8,275.74 436.6,275.73 436.4,275.71 436.2,275.69 436,275.67 435.8,275.66 435.6,275.64 435.4,275.62 435.2,275.61 435,275.59 434.8,275.58 434.6,275.56 434.4,275.55 434.2,275.54 434,275.53 433.8,275.52 433.6,275.51 433.4,275.51 433.2,275.5 433,275.5 432.8,275.5 432.6,275.5 432.4,275.5 432.2,275.5 432,275.5 431.8,275.5 431.6,275.5 431.4,275.5 431.2,275.5 431,275.5 430.8,275.5 430.6,275.5 430.4,275.5 430.2,275.5 430,275.5 429.8,275.5 429.6,275.5 429.4,275.5 429.2,275.5 429,275.5 428.8,275.5 428.6,275.5 428.4,275.5 428.2,275.5 428,275.5" fill="#96da8a" fill-opacity="1"/>
<polygon points="428.6,275.9 428.8,275.83 429,275.8 429.2,275.76 429.4,275.71 429.6,275.64 429.8,275.55 430,275.44 430.2,275.3 430.4,275.13 430.6,274.93 430.8,274.69 431,274.41 431.2,274.09 431.4,273.73 431.6,273.34 431.8,272.92 432,272.47 432.2,272.02 432.4,271.56 432.6,271.12 432.8,270.71 433,270.34 433.2,270.02 433.4,269.77 433.6,269.6 433.8,269.51 434,269.51 434.2,269.6 434.4,269.77 434.6,270.02 434.8,270.34 435,270.71 435.2,271.12 435.4,271.56 435.6,272.02 435.8,272.47 436,272.92 436.2,273.34 436.4,273.73 436.6,274.09 436.8,274.41 437,274.69 437.2,274.93 437.4,275.13 437.6,275.3 437.8,275.44 438,275.55 438.2,275.64 438.4,275.71 438.6,275.76 438.8,275.8 439,275.83 439.2,275.9 439.2,275.9 439,275.9 438.8,275.9 438.6,275.9 438.4,275.9 438.2,275.9 438,275.9 437.8,275.9 437.6,275.9 437.4,275.9 437.2,275.9 437,275.9 436.8,275.9 436.6,275.9 436.4,275.9 436.2,275.9 436,275.9 435.8,275.9 435.6,275.9 435.4,275.9 435.2,275.9 435,275.9 434.8,275.9 434.6,275.9 434.4,275.9 434.2,275.9 434,275.9 433.8,275.9 433.6,275.9 433.4,275.9 433.2,275.9 433,275.9 432.8,275.9 432.6,275.9 432.4,275.9 432.2,275.9 432,275.9 431.8,275.9 431.6,275.9 431.4,275.9 431.2,275.9 431,275.9 430.8,275.9 430.6,275.9 430.4,275.9 430.2,275.9 430,275.9 429.8,275.9 429.6,275.9 429.4,275.9 429.2,275.9 429,275.9 428.8,275.9 428.6,275.9" fill="#96da8a" fill-opacity="0.9"/>
<polyline points="412.8,275.41 413,275.11 413.2,274.64 413.4,273.95 413.6,272.95 413.8,271.54 414,269.61 414.2,267.03 414.4,263.69 414.6,259.49 414.8,254.36 415,248.28 415.2,241.32 415.4,233.61 415.6,225.39 415.8,217 416,208.81 416.2,201.26 416.4,194.82 416.6,189.88 416.8,186.77 417,185.71 417.2,186.77 417.4,189.88 417.6,194.82 417.8,201.26 418,208.81 418.2,217 418.4,225.39 418.6,233.61 418.8,241.32 419,248.28 419.2,254.36 419.4,259.49 419.6,263.69 419.8,267.03 420,269.61 420.2,271.54 420.4,272.95 420.6,273.95 420.8,274.64 421,275.11 421.2,275.41" fill="none" stroke="#444" stroke-width="0.45"/>
<polyline points="399.6,275.9 411.4,275.89 411.6,275.88 411.8,275.87 412,275.84 412.2,275.8 412.4,275.73 412.6,275.61 412.8,275.41 413,275.11 413.2,274.64 413.4,273.95 413.6,272.95 413.8,271.54 414,269.61 414.2,267.03 414.4,263.69 414.6,259.49 414.8,254.36 415,248.28 415.2,241.31 415.4,233.59 415.6,225.34 415.8,216.9 416,208.66 416.2,201.06 416.4,194.55 416.6,189.53 416.8,186.35 417,185.2 417.2,186.17 417.4,189.19 417.6,194.04 417.8,200.4 418,207.84 418.2,215.95 418.4,224.26 418.6,232.39 418.8,240.02 419,246.91 419.2,252.93 419.4,258.01 419.6,262.16 419.8,265.47 420,268.02 420.2,269.94 420.4,271.36 420.6,272.37 420.8,273.08 421,273.56 421.2,273.88 421.4,274.1 421.6,274.25 421.8,274.36 422,274.43 422.2,274.49 422.4,274.54 422.6,274.59 422.8,274.63 423,274.68 423.2,274.72 423.4,274.77 423.6,274.81 423.8,274.85 424,274.9 424.2,274.94 424.4,274.99 424.6,275.03 424.8,275.08 425,275.12 425.2,275.16 425.4,275.2 425.6,275.24 425.8,275.28 426,275.31 426.2,275.34 426.4,275.37 426.6,275.4 426.8,275.43 427,275.45 427.2,275.46 427.4,275.48 427.6,275.48 427.8,275.49 428,275.48 428.2,275.48 428.4,275.47 428.6,275.45 428.8,275.43 429,275.4 429.2,275.36 429.4,275.31 429.6,275.24 429.8,275.15 430,275.04 430.2,274.9 430.4,274.73 430.6,274.53 430.8,274.29 431,274.01 431.2,273.69 431.4,273.33 431.6,272.94 431.8,272.52 432,272.07 432.2,271.62 432.4,271.16 432.6,270.72 432.8,270.31 433,269.94 433.2,269.62 433.4,269.38 433.6,269.21 433.8,269.13 434,269.14 434.2,269.24 434.4,269.42 434.6,269.68 434.8,270.01 435,270.4 435.2,270.83 435.4,271.29 435.6,271.76 435.8,272.23 436,272.69 436.2,273.13 436.4,273.54 436.6,273.91 436.8,274.25 437,274.55 437.2,274.8 437.4,275.02 437.6,275.21 437.8,275.36 438,275.49 438.2,275.59 438.4,275.67 438.6,275.73 438.8,275.78 439,275.82 439.2,275.84 439.4,275.86 439.6,275.88 439.8,275.88 440,275.89 440.2,275.89 503.6,275.9" fill="none" stroke="#9c3cae" stroke-width="0.85" stroke-linejoin="round"/>
<polyline points="416.4,194.15 416.6,189.13 416.8,185.95 417,184.8 417.2,185.77 417.4,188.79 417.6,193.64" fill="none" stroke="#333" stroke-width="0.55" stroke-linejoin="round"/>
<rect x="398.8" y="175" width="105.6" height="101" fill="none" stroke="#555" stroke-width="0.6"/>
<text x="472" y="221.8" font-size="5.5" font-family="Liberation Serif" font-weight="bold" fill="#111" stroke="#111" stroke-width="0.12">%G1<tspan font-family="Liberation Sans" font-weight="normal" fill="#3a3a3a" stroke="none"> : 81.4</tspan></text>
<text x="472" y="229.7" font-size="5.5" font-family="Liberation Serif" font-weight="bold" fill="#111" stroke="#111" stroke-width="0.12">%S<tspan font-family="Liberation Sans" font-weight="normal" fill="#3a3a3a" stroke="none"> : 8.51</tspan></text>
<text x="472" y="237.6" font-size="5.5" font-family="Liberation Serif" font-weight="bold" fill="#111" stroke="#111" stroke-width="0.12">%G2<tspan font-family="Liberation Sans" font-weight="normal" fill="#3a3a3a" stroke="none"> : 8.01</tspan></text>
<text x="615.8" y="168.6" font-size="10.9" text-anchor="middle" fill="#111">OE</text>
<line x1="560.6" y1="276.2" x2="560.6" y2="278.6" stroke="#333" stroke-width="0.55"/>
<line x1="565.59" y1="276.2" x2="565.59" y2="277.5" stroke="#333" stroke-width="0.55"/>
<line x1="570.57" y1="276.2" x2="570.57" y2="277.5" stroke="#333" stroke-width="0.55"/>
<line x1="575.56" y1="276.2" x2="575.56" y2="277.5" stroke="#333" stroke-width="0.55"/>
<line x1="580.54" y1="276.2" x2="580.54" y2="278.6" stroke="#333" stroke-width="0.55"/>
<line x1="585.53" y1="276.2" x2="585.53" y2="277.5" stroke="#333" stroke-width="0.55"/>
<line x1="590.51" y1="276.2" x2="590.51" y2="277.5" stroke="#333" stroke-width="0.55"/>
<line x1="595.5" y1="276.2" x2="595.5" y2="277.5" stroke="#333" stroke-width="0.55"/>
<line x1="600.48" y1="276.2" x2="600.48" y2="278.6" stroke="#333" stroke-width="0.55"/>
<line x1="605.47" y1="276.2" x2="605.47" y2="277.5" stroke="#333" stroke-width="0.55"/>
<line x1="610.45" y1="276.2" x2="610.45" y2="277.5" stroke="#333" stroke-width="0.55"/>
<line x1="615.44" y1="276.2" x2="615.44" y2="277.5" stroke="#333" stroke-width="0.55"/>
<line x1="620.42" y1="276.2" x2="620.42" y2="278.6" stroke="#333" stroke-width="0.55"/>
<line x1="625.41" y1="276.2" x2="625.41" y2="277.5" stroke="#333" stroke-width="0.55"/>
<line x1="630.39" y1="276.2" x2="630.39" y2="277.5" stroke="#333" stroke-width="0.55"/>
<line x1="635.38" y1="276.2" x2="635.38" y2="277.5" stroke="#333" stroke-width="0.55"/>
<line x1="640.37" y1="276.2" x2="640.37" y2="278.6" stroke="#333" stroke-width="0.55"/>
<line x1="645.35" y1="276.2" x2="645.35" y2="277.5" stroke="#333" stroke-width="0.55"/>
<line x1="650.34" y1="276.2" x2="650.34" y2="277.5" stroke="#333" stroke-width="0.55"/>
<line x1="655.32" y1="276.2" x2="655.32" y2="277.5" stroke="#333" stroke-width="0.55"/>
<line x1="660.31" y1="276.2" x2="660.31" y2="278.6" stroke="#333" stroke-width="0.55"/>
<text x="560.6" y="283.3" font-size="4" text-anchor="middle" fill="#333" stroke="#333" stroke-width="0.05">0</text>
<text x="580.54" y="283.3" font-size="4" text-anchor="middle" fill="#333" stroke="#333" stroke-width="0.05">200</text>
<text x="600.48" y="283.3" font-size="4" text-anchor="middle" fill="#333" stroke="#333" stroke-width="0.05">400</text>
<text x="620.42" y="283.3" font-size="4" text-anchor="middle" fill="#333" stroke="#333" stroke-width="0.05">600</text>
<text x="640.37" y="283.3" font-size="4" text-anchor="middle" fill="#333" stroke="#333" stroke-width="0.05">800</text>
<text x="659.31" y="283.3" font-size="4" text-anchor="middle" fill="#333" stroke="#333" stroke-width="0.05">1.0K</text>
<line x1="556.8" y1="275.5" x2="559.6" y2="275.5" stroke="#333" stroke-width="0.6"/>
<text x="555" y="276.9" font-size="4" text-anchor="end" fill="#333" stroke="#333" stroke-width="0.05">0</text>
<line x1="556.8" y1="259.4" x2="559.6" y2="259.4" stroke="#333" stroke-width="0.6"/>
<text x="555" y="260.8" font-size="4" text-anchor="end" fill="#333" stroke="#333" stroke-width="0.05">100</text>
<line x1="556.8" y1="242.3" x2="559.6" y2="242.3" stroke="#333" stroke-width="0.6"/>
<text x="555" y="243.7" font-size="4" text-anchor="end" fill="#333" stroke="#333" stroke-width="0.05">200</text>
<line x1="556.8" y1="225.7" x2="559.6" y2="225.7" stroke="#333" stroke-width="0.6"/>
<text x="555" y="227.1" font-size="4" text-anchor="end" fill="#333" stroke="#333" stroke-width="0.05">300</text>
<line x1="556.8" y1="208.9" x2="559.6" y2="208.9" stroke="#333" stroke-width="0.6"/>
<text x="555" y="210.3" font-size="4" text-anchor="end" fill="#333" stroke="#333" stroke-width="0.05">400</text>
<line x1="556.8" y1="191.9" x2="559.6" y2="191.9" stroke="#333" stroke-width="0.6"/>
<text x="555" y="193.3" font-size="4" text-anchor="end" fill="#333" stroke="#333" stroke-width="0.05">500</text>
<line x1="558.1" y1="275.5" x2="559.6" y2="275.5" stroke="#333" stroke-width="0.5"/>
<line x1="558.1" y1="271.48" x2="559.6" y2="271.48" stroke="#333" stroke-width="0.5"/>
<line x1="558.1" y1="267.45" x2="559.6" y2="267.45" stroke="#333" stroke-width="0.5"/>
<line x1="558.1" y1="263.43" x2="559.6" y2="263.43" stroke="#333" stroke-width="0.5"/>
<line x1="558.1" y1="259.4" x2="559.6" y2="259.4" stroke="#333" stroke-width="0.5"/>
<line x1="558.1" y1="255.38" x2="559.6" y2="255.38" stroke="#333" stroke-width="0.5"/>
<line x1="558.1" y1="251.35" x2="559.6" y2="251.35" stroke="#333" stroke-width="0.5"/>
<line x1="558.1" y1="247.33" x2="559.6" y2="247.33" stroke="#333" stroke-width="0.5"/>
<line x1="558.1" y1="243.3" x2="559.6" y2="243.3" stroke="#333" stroke-width="0.5"/>
<line x1="558.1" y1="239.28" x2="559.6" y2="239.28" stroke="#333" stroke-width="0.5"/>
<line x1="558.1" y1="235.25" x2="559.6" y2="235.25" stroke="#333" stroke-width="0.5"/>
<line x1="558.1" y1="231.23" x2="559.6" y2="231.23" stroke="#333" stroke-width="0.5"/>
<line x1="558.1" y1="227.2" x2="559.6" y2="227.2" stroke="#333" stroke-width="0.5"/>
<line x1="558.1" y1="223.18" x2="559.6" y2="223.18" stroke="#333" stroke-width="0.5"/>
<line x1="558.1" y1="219.15" x2="559.6" y2="219.15" stroke="#333" stroke-width="0.5"/>
<line x1="558.1" y1="215.13" x2="559.6" y2="215.13" stroke="#333" stroke-width="0.5"/>
<line x1="558.1" y1="211.1" x2="559.6" y2="211.1" stroke="#333" stroke-width="0.5"/>
<line x1="558.1" y1="207.08" x2="559.6" y2="207.08" stroke="#333" stroke-width="0.5"/>
<line x1="558.1" y1="203.05" x2="559.6" y2="203.05" stroke="#333" stroke-width="0.5"/>
<line x1="558.1" y1="199.03" x2="559.6" y2="199.03" stroke="#333" stroke-width="0.5"/>
<line x1="558.1" y1="195" x2="559.6" y2="195" stroke="#333" stroke-width="0.5"/>
<line x1="558.1" y1="190.97" x2="559.6" y2="190.97" stroke="#333" stroke-width="0.5"/>
<line x1="558.1" y1="186.95" x2="559.6" y2="186.95" stroke="#333" stroke-width="0.5"/>
<line x1="558.1" y1="182.92" x2="559.6" y2="182.92" stroke="#333" stroke-width="0.5"/>
<line x1="558.1" y1="178.9" x2="559.6" y2="178.9" stroke="#333" stroke-width="0.5"/>
<text x="537.1" y="225.85" font-size="4.2" text-anchor="middle" fill="#333" transform="rotate(-90 537.1 225.85)" stroke="#333" stroke-width="0.05">Count</text>
<text x="612.4" y="296" font-size="4.2" text-anchor="middle" fill="#333" stroke="#333" stroke-width="0.05">FL2-A</text>
<polygon points="576.6,276.2 576.8,276.16 577,276.01 577.2,275.77 577.4,275.44 577.6,275.03 577.8,274.55 578,274.01 578.2,273.43 578.4,272.79 578.6,272.13 578.8,271.44 579,270.74 579.2,270.03 579.4,269.33 579.6,268.64 579.8,267.97 580,267.33 580.2,266.73 580.4,266.18 580.6,265.68 580.8,265.26 581,264.91 581.2,264.64 581.4,264.47 581.6,264.41 581.8,264.46 582,264.55 582.2,264.69 582.4,264.88 582.6,265.1 582.8,265.35 583,265.64 583.2,265.96 583.4,266.3 583.6,266.67 583.8,267.06 584,267.46 584.2,267.88 584.4,268.31 584.6,268.75 584.8,269.2 585,269.65 585.2,270.1 585.4,270.55 585.6,270.99 585.8,271.42 586,271.84 586.2,272.24 586.4,272.63 586.6,273 586.8,273.34 587,273.66 587.2,273.95 587.4,274.2 587.6,274.42 587.8,274.61 588,274.75 588.2,274.84 588.4,274.89 588.6,274.9 588.8,274.9 589,274.9 589.2,274.9 589.4,274.9 589.6,274.9 589.8,274.9 590,274.9 590.2,274.9 590.4,274.9 590.6,274.9 590.8,274.9 591,274.9 591.2,274.9 591.4,274.9 591.6,274.9 591.8,274.9 592,274.9 592.2,274.9 592.4,274.9 592.6,274.9 592.8,274.9 593,274.9 593.2,274.9 593.4,274.9 593.6,274.9 593.8,274.9 594,274.9 594.2,274.9 594.4,274.9 594.6,274.91 594.8,274.91 595,274.93 595.2,274.95 595.4,274.97 595.6,274.99 595.8,275.02 596,275.05 596.2,275.09 596.4,275.12 596.6,275.16 596.8,275.2 597,275.24 597.2,275.29 597.4,275.33 597.6,275.38 597.8,275.43 598,275.48 598.2,275.53 598.4,275.57 598.6,275.62 598.8,275.67 599,275.72 599.2,275.77 599.4,275.81 599.6,275.86 599.8,275.9 600,275.94 600.2,275.98 600.4,276.01 600.6,276.05 600.8,276.08 601,276.11 601.2,276.13 601.4,276.15 601.6,276.17 601.8,276.19 601.8,276.2 601.6,276.2 601.4,276.2 601.2,276.2 601,276.2 600.8,276.2 600.6,276.2 600.4,276.2 600.2,276.2 600,276.2 599.8,276.2 599.6,276.2 599.4,276.2 599.2,276.2 599,276.2 598.8,276.2 598.6,276.2 598.4,276.2 598.2,276.2 598,276.2 597.8,276.2 597.6,276.2 597.4,276.2 597.2,276.2 597,276.2 596.8,276.2 596.6,276.2 596.4,276.2 596.2,276.2 596,276.2 595.8,276.2 595.6,276.2 595.4,276.2 595.2,276.2 595,276.2 594.8,276.2 594.6,276.2 594.4,276.2 594.2,276.2 594,276.2 593.8,276.2 593.6,276.2 593.4,276.2 593.2,276.2 593,276.2 592.8,276.2 592.6,276.2 592.4,276.2 592.2,276.2 592,276.2 591.8,276.2 591.6,276.2 591.4,276.2 591.2,276.2 591,276.2 590.8,276.2 590.6,276.2 590.4,276.2 590.2,276.2 590,276.2 589.8,276.2 589.6,276.2 589.4,276.2 589.2,276.2 589,276.2 588.8,276.2 588.6,276.2 588.4,276.2 588.2,276.2 588,276.2 587.8,276.2 587.6,276.2 587.4,276.2 587.2,276.2 587,276.2 586.8,276.2 586.6,276.2 586.4,276.2 586.2,276.2 586,276.2 585.8,276.2 585.6,276.2 585.4,276.2 585.2,276.2 585,276.2 584.8,276.2 584.6,276.2 584.4,276.2 584.2,276.2 584,276.2 583.8,276.2 583.6,276.2 583.4,276.2 583.2,276.2 583,276.2 582.8,276.2 582.6,276.2 582.4,276.2 582.2,276.2 582,276.2 581.8,276.2 581.6,276.2 581.4,276.2 581.2,276.2 581,276.2 580.8,276.2 580.6,276.2 580.4,276.2 580.2,276.2 580,276.2 579.8,276.2 579.6,276.2 579.4,276.2 579.2,276.2 579,276.2 578.8,276.2 578.6,276.2 578.4,276.2 578.2,276.2 578,276.2 577.8,276.2 577.6,276.2 577.4,276.2 577.2,276.2 577,276.2 576.8,276.2 576.6,276.2" fill="#e3e89a" fill-opacity="1"/>
<polygon points="573.2,276.19 573.4,276.18 573.6,276.16 573.8,276.13 574,276.07 574.2,275.96 574.4,275.8 574.6,275.52 574.8,275.1 575,274.46 575.2,273.51 575.4,272.15 575.6,270.25 575.8,267.68 576,264.32 576.2,260.05 576.4,254.8 576.6,248.55 576.8,241.39 577,233.48 577.2,225.1 577.4,216.61 577.6,208.47 577.8,201.17 578,195.18 578.2,190.93 578.4,188.71 578.6,188.71 578.8,190.93 579,195.18 579.2,201.17 579.4,208.47 579.6,216.61 579.8,225.1 580,233.48 580.2,241.39 580.4,248.55 580.6,254.8 580.8,260.05 581,264.32 581.2,267.68 581.4,270.25 581.6,272.15 581.8,273.51 582,274.46 582.2,275.1 582.4,275.52 582.6,275.8 582.8,275.96 583,276.07 583.2,276.13 583.4,276.16 583.6,276.18 583.8,276.19 583.8,276.2 583.6,276.2 583.4,276.2 583.2,276.2 583,276.2 582.8,276.2 582.6,276.2 582.4,276.2 582.2,276.2 582,276.2 581.8,276.2 581.6,276.2 581.4,276.2 581.2,276.2 581,276.2 580.8,276.2 580.6,276.2 580.4,276.2 580.2,276.2 580,276.2 579.8,276.2 579.6,276.2 579.4,276.2 579.2,276.2 579,276.2 578.8,276.2 578.6,276.2 578.4,276.2 578.2,276.2 578,276.2 577.8,276.2 577.6,276.2 577.4,276.2 577.2,276.2 577,276.2 576.8,276.2 576.6,276.2 576.4,276.2 576.2,276.2 576,276.2 575.8,276.2 575.6,276.2 575.4,276.2 575.2,276.2 575,276.2 574.8,276.2 574.6,276.2 574.4,276.2 574.2,276.2 574,276.2 573.8,276.2 573.6,276.2 573.4,276.2 573.2,276.2" fill="#a3a6e2" fill-opacity="1"/>
<polygon points="576.6,276.2 576.8,276.16 577,276.01 577.2,275.77 577.4,275.44 577.6,275.03 577.8,274.55 578,274.01 578.2,273.43 578.4,272.79 578.6,272.13 578.8,271.44 579,270.74 579.2,270.03 579.4,269.33 579.6,268.64 579.8,267.97 580,267.33 580.2,266.73 580.4,266.18 580.6,265.68 580.8,265.26 581,264.91 581.2,267.68 581.4,270.25 581.6,272.15 581.8,273.51 582,274.46 582.2,275.1 582.4,275.52 582.6,275.8 582.8,275.96 583,276.07 583.2,276.13 583.4,276.16 583.6,276.18 583.8,276.19 583.8,276.2 583.6,276.2 583.4,276.2 583.2,276.2 583,276.2 582.8,276.2 582.6,276.2 582.4,276.2 582.2,276.2 582,276.2 581.8,276.2 581.6,276.2 581.4,276.2 581.2,276.2 581,276.2 580.8,276.2 580.6,276.2 580.4,276.2 580.2,276.2 580,276.2 579.8,276.2 579.6,276.2 579.4,276.2 579.2,276.2 579,276.2 578.8,276.2 578.6,276.2 578.4,276.2 578.2,276.2 578,276.2 577.8,276.2 577.6,276.2 577.4,276.2 577.2,276.2 577,276.2 576.8,276.2 576.6,276.2" fill="#c2c2c2" fill-opacity="1"/>
<polygon points="588.4,274.88 588.6,274.88 588.8,274.87 589,274.86 589.2,274.84 589.4,274.82 589.6,274.8 589.8,274.76 590,274.72 590.2,274.67 590.4,274.6 590.6,274.52 590.8,274.42 591,274.31 591.2,274.17 591.4,274 591.6,273.82 591.8,273.6 592,273.36 592.2,273.1 592.4,272.8 592.6,272.49 592.8,272.15 593,271.8 593.2,271.44 593.4,271.08 593.6,270.72 593.8,270.37 594,270.04 594.2,269.74 594.4,269.48 594.6,269.26 594.8,269.1 595,269 595.2,268.95 595.4,268.97 595.6,269.06 595.8,269.2 596,269.41 596.2,269.66 596.4,269.96 596.6,270.3 596.8,270.67 597,271.06 597.2,271.47 597.4,271.88 597.6,272.28 597.8,272.68 598,273.06 598.2,273.43 598.4,273.77 598.6,274.08 598.8,274.37 599,274.64 599.2,274.87 599.4,275.08 599.6,275.26 599.8,275.42 600,275.56 600.2,275.68 600.4,275.78 600.6,275.87 600.8,275.94 601,276 601.2,276.06 601.4,276.1 601.6,276.13 601.8,276.15 602,276.17 602.2,276.18 602.2,276.2 602,276.19 601.8,276.19 601.6,276.17 601.4,276.15 601.2,276.13 601,276.11 600.8,276.08 600.6,276.05 600.4,276.01 600.2,275.98 600,275.94 599.8,275.9 599.6,275.86 599.4,275.81 599.2,275.77 599,275.72 598.8,275.67 598.6,275.62 598.4,275.57 598.2,275.53 598,275.48 597.8,275.43 597.6,275.38 597.4,275.33 597.2,275.29 597,275.24 596.8,275.2 596.6,275.16 596.4,275.12 596.2,275.09 596,275.05 595.8,275.02 595.6,274.99 595.4,274.97 595.2,274.95 595,274.93 594.8,274.91 594.6,274.91 594.4,274.9 594.2,274.9 594,274.9 593.8,274.9 593.6,274.9 593.4,274.9 593.2,274.9 593,274.9 592.8,274.9 592.6,274.9 592.4,274.9 592.2,274.9 592,274.9 591.8,274.9 591.6,274.9 591.4,274.9 591.2,274.9 591,274.9 590.8,274.9 590.6,274.9 590.4,274.9 590.2,274.9 590,274.9 589.8,274.9 589.6,274.9 589.4,274.9 589.2,274.9 589,274.9 588.8,274.9 588.6,274.9 588.4,274.89" fill="#96da8a" fill-opacity="1"/>
<polygon points="589,276.2 589.2,276.14 589.4,276.12 589.6,276.1 589.8,276.06 590,276.02 590.2,275.97 590.4,275.9 590.6,275.82 590.8,275.72 591,275.61 591.2,275.47 591.4,275.3 591.6,275.12 591.8,274.9 592,274.66 592.2,274.4 592.4,274.1 592.6,273.79 592.8,273.45 593,273.1 593.2,272.74 593.4,272.38 593.6,272.02 593.8,271.67 594,271.34 594.2,271.04 594.4,270.78 594.6,270.56 594.8,270.38 595,270.27 595.2,270.21 595.4,270.21 595.6,270.27 595.8,270.38 596,270.56 596.2,270.78 596.4,271.04 596.6,271.34 596.8,271.67 597,272.02 597.2,272.38 597.4,272.74 597.6,273.1 597.8,273.45 598,273.79 598.2,274.1 598.4,274.4 598.6,274.66 598.8,274.9 599,275.12 599.2,275.3 599.4,275.47 599.6,275.61 599.8,275.72 600,275.82 600.2,275.9 600.4,275.97 600.6,276.02 600.8,276.06 601,276.1 601.2,276.12 601.4,276.14 601.6,276.2 601.6,276.2 601.4,276.2 601.2,276.2 601,276.2 600.8,276.2 600.6,276.2 600.4,276.2 600.2,276.2 600,276.2 599.8,276.2 599.6,276.2 599.4,276.2 599.2,276.2 599,276.2 598.8,276.2 598.6,276.2 598.4,276.2 598.2,276.2 598,276.2 597.8,276.2 597.6,276.2 597.4,276.2 597.2,276.2 597,276.2 596.8,276.2 596.6,276.2 596.4,276.2 596.2,276.2 596,276.2 595.8,276.2 595.6,276.2 595.4,276.2 595.2,276.2 595,276.2 594.8,276.2 594.6,276.2 594.4,276.2 594.2,276.2 594,276.2 593.8,276.2 593.6,276.2 593.4,276.2 593.2,276.2 593,276.2 592.8,276.2 592.6,276.2 592.4,276.2 592.2,276.2 592,276.2 591.8,276.2 591.6,276.2 591.4,276.2 591.2,276.2 591,276.2 590.8,276.2 590.6,276.2 590.4,276.2 590.2,276.2 590,276.2 589.8,276.2 589.6,276.2 589.4,276.2 589.2,276.2 589,276.2" fill="#96da8a" fill-opacity="0.9"/>
<polyline points="574.4,275.8 574.6,275.52 574.8,275.1 575,274.46 575.2,273.51 575.4,272.15 575.6,270.25 575.8,267.68 576,264.32 576.2,260.05 576.4,254.8 576.6,248.55 576.8,241.39 577,233.48 577.2,225.1 577.4,216.61 577.6,208.47 577.8,201.17 578,195.18 578.2,190.93 578.4,188.71 578.6,188.71 578.8,190.93 579,195.18 579.2,201.17 579.4,208.47 579.6,216.61 579.8,225.1 580,233.48 580.2,241.39 580.4,248.55 580.6,254.8 580.8,260.05 581,264.32 581.2,267.68 581.4,270.25 581.6,272.15 581.8,273.51 582,274.46 582.2,275.1 582.4,275.52 582.6,275.8" fill="none" stroke="#444" stroke-width="0.45"/>
<polyline points="560.4,276.2 573,276.19 573.2,276.19 573.4,276.18 573.6,276.16 573.8,276.13 574,276.07 574.2,275.96 574.4,275.8 574.6,275.52 574.8,275.1 575,274.46 575.2,273.51 575.4,272.15 575.6,270.25 575.8,267.68 576,264.32 576.2,260.05 576.4,254.8 576.6,248.55 576.8,241.35 577,233.29 577.2,224.66 577.4,215.85 577.6,207.3 577.8,199.52 578,193 578.2,188.15 578.4,185.31 578.6,184.65 578.8,186.17 579,189.72 579.2,195.01 579.4,201.6 579.6,209.05 579.8,216.86 580,224.61 580.2,231.92 580.4,238.53 580.6,244.28 580.8,249.11 581,253.03 581.2,256.13 581.4,258.52 581.6,260.35 581.8,261.77 582,262.81 582.2,263.6 582.4,264.2 582.6,264.69 582.8,265.12 583,265.51 583.2,265.88 583.4,266.26 583.6,266.65 583.8,267.04 584,267.46 584.2,267.88 584.4,268.31 584.6,268.75 584.8,269.2 585,269.65 585.2,270.1 585.4,270.55 585.6,270.99 585.8,271.42 586,271.84 586.2,272.24 586.4,272.63 586.6,273 586.8,273.34 587,273.66 587.2,273.95 587.4,274.2 587.6,274.42 587.8,274.6 588,274.74 588.2,274.83 588.4,274.88 588.6,274.88 588.8,274.87 589,274.86 589.2,274.84 589.4,274.82 589.6,274.8 589.8,274.76 590,274.72 590.2,274.67 590.4,274.6 590.6,274.52 590.8,274.42 591,274.31 591.2,274.17 591.4,274 591.6,273.82 591.8,273.6 592,273.36 592.2,273.1 592.4,272.8 592.6,272.49 592.8,272.15 593,271.8 593.2,271.44 593.4,271.08 593.6,270.72 593.8,270.37 594,270.04 594.2,269.74 594.4,269.48 594.6,269.26 594.8,269.1 595,269 595.2,268.95 595.4,268.97 595.6,269.06 595.8,269.2 596,269.41 596.2,269.66 596.4,269.96 596.6,270.3 596.8,270.67 597,271.06 597.2,271.47 597.4,271.88 597.6,272.28 597.8,272.68 598,273.06 598.2,273.43 598.4,273.77 598.6,274.08 598.8,274.37 599,274.64 599.2,274.87 599.4,275.08 599.6,275.26 599.8,275.42 600,275.56 600.2,275.68 600.4,275.78 600.6,275.87 600.8,275.94 601,276 601.2,276.06 601.4,276.1 601.6,276.13 601.8,276.15 602,276.17 602.2,276.18 602.4,276.19 602.6,276.19 664.4,276.2" fill="none" stroke="#9c3cae" stroke-width="0.85" stroke-linejoin="round"/>
<polyline points="578,192.6 578.2,187.75 578.4,184.91 578.6,184.25 578.8,185.77 579,189.32" fill="none" stroke="#333" stroke-width="0.55" stroke-linejoin="round"/>
<rect x="559.6" y="175.5" width="105.6" height="100.7" fill="none" stroke="#555" stroke-width="0.6"/>
<text x="632" y="210.9" font-size="5.5" font-family="Liberation Serif" font-weight="bold" fill="#111" stroke="#111" stroke-width="0.12">%G1<tspan font-family="Liberation Sans" font-weight="normal" fill="#3a3a3a" stroke="none"> : 63.7</tspan></text>
<text x="632" y="218.8" font-size="5.5" font-family="Liberation Serif" font-weight="bold" fill="#111" stroke="#111" stroke-width="0.12">%S<tspan font-family="Liberation Sans" font-weight="normal" fill="#3a3a3a" stroke="none"> : 20.8</tspan></text>
<text x="632" y="226.7" font-size="5.5" font-family="Liberation Serif" font-weight="bold" fill="#111" stroke="#111" stroke-width="0.12">%G2<tspan font-family="Liberation Sans" font-weight="normal" fill="#3a3a3a" stroke="none"> : 14.3</tspan></text>
<text x="450.3" y="315" font-size="10.9" text-anchor="middle" fill="#111">SI-AMH</text>
<line x1="399.1" y1="421.1" x2="399.1" y2="423.5" stroke="#333" stroke-width="0.55"/>
<line x1="404.09" y1="421.1" x2="404.09" y2="422.4" stroke="#333" stroke-width="0.55"/>
<line x1="409.07" y1="421.1" x2="409.07" y2="422.4" stroke="#333" stroke-width="0.55"/>
<line x1="414.06" y1="421.1" x2="414.06" y2="422.4" stroke="#333" stroke-width="0.55"/>
<line x1="419.04" y1="421.1" x2="419.04" y2="423.5" stroke="#333" stroke-width="0.55"/>
<line x1="424.03" y1="421.1" x2="424.03" y2="422.4" stroke="#333" stroke-width="0.55"/>
<line x1="429.01" y1="421.1" x2="429.01" y2="422.4" stroke="#333" stroke-width="0.55"/>
<line x1="434" y1="421.1" x2="434" y2="422.4" stroke="#333" stroke-width="0.55"/>
<line x1="438.98" y1="421.1" x2="438.98" y2="423.5" stroke="#333" stroke-width="0.55"/>
<line x1="443.97" y1="421.1" x2="443.97" y2="422.4" stroke="#333" stroke-width="0.55"/>
<line x1="448.95" y1="421.1" x2="448.95" y2="422.4" stroke="#333" stroke-width="0.55"/>
<line x1="453.94" y1="421.1" x2="453.94" y2="422.4" stroke="#333" stroke-width="0.55"/>
<line x1="458.92" y1="421.1" x2="458.92" y2="423.5" stroke="#333" stroke-width="0.55"/>
<line x1="463.91" y1="421.1" x2="463.91" y2="422.4" stroke="#333" stroke-width="0.55"/>
<line x1="468.89" y1="421.1" x2="468.89" y2="422.4" stroke="#333" stroke-width="0.55"/>
<line x1="473.88" y1="421.1" x2="473.88" y2="422.4" stroke="#333" stroke-width="0.55"/>
<line x1="478.87" y1="421.1" x2="478.87" y2="423.5" stroke="#333" stroke-width="0.55"/>
<line x1="483.85" y1="421.1" x2="483.85" y2="422.4" stroke="#333" stroke-width="0.55"/>
<line x1="488.84" y1="421.1" x2="488.84" y2="422.4" stroke="#333" stroke-width="0.55"/>
<line x1="493.82" y1="421.1" x2="493.82" y2="422.4" stroke="#333" stroke-width="0.55"/>
<line x1="498.81" y1="421.1" x2="498.81" y2="423.5" stroke="#333" stroke-width="0.55"/>
<text x="399.1" y="428.1" font-size="4" text-anchor="middle" fill="#333" stroke="#333" stroke-width="0.05">0</text>
<text x="419.04" y="428.1" font-size="4" text-anchor="middle" fill="#333" stroke="#333" stroke-width="0.05">200</text>
<text x="438.98" y="428.1" font-size="4" text-anchor="middle" fill="#333" stroke="#333" stroke-width="0.05">400</text>
<text x="458.92" y="428.1" font-size="4" text-anchor="middle" fill="#333" stroke="#333" stroke-width="0.05">600</text>
<text x="478.87" y="428.1" font-size="4" text-anchor="middle" fill="#333" stroke="#333" stroke-width="0.05">800</text>
<text x="497.81" y="428.1" font-size="4" text-anchor="middle" fill="#333" stroke="#333" stroke-width="0.05">1.0K</text>
<line x1="395.3" y1="420.4" x2="398.1" y2="420.4" stroke="#333" stroke-width="0.6"/>
<text x="393.5" y="421.8" font-size="4" text-anchor="end" fill="#333" stroke="#333" stroke-width="0.05">0</text>
<line x1="395.3" y1="403.6" x2="398.1" y2="403.6" stroke="#333" stroke-width="0.6"/>
<text x="393.5" y="405" font-size="4" text-anchor="end" fill="#333" stroke="#333" stroke-width="0.05">100</text>
<line x1="395.3" y1="386.6" x2="398.1" y2="386.6" stroke="#333" stroke-width="0.6"/>
<text x="393.5" y="388" font-size="4" text-anchor="end" fill="#333" stroke="#333" stroke-width="0.05">200</text>
<line x1="395.3" y1="369.7" x2="398.1" y2="369.7" stroke="#333" stroke-width="0.6"/>
<text x="393.5" y="371.1" font-size="4" text-anchor="end" fill="#333" stroke="#333" stroke-width="0.05">300</text>
<line x1="395.3" y1="352.5" x2="398.1" y2="352.5" stroke="#333" stroke-width="0.6"/>
<text x="393.5" y="353.9" font-size="4" text-anchor="end" fill="#333" stroke="#333" stroke-width="0.05">400</text>
<line x1="395.3" y1="335.4" x2="398.1" y2="335.4" stroke="#333" stroke-width="0.6"/>
<text x="393.5" y="336.8" font-size="4" text-anchor="end" fill="#333" stroke="#333" stroke-width="0.05">500</text>
<line x1="396.6" y1="420.4" x2="398.1" y2="420.4" stroke="#333" stroke-width="0.5"/>
<line x1="396.6" y1="416.2" x2="398.1" y2="416.2" stroke="#333" stroke-width="0.5"/>
<line x1="396.6" y1="412" x2="398.1" y2="412" stroke="#333" stroke-width="0.5"/>
<line x1="396.6" y1="407.8" x2="398.1" y2="407.8" stroke="#333" stroke-width="0.5"/>
<line x1="396.6" y1="403.6" x2="398.1" y2="403.6" stroke="#333" stroke-width="0.5"/>
<line x1="396.6" y1="399.4" x2="398.1" y2="399.4" stroke="#333" stroke-width="0.5"/>
<line x1="396.6" y1="395.2" x2="398.1" y2="395.2" stroke="#333" stroke-width="0.5"/>
<line x1="396.6" y1="391" x2="398.1" y2="391" stroke="#333" stroke-width="0.5"/>
<line x1="396.6" y1="386.8" x2="398.1" y2="386.8" stroke="#333" stroke-width="0.5"/>
<line x1="396.6" y1="382.6" x2="398.1" y2="382.6" stroke="#333" stroke-width="0.5"/>
<line x1="396.6" y1="378.4" x2="398.1" y2="378.4" stroke="#333" stroke-width="0.5"/>
<line x1="396.6" y1="374.2" x2="398.1" y2="374.2" stroke="#333" stroke-width="0.5"/>
<line x1="396.6" y1="370" x2="398.1" y2="370" stroke="#333" stroke-width="0.5"/>
<line x1="396.6" y1="365.8" x2="398.1" y2="365.8" stroke="#333" stroke-width="0.5"/>
<line x1="396.6" y1="361.6" x2="398.1" y2="361.6" stroke="#333" stroke-width="0.5"/>
<line x1="396.6" y1="357.4" x2="398.1" y2="357.4" stroke="#333" stroke-width="0.5"/>
<line x1="396.6" y1="353.2" x2="398.1" y2="353.2" stroke="#333" stroke-width="0.5"/>
<line x1="396.6" y1="349" x2="398.1" y2="349" stroke="#333" stroke-width="0.5"/>
<line x1="396.6" y1="344.8" x2="398.1" y2="344.8" stroke="#333" stroke-width="0.5"/>
<line x1="396.6" y1="340.6" x2="398.1" y2="340.6" stroke="#333" stroke-width="0.5"/>
<line x1="396.6" y1="336.4" x2="398.1" y2="336.4" stroke="#333" stroke-width="0.5"/>
<line x1="396.6" y1="332.2" x2="398.1" y2="332.2" stroke="#333" stroke-width="0.5"/>
<line x1="396.6" y1="328" x2="398.1" y2="328" stroke="#333" stroke-width="0.5"/>
<line x1="396.6" y1="323.8" x2="398.1" y2="323.8" stroke="#333" stroke-width="0.5"/>
<text x="376.3" y="370.65" font-size="4.2" text-anchor="middle" fill="#333" transform="rotate(-90 376.3 370.65)" stroke="#333" stroke-width="0.05">Count</text>
<text x="450.9" y="441.2" font-size="4.2" text-anchor="middle" fill="#333" stroke="#333" stroke-width="0.05">FL2-A</text>
<polygon points="417.1,420.99 417.3,420.96 417.5,420.93 417.7,420.89 417.9,420.84 418.1,420.78 418.3,420.71 418.5,420.63 418.7,420.55 418.9,420.45 419.1,420.36 419.3,420.25 419.5,420.15 419.7,420.03 419.9,419.92 420.1,419.8 420.3,419.67 420.5,419.55 420.7,419.42 420.9,419.29 421.1,419.16 421.3,419.04 421.5,418.91 421.7,418.78 421.9,418.65 422.1,418.53 422.3,418.4 422.5,418.28 422.7,418.17 422.9,418.05 423.1,417.95 423.3,417.84 423.5,417.75 423.7,417.65 423.9,417.57 424.1,417.49 424.3,417.42 424.5,417.36 424.7,417.31 424.9,417.27 425.1,417.24 425.3,417.21 425.5,417.2 425.7,417.2 425.9,417.2 426.1,417.2 426.3,417.2 426.5,417.2 426.7,417.2 426.9,417.2 427.1,417.2 427.3,417.22 427.5,417.26 427.7,417.31 427.9,417.38 428.1,417.47 428.3,417.56 428.5,417.67 428.7,417.79 428.9,417.91 429.1,418.05 429.3,418.18 429.5,418.33 429.7,418.48 429.9,418.63 430.1,418.77 430.3,418.92 430.5,419.07 430.7,419.22 430.9,419.35 431.1,419.49 431.3,419.61 431.5,419.73 431.7,419.84 431.9,419.93 432.1,420.02 432.3,420.09 432.5,420.14 432.7,420.18 432.9,420.2 433.1,420.2 433.3,420.2 433.5,420.2 433.7,420.2 433.9,420.2 434.1,420.2 434.3,420.2 434.5,420.2 434.7,420.2 434.9,420.2 435.1,420.2 435.3,420.2 435.5,420.2 435.7,420.2 435.9,420.2 436.1,420.2 436.3,420.2 436.5,420.2 436.7,420.2 436.9,420.2 437.1,420.2 437.3,420.2 437.5,420.2 437.7,420.2 437.9,420.2 438.1,420.2 438.3,420.21 438.5,420.22 438.7,420.23 438.9,420.25 439.1,420.26 439.3,420.28 439.5,420.3 439.7,420.32 439.9,420.35 440.1,420.38 440.3,420.4 440.5,420.43 440.7,420.46 440.9,420.49 441.1,420.52 441.3,420.55 441.5,420.58 441.7,420.62 441.9,420.65 442.1,420.68 442.3,420.71 442.5,420.74 442.7,420.77 442.9,420.8 443.1,420.82 443.3,420.85 443.5,420.88 443.7,420.9 443.9,420.92 444.1,420.94 444.3,420.95 444.5,420.97 444.7,420.98 444.7,421 444.5,421 444.3,421 444.1,421 443.9,421 443.7,421 443.5,421 443.3,421 443.1,421 442.9,421 442.7,421 442.5,421 442.3,421 442.1,421 441.9,421 441.7,421 441.5,421 441.3,421 441.1,421 440.9,421 440.7,421 440.5,421 440.3,421 440.1,421 439.9,421 439.7,421 439.5,421 439.3,421 439.1,421 438.9,421 438.7,421 438.5,421 438.3,421 438.1,421 437.9,421 437.7,421 437.5,421 437.3,421 437.1,421 436.9,421 436.7,421 436.5,421 436.3,421 436.1,421 435.9,421 435.7,421 435.5,421 435.3,421 435.1,421 434.9,421 434.7,421 434.5,421 434.3,421 434.1,421 433.9,421 433.7,421 433.5,421 433.3,421 433.1,421 432.9,421 432.7,421 432.5,421 432.3,421 432.1,421 431.9,421 431.7,421 431.5,421 431.3,421 431.1,421 430.9,421 430.7,421 430.5,421 430.3,421 430.1,421 429.9,421 429.7,421 429.5,421 429.3,421 429.1,421 428.9,421 428.7,421 428.5,421 428.3,421 428.1,421 427.9,421 427.7,421 427.5,421 427.3,421 427.1,421 426.9,421 426.7,421 426.5,421 426.3,421 426.1,421 425.9,421 425.7,421 425.5,421 425.3,421 425.1,421 424.9,421 424.7,421 424.5,421 424.3,421 424.1,421 423.9,421 423.7,421 423.5,421 423.3,421 423.1,421 422.9,421 422.7,421 422.5,421 422.3,421 422.1,421 421.9,421 421.7,421 421.5,421 421.3,421 421.1,421 420.9,421 420.7,421 420.5,421 420.3,421 420.1,421 419.9,421 419.7,421 419.5,421 419.3,421 419.1,421 418.9,421 418.7,421 418.5,421 418.3,421 418.1,421 417.9,421 417.7,421 417.5,421 417.3,421 417.1,421" fill="#e3e89a" fill-opacity="1"/>
<polygon points="410.9,420.99 411.1,420.98 411.3,420.97 411.5,420.96 411.7,420.94 411.9,420.91 412.1,420.87 412.3,420.83 412.5,420.76 412.7,420.67 412.9,420.56 413.1,420.41 413.3,420.21 413.5,419.96 413.7,419.64 413.9,419.24 414.1,418.74 414.3,418.11 414.5,417.34 414.7,416.41 414.9,415.29 415.1,413.95 415.3,412.37 415.5,410.52 415.7,408.37 415.9,405.92 416.1,403.13 416.3,400.01 416.5,396.54 416.7,392.74 416.9,388.61 417.1,384.18 417.3,379.49 417.5,374.59 417.7,369.54 417.9,364.41 418.1,359.28 418.3,354.24 418.5,349.38 418.7,344.8 418.9,340.6 419.1,336.86 419.3,333.67 419.5,331.11 419.7,329.23 419.9,328.09 420.1,327.7 420.3,328.09 420.5,329.23 420.7,331.11 420.9,333.67 421.1,336.86 421.3,340.6 421.5,344.8 421.7,349.38 421.9,354.24 422.1,359.28 422.3,364.41 422.5,369.54 422.7,374.59 422.9,379.49 423.1,384.18 423.3,388.61 423.5,392.74 423.7,396.54 423.9,400.01 424.1,403.13 424.3,405.92 424.5,408.37 424.7,410.52 424.9,412.37 425.1,413.95 425.3,415.29 425.5,416.41 425.7,417.34 425.9,418.11 426.1,418.74 426.3,419.24 426.5,419.64 426.7,419.96 426.9,420.21 427.1,420.41 427.3,420.56 427.5,420.67 427.7,420.76 427.9,420.83 428.1,420.87 428.3,420.91 428.5,420.94 428.7,420.96 428.9,420.97 429.1,420.98 429.3,420.99 429.3,421 429.1,421 428.9,421 428.7,421 428.5,421 428.3,421 428.1,421 427.9,421 427.7,421 427.5,421 427.3,421 427.1,421 426.9,421 426.7,421 426.5,421 426.3,421 426.1,421 425.9,421 425.7,421 425.5,421 425.3,421 425.1,421 424.9,421 424.7,421 424.5,421 424.3,421 424.1,421 423.9,421 423.7,421 423.5,421 423.3,421 423.1,421 422.9,421 422.7,421 422.5,421 422.3,421 422.1,421 421.9,421 421.7,421 421.5,421 421.3,421 421.1,421 420.9,421 420.7,421 420.5,421 420.3,421 420.1,421 419.9,421 419.7,421 419.5,421 419.3,421 419.1,421 418.9,421 418.7,421 418.5,421 418.3,421 418.1,421 417.9,421 417.7,421 417.5,421 417.3,421 417.1,421 416.9,421 416.7,421 416.5,421 416.3,421 416.1,421 415.9,421 415.7,421 415.5,421 415.3,421 415.1,421 414.9,421 414.7,421 414.5,421 414.3,421 414.1,421 413.9,421 413.7,421 413.5,421 413.3,421 413.1,421 412.9,421 412.7,421 412.5,421 412.3,421 412.1,421 411.9,421 411.7,421 411.5,421 411.3,421 411.1,421 410.9,421" fill="#a3a6e2" fill-opacity="1"/>
<polygon points="417.1,420.99 417.3,420.96 417.5,420.93 417.7,420.89 417.9,420.84 418.1,420.78 418.3,420.71 418.5,420.63 418.7,420.55 418.9,420.45 419.1,420.36 419.3,420.25 419.5,420.15 419.7,420.03 419.9,419.92 420.1,419.8 420.3,419.67 420.5,419.55 420.7,419.42 420.9,419.29 421.1,419.16 421.3,419.04 421.5,418.91 421.7,418.78 421.9,418.65 422.1,418.53 422.3,418.4 422.5,418.28 422.7,418.17 422.9,418.05 423.1,417.95 423.3,417.84 423.5,417.75 423.7,417.65 423.9,417.57 424.1,417.49 424.3,417.42 424.5,417.36 424.7,417.31 424.9,417.27 425.1,417.24 425.3,417.21 425.5,417.2 425.7,417.34 425.9,418.11 426.1,418.74 426.3,419.24 426.5,419.64 426.7,419.96 426.9,420.21 427.1,420.41 427.3,420.56 427.5,420.67 427.7,420.76 427.9,420.83 428.1,420.87 428.3,420.91 428.5,420.94 428.7,420.96 428.9,420.97 429.1,420.98 429.3,420.99 429.3,421 429.1,421 428.9,421 428.7,421 428.5,421 428.3,421 428.1,421 427.9,421 427.7,421 427.5,421 427.3,421 427.1,421 426.9,421 426.7,421 426.5,421 426.3,421 426.1,421 425.9,421 425.7,421 425.5,421 425.3,421 425.1,421 424.9,421 424.7,421 424.5,421 424.3,421 424.1,421 423.9,421 423.7,421 423.5,421 423.3,421 423.1,421 422.9,421 422.7,421 422.5,421 422.3,421 422.1,421 421.9,421 421.7,421 421.5,421 421.3,421 421.1,421 420.9,421 420.7,421 420.5,421 420.3,421 420.1,421 419.9,421 419.7,421 419.5,421 419.3,421 419.1,421 418.9,421 418.7,421 418.5,421 418.3,421 418.1,421 417.9,421 417.7,421 417.5,421 417.3,421 417.1,421" fill="#c2c2c2" fill-opacity="1"/>
<polygon points="432.1,420 432.3,420.07 432.5,420.11 432.7,420.13 432.9,420.14 433.1,420.12 433.3,420.08 433.5,420.04 433.7,419.99 433.9,419.93 434.1,419.84 434.3,419.74 434.5,419.61 434.7,419.46 434.9,419.28 435.1,419.06 435.3,418.81 435.5,418.52 435.7,418.19 435.9,417.83 436.1,417.43 436.3,417 436.5,416.55 436.7,416.07 436.9,415.59 437.1,415.11 437.3,414.63 437.5,414.19 437.7,413.77 437.9,413.41 438.1,413.1 438.3,412.87 438.5,412.71 438.7,412.64 438.9,412.66 439.1,412.76 439.3,412.94 439.5,413.2 439.7,413.53 439.9,413.92 440.1,414.36 440.3,414.84 440.5,415.34 440.7,415.85 440.9,416.36 441.1,416.87 441.3,417.35 441.5,417.82 441.7,418.24 441.9,418.64 442.1,419 442.3,419.32 442.5,419.6 442.7,419.84 442.9,420.06 443.1,420.24 443.3,420.39 443.5,420.52 443.7,420.62 443.9,420.71 444.1,420.78 444.3,420.84 444.5,420.88 444.7,420.92 444.9,420.95 445.1,420.97 445.3,420.98 445.5,420.98 445.5,421 445.3,421 445.1,421 444.9,420.99 444.7,420.98 444.5,420.97 444.3,420.95 444.1,420.94 443.9,420.92 443.7,420.9 443.5,420.88 443.3,420.85 443.1,420.82 442.9,420.8 442.7,420.77 442.5,420.74 442.3,420.71 442.1,420.68 441.9,420.65 441.7,420.62 441.5,420.58 441.3,420.55 441.1,420.52 440.9,420.49 440.7,420.46 440.5,420.43 440.3,420.4 440.1,420.38 439.9,420.35 439.7,420.32 439.5,420.3 439.3,420.28 439.1,420.26 438.9,420.25 438.7,420.23 438.5,420.22 438.3,420.21 438.1,420.2 437.9,420.2 437.7,420.2 437.5,420.2 437.3,420.2 437.1,420.2 436.9,420.2 436.7,420.2 436.5,420.2 436.3,420.2 436.1,420.2 435.9,420.2 435.7,420.2 435.5,420.2 435.3,420.2 435.1,420.2 434.9,420.2 434.7,420.2 434.5,420.2 434.3,420.2 434.1,420.2 433.9,420.2 433.7,420.2 433.5,420.2 433.3,420.2 433.1,420.2 432.9,420.2 432.7,420.18 432.5,420.14 432.3,420.09 432.1,420.02" fill="#96da8a" fill-opacity="1"/>
<polygon points="432.7,421 432.9,420.94 433.1,420.92 433.3,420.88 433.5,420.84 433.7,420.79 433.9,420.73 434.1,420.64 434.3,420.54 434.5,420.41 434.7,420.26 434.9,420.08 435.1,419.86 435.3,419.61 435.5,419.32 435.7,418.99 435.9,418.63 436.1,418.23 436.3,417.8 436.5,417.35 436.7,416.87 436.9,416.39 437.1,415.91 437.3,415.43 437.5,414.99 437.7,414.57 437.9,414.21 438.1,413.9 438.3,413.66 438.5,413.49 438.7,413.41 438.9,413.41 439.1,413.49 439.3,413.66 439.5,413.9 439.7,414.21 439.9,414.57 440.1,414.99 440.3,415.43 440.5,415.91 440.7,416.39 440.9,416.87 441.1,417.35 441.3,417.8 441.5,418.23 441.7,418.63 441.9,418.99 442.1,419.32 442.3,419.61 442.5,419.86 442.7,420.08 442.9,420.26 443.1,420.41 443.3,420.54 443.5,420.64 443.7,420.73 443.9,420.79 444.1,420.84 444.3,420.88 444.5,420.92 444.7,420.94 444.9,421 444.9,421 444.7,421 444.5,421 444.3,421 444.1,421 443.9,421 443.7,421 443.5,421 443.3,421 443.1,421 442.9,421 442.7,421 442.5,421 442.3,421 442.1,421 441.9,421 441.7,421 441.5,421 441.3,421 441.1,421 440.9,421 440.7,421 440.5,421 440.3,421 440.1,421 439.9,421 439.7,421 439.5,421 439.3,421 439.1,421 438.9,421 438.7,421 438.5,421 438.3,421 438.1,421 437.9,421 437.7,421 437.5,421 437.3,421 437.1,421 436.9,421 436.7,421 436.5,421 436.3,421 436.1,421 435.9,421 435.7,421 435.5,421 435.3,421 435.1,421 434.9,421 434.7,421 434.5,421 434.3,421 434.1,421 433.9,421 433.7,421 433.5,421 433.3,421 433.1,421 432.9,421 432.7,421" fill="#96da8a" fill-opacity="0.9"/>
<polyline points="412.7,420.67 412.9,420.56 413.1,420.41 413.3,420.21 413.5,419.96 413.7,419.64 413.9,419.24 414.1,418.74 414.3,418.11 414.5,417.34 414.7,416.41 414.9,415.29 415.1,413.95 415.3,412.37 415.5,410.52 415.7,408.37 415.9,405.92 416.1,403.13 416.3,400.01 416.5,396.54 416.7,392.74 416.9,388.61 417.1,384.18 417.3,379.49 417.5,374.59 417.7,369.54 417.9,364.41 418.1,359.28 418.3,354.24 418.5,349.38 418.7,344.8 418.9,340.6 419.1,336.86 419.3,333.67 419.5,331.11 419.7,329.23 419.9,328.09 420.1,327.7 420.3,328.09 420.5,329.23 420.7,331.11 420.9,333.67 421.1,336.86 421.3,340.6 421.5,344.8 421.7,349.38 421.9,354.24 422.1,359.28 422.3,364.41 422.5,369.54 422.7,374.59 422.9,379.49 423.1,384.18 423.3,388.61 423.5,392.74 423.7,396.54 423.9,400.01 424.1,403.13 424.3,405.92 424.5,408.37 424.7,410.52 424.9,412.37 425.1,413.95 425.3,415.29 425.5,416.41 425.7,417.34 425.9,418.11 426.1,418.74 426.3,419.24 426.5,419.64 426.7,419.96 426.9,420.21 427.1,420.41 427.3,420.56 427.5,420.67" fill="none" stroke="#444" stroke-width="0.45"/>
<polyline points="398.9,421 410.5,420.99 410.7,420.99 410.9,420.99 411.1,420.98 411.3,420.97 411.5,420.96 411.7,420.94 411.9,420.91 412.1,420.87 412.3,420.83 412.5,420.76 412.7,420.67 412.9,420.56 413.1,420.41 413.3,420.21 413.5,419.96 413.7,419.64 413.9,419.24 414.1,418.74 414.3,418.11 414.5,417.34 414.7,416.41 414.9,415.29 415.1,413.95 415.3,412.37 415.5,410.52 415.7,408.37 415.9,405.92 416.1,403.13 416.3,400.01 416.5,396.54 416.7,392.74 416.9,388.61 417.1,384.17 417.3,379.46 417.5,374.52 417.7,369.43 417.9,364.25 418.1,359.06 418.3,353.95 418.5,349.01 418.7,344.35 418.9,340.05 419.1,336.22 419.3,332.93 419.5,330.25 419.7,328.27 419.9,327 420.1,326.5 420.3,326.76 420.5,327.78 420.7,329.53 420.9,331.97 421.1,335.02 421.3,338.63 421.5,342.71 421.7,347.16 421.9,351.89 422.1,356.81 422.3,361.81 422.5,366.83 422.7,371.76 422.9,376.55 423.1,381.13 423.3,385.45 423.5,389.48 423.7,393.2 423.9,396.58 424.1,399.63 424.3,402.34 424.5,404.74 424.7,406.83 424.9,408.63 425.1,410.18 425.3,411.5 425.5,412.61 425.7,413.54 425.9,414.31 426.1,414.94 426.3,415.44 426.5,415.84 426.7,416.16 426.9,416.41 427.1,416.61 427.3,416.78 427.5,416.93 427.7,417.07 427.9,417.21 428.1,417.34 428.3,417.47 428.5,417.61 428.7,417.74 428.9,417.88 429.1,418.02 429.3,418.17 429.5,418.32 429.7,418.47 429.9,418.62 430.1,418.77 430.3,418.92 430.5,419.07 430.7,419.21 430.9,419.35 431.1,419.49 431.3,419.61 431.5,419.73 431.7,419.83 431.9,419.92 432.1,420 432.3,420.07 432.5,420.11 432.7,420.13 432.9,420.14 433.1,420.12 433.3,420.08 433.5,420.04 433.7,419.99 433.9,419.93 434.1,419.84 434.3,419.74 434.5,419.61 434.7,419.46 434.9,419.28 435.1,419.06 435.3,418.81 435.5,418.52 435.7,418.19 435.9,417.83 436.1,417.43 436.3,417 436.5,416.55 436.7,416.07 436.9,415.59 437.1,415.11 437.3,414.63 437.5,414.19 437.7,413.77 437.9,413.41 438.1,413.1 438.3,412.87 438.5,412.71 438.7,412.64 438.9,412.66 439.1,412.76 439.3,412.94 439.5,413.2 439.7,413.53 439.9,413.92 440.1,414.36 440.3,414.84 440.5,415.34 440.7,415.85 440.9,416.36 441.1,416.87 441.3,417.35 441.5,417.82 441.7,418.24 441.9,418.64 442.1,419 442.3,419.32 442.5,419.6 442.7,419.84 442.9,420.06 443.1,420.24 443.3,420.39 443.5,420.52 443.7,420.62 443.9,420.71 444.1,420.78 444.3,420.84 444.5,420.88 444.7,420.92 444.9,420.95 445.1,420.97 445.3,420.98 445.5,420.98 445.7,420.99 445.9,420.99 502.9,421" fill="none" stroke="#9c3cae" stroke-width="0.85" stroke-linejoin="round"/>
<polyline points="419.1,335.82 419.3,332.53 419.5,329.85 419.7,327.87 419.9,326.6 420.1,326.1 420.3,326.36 420.5,327.38 420.7,329.13 420.9,331.57 421.1,334.62" fill="none" stroke="#333" stroke-width="0.55" stroke-linejoin="round"/>
<rect x="398.1" y="320.2" width="105.6" height="100.9" fill="none" stroke="#555" stroke-width="0.6"/>
<text x="470.3" y="356.8" font-size="5.5" font-family="Liberation Serif" font-weight="bold" fill="#111" stroke="#111" stroke-width="0.12">%G1<tspan font-family="Liberation Sans" font-weight="normal" fill="#3a3a3a" stroke="none"> : 84.8</tspan></text>
<text x="470.3" y="364.7" font-size="5.5" font-family="Liberation Serif" font-weight="bold" fill="#111" stroke="#111" stroke-width="0.12">%S<tspan font-family="Liberation Sans" font-weight="normal" fill="#3a3a3a" stroke="none"> : 3.95</tspan></text>
<text x="470.3" y="372.6" font-size="5.5" font-family="Liberation Serif" font-weight="bold" fill="#111" stroke="#111" stroke-width="0.12">%G2<tspan font-family="Liberation Sans" font-weight="normal" fill="#3a3a3a" stroke="none"> : 10.4</tspan></text>
<text x="621.2" y="314.6" font-size="10.9" text-anchor="middle" fill="#111">OE-AMH</text>
<line x1="561" y1="419.5" x2="561" y2="421.9" stroke="#333" stroke-width="0.55"/>
<line x1="565.99" y1="419.5" x2="565.99" y2="420.8" stroke="#333" stroke-width="0.55"/>
<line x1="570.97" y1="419.5" x2="570.97" y2="420.8" stroke="#333" stroke-width="0.55"/>
<line x1="575.96" y1="419.5" x2="575.96" y2="420.8" stroke="#333" stroke-width="0.55"/>
<line x1="580.94" y1="419.5" x2="580.94" y2="421.9" stroke="#333" stroke-width="0.55"/>
<line x1="585.93" y1="419.5" x2="585.93" y2="420.8" stroke="#333" stroke-width="0.55"/>
<line x1="590.91" y1="419.5" x2="590.91" y2="420.8" stroke="#333" stroke-width="0.55"/>
<line x1="595.9" y1="419.5" x2="595.9" y2="420.8" stroke="#333" stroke-width="0.55"/>
<line x1="600.88" y1="419.5" x2="600.88" y2="421.9" stroke="#333" stroke-width="0.55"/>
<line x1="605.87" y1="419.5" x2="605.87" y2="420.8" stroke="#333" stroke-width="0.55"/>
<line x1="610.85" y1="419.5" x2="610.85" y2="420.8" stroke="#333" stroke-width="0.55"/>
<line x1="615.84" y1="419.5" x2="615.84" y2="420.8" stroke="#333" stroke-width="0.55"/>
<line x1="620.82" y1="419.5" x2="620.82" y2="421.9" stroke="#333" stroke-width="0.55"/>
<line x1="625.81" y1="419.5" x2="625.81" y2="420.8" stroke="#333" stroke-width="0.55"/>
<line x1="630.79" y1="419.5" x2="630.79" y2="420.8" stroke="#333" stroke-width="0.55"/>
<line x1="635.78" y1="419.5" x2="635.78" y2="420.8" stroke="#333" stroke-width="0.55"/>
<line x1="640.77" y1="419.5" x2="640.77" y2="421.9" stroke="#333" stroke-width="0.55"/>
<line x1="645.75" y1="419.5" x2="645.75" y2="420.8" stroke="#333" stroke-width="0.55"/>
<line x1="650.74" y1="419.5" x2="650.74" y2="420.8" stroke="#333" stroke-width="0.55"/>
<line x1="655.72" y1="419.5" x2="655.72" y2="420.8" stroke="#333" stroke-width="0.55"/>
<line x1="660.71" y1="419.5" x2="660.71" y2="421.9" stroke="#333" stroke-width="0.55"/>
<text x="561" y="426.9" font-size="4" text-anchor="middle" fill="#333" stroke="#333" stroke-width="0.05">0</text>
<text x="580.94" y="426.9" font-size="4" text-anchor="middle" fill="#333" stroke="#333" stroke-width="0.05">200</text>
<text x="600.88" y="426.9" font-size="4" text-anchor="middle" fill="#333" stroke="#333" stroke-width="0.05">400</text>
<text x="620.82" y="426.9" font-size="4" text-anchor="middle" fill="#333" stroke="#333" stroke-width="0.05">600</text>
<text x="640.77" y="426.9" font-size="4" text-anchor="middle" fill="#333" stroke="#333" stroke-width="0.05">800</text>
<text x="659.71" y="426.9" font-size="4" text-anchor="middle" fill="#333" stroke="#333" stroke-width="0.05">1.0K</text>
<line x1="557.2" y1="418.3" x2="560" y2="418.3" stroke="#333" stroke-width="0.6"/>
<text x="555.4" y="419.7" font-size="4" text-anchor="end" fill="#333" stroke="#333" stroke-width="0.05">0</text>
<line x1="557.2" y1="399.2" x2="560" y2="399.2" stroke="#333" stroke-width="0.6"/>
<text x="555.4" y="400.6" font-size="4" text-anchor="end" fill="#333" stroke="#333" stroke-width="0.05">100</text>
<line x1="557.2" y1="379.1" x2="560" y2="379.1" stroke="#333" stroke-width="0.6"/>
<text x="555.4" y="380.5" font-size="4" text-anchor="end" fill="#333" stroke="#333" stroke-width="0.05">200</text>
<line x1="557.2" y1="359.2" x2="560" y2="359.2" stroke="#333" stroke-width="0.6"/>
<text x="555.4" y="360.6" font-size="4" text-anchor="end" fill="#333" stroke="#333" stroke-width="0.05">300</text>
<line x1="557.2" y1="339.4" x2="560" y2="339.4" stroke="#333" stroke-width="0.6"/>
<text x="555.4" y="340.8" font-size="4" text-anchor="end" fill="#333" stroke="#333" stroke-width="0.05">400</text>
<line x1="557.2" y1="320.2" x2="560" y2="320.2" stroke="#333" stroke-width="0.6"/>
<text x="555.4" y="321.6" font-size="4" text-anchor="end" fill="#333" stroke="#333" stroke-width="0.05">500</text>
<line x1="558.5" y1="418.3" x2="560" y2="418.3" stroke="#333" stroke-width="0.5"/>
<line x1="558.5" y1="413.52" x2="560" y2="413.52" stroke="#333" stroke-width="0.5"/>
<line x1="558.5" y1="408.75" x2="560" y2="408.75" stroke="#333" stroke-width="0.5"/>
<line x1="558.5" y1="403.98" x2="560" y2="403.98" stroke="#333" stroke-width="0.5"/>
<line x1="558.5" y1="399.2" x2="560" y2="399.2" stroke="#333" stroke-width="0.5"/>
<line x1="558.5" y1="394.43" x2="560" y2="394.43" stroke="#333" stroke-width="0.5"/>
<line x1="558.5" y1="389.65" x2="560" y2="389.65" stroke="#333" stroke-width="0.5"/>
<line x1="558.5" y1="384.88" x2="560" y2="384.88" stroke="#333" stroke-width="0.5"/>
<line x1="558.5" y1="380.1" x2="560" y2="380.1" stroke="#333" stroke-width="0.5"/>
<line x1="558.5" y1="375.33" x2="560" y2="375.33" stroke="#333" stroke-width="0.5"/>
<line x1="558.5" y1="370.55" x2="560" y2="370.55" stroke="#333" stroke-width="0.5"/>
<line x1="558.5" y1="365.78" x2="560" y2="365.78" stroke="#333" stroke-width="0.5"/>
<line x1="558.5" y1="361" x2="560" y2="361" stroke="#333" stroke-width="0.5"/>
<line x1="558.5" y1="356.23" x2="560" y2="356.23" stroke="#333" stroke-width="0.5"/>
<line x1="558.5" y1="351.45" x2="560" y2="351.45" stroke="#333" stroke-width="0.5"/>
<line x1="558.5" y1="346.68" x2="560" y2="346.68" stroke="#333" stroke-width="0.5"/>
<line x1="558.5" y1="341.9" x2="560" y2="341.9" stroke="#333" stroke-width="0.5"/>
<line x1="558.5" y1="337.13" x2="560" y2="337.13" stroke="#333" stroke-width="0.5"/>
<line x1="558.5" y1="332.35" x2="560" y2="332.35" stroke="#333" stroke-width="0.5"/>
<line x1="558.5" y1="327.58" x2="560" y2="327.58" stroke="#333" stroke-width="0.5"/>
<line x1="558.5" y1="322.8" x2="560" y2="322.8" stroke="#333" stroke-width="0.5"/>
<text x="537.5" y="369.15" font-size="4.2" text-anchor="middle" fill="#333" transform="rotate(-90 537.5 369.15)" stroke="#333" stroke-width="0.05">Count</text>
<text x="612.8" y="439.4" font-size="4.2" text-anchor="middle" fill="#333" stroke="#333" stroke-width="0.05">FL2-A</text>
<polygon points="576.6,419.29 576.8,419.23 577,419.11 577.2,418.95 577.4,418.74 577.6,418.48 577.8,418.19 578,417.86 578.2,417.5 578.4,417.11 578.6,416.7 578.8,416.26 579,415.8 579.2,415.33 579.4,414.84 579.6,414.34 579.8,413.84 580,413.34 580.2,412.83 580.4,412.33 580.6,411.84 580.8,411.35 581,410.88 581.2,410.43 581.4,410 581.6,409.59 581.8,409.2 582,408.85 582.2,408.53 582.4,408.25 582.6,408.01 582.8,407.85 583,407.78 583.2,407.78 583.4,407.88 583.6,408.05 583.8,408.26 584,408.49 584.2,408.74 584.4,409.02 584.6,409.32 584.8,409.63 585,409.96 585.2,410.31 585.4,410.66 585.6,411.03 585.8,411.4 586,411.78 586.2,412.16 586.4,412.53 586.6,412.91 586.8,413.29 587,413.66 587.2,414.02 587.4,414.37 587.6,414.7 587.8,415.03 588,415.33 588.2,415.62 588.4,415.89 588.6,416.13 588.8,416.35 589,416.54 589.2,416.7 589.4,416.83 589.6,416.92 589.8,416.98 590,417 590.2,417 590.4,417 590.6,417 590.8,417 591,417 591.2,417 591.4,417 591.6,417 591.8,417 592,417 592.2,417 592.4,417 592.6,417 592.8,417 593,417 593.2,417 593.4,417 593.6,417 593.8,417 594,417 594.2,417 594.4,417 594.6,417 594.8,417 595,417 595.2,417 595.4,417.01 595.6,417.02 595.8,417.05 596,417.07 596.2,417.11 596.4,417.15 596.6,417.19 596.8,417.24 597,417.3 597.2,417.36 597.4,417.42 597.6,417.49 597.8,417.56 598,417.63 598.2,417.71 598.4,417.79 598.6,417.87 598.8,417.95 599,418.03 599.2,418.11 599.4,418.19 599.6,418.27 599.8,418.35 600,418.43 600.2,418.51 600.4,418.59 600.6,418.67 600.8,418.74 601,418.81 601.2,418.88 601.4,418.94 601.6,419 601.8,419.06 602,419.11 602.2,419.15 602.4,419.19 602.6,419.23 602.8,419.25 603,419.28 603.2,419.29 603.2,419.3 603,419.3 602.8,419.3 602.6,419.3 602.4,419.3 602.2,419.3 602,419.3 601.8,419.3 601.6,419.3 601.4,419.3 601.2,419.3 601,419.3 600.8,419.3 600.6,419.3 600.4,419.3 600.2,419.3 600,419.3 599.8,419.3 599.6,419.3 599.4,419.3 599.2,419.3 599,419.3 598.8,419.3 598.6,419.3 598.4,419.3 598.2,419.3 598,419.3 597.8,419.3 597.6,419.3 597.4,419.3 597.2,419.3 597,419.3 596.8,419.3 596.6,419.3 596.4,419.3 596.2,419.3 596,419.3 595.8,419.3 595.6,419.3 595.4,419.3 595.2,419.3 595,419.3 594.8,419.3 594.6,419.3 594.4,419.3 594.2,419.3 594,419.3 593.8,419.3 593.6,419.3 593.4,419.3 593.2,419.3 593,419.3 592.8,419.3 592.6,419.3 592.4,419.3 592.2,419.3 592,419.3 591.8,419.3 591.6,419.3 591.4,419.3 591.2,419.3 591,419.3 590.8,419.3 590.6,419.3 590.4,419.3 590.2,419.3 590,419.3 589.8,419.3 589.6,419.3 589.4,419.3 589.2,419.3 589,419.3 588.8,419.3 588.6,419.3 588.4,419.3 588.2,419.3 588,419.3 587.8,419.3 587.6,419.3 587.4,419.3 587.2,419.3 587,419.3 586.8,419.3 586.6,419.3 586.4,419.3 586.2,419.3 586,419.3 585.8,419.3 585.6,419.3 585.4,419.3 585.2,419.3 585,419.3 584.8,419.3 584.6,419.3 584.4,419.3 584.2,419.3 584,419.3 583.8,419.3 583.6,419.3 583.4,419.3 583.2,419.3 583,419.3 582.8,419.3 582.6,419.3 582.4,419.3 582.2,419.3 582,419.3 581.8,419.3 581.6,419.3 581.4,419.3 581.2,419.3 581,419.3 580.8,419.3 580.6,419.3 580.4,419.3 580.2,419.3 580,419.3 579.8,419.3 579.6,419.3 579.4,419.3 579.2,419.3 579,419.3 578.8,419.3 578.6,419.3 578.4,419.3 578.2,419.3 578,419.3 577.8,419.3 577.6,419.3 577.4,419.3 577.2,419.3 577,419.3 576.8,419.3 576.6,419.3" fill="#e3e89a" fill-opacity="1"/>
<polygon points="571.8,419.29 572,419.28 572.2,419.26 572.4,419.24 572.6,419.21 572.8,419.17 573,419.1 573.2,419.01 573.4,418.87 573.6,418.68 573.8,418.42 574,418.07 574.2,417.59 574.4,416.96 574.6,416.14 574.8,415.08 575,413.75 575.2,412.1 575.4,410.07 575.6,407.63 575.8,404.72 576,401.33 576.2,397.45 576.4,393.06 576.6,388.21 576.8,382.93 577,377.31 577.2,371.45 577.4,365.48 577.6,359.55 577.8,353.83 578,348.5 578.2,343.72 578.4,339.67 578.6,336.48 578.8,334.29 579,333.17 579.2,333.17 579.4,334.29 579.6,336.48 579.8,339.67 580,343.72 580.2,348.5 580.4,353.83 580.6,359.55 580.8,365.48 581,371.45 581.2,377.31 581.4,382.93 581.6,388.21 581.8,393.06 582,397.45 582.2,401.33 582.4,404.72 582.6,407.63 582.8,410.07 583,412.1 583.2,413.75 583.4,415.08 583.6,416.14 583.8,416.96 584,417.59 584.2,418.07 584.4,418.42 584.6,418.68 584.8,418.87 585,419.01 585.2,419.1 585.4,419.17 585.6,419.21 585.8,419.24 586,419.26 586.2,419.28 586.4,419.29 586.4,419.3 586.2,419.3 586,419.3 585.8,419.3 585.6,419.3 585.4,419.3 585.2,419.3 585,419.3 584.8,419.3 584.6,419.3 584.4,419.3 584.2,419.3 584,419.3 583.8,419.3 583.6,419.3 583.4,419.3 583.2,419.3 583,419.3 582.8,419.3 582.6,419.3 582.4,419.3 582.2,419.3 582,419.3 581.8,419.3 581.6,419.3 581.4,419.3 581.2,419.3 581,419.3 580.8,419.3 580.6,419.3 580.4,419.3 580.2,419.3 580,419.3 579.8,419.3 579.6,419.3 579.4,419.3 579.2,419.3 579,419.3 578.8,419.3 578.6,419.3 578.4,419.3 578.2,419.3 578,419.3 577.8,419.3 577.6,419.3 577.4,419.3 577.2,419.3 577,419.3 576.8,419.3 576.6,419.3 576.4,419.3 576.2,419.3 576,419.3 575.8,419.3 575.6,419.3 575.4,419.3 575.2,419.3 575,419.3 574.8,419.3 574.6,419.3 574.4,419.3 574.2,419.3 574,419.3 573.8,419.3 573.6,419.3 573.4,419.3 573.2,419.3 573,419.3 572.8,419.3 572.6,419.3 572.4,419.3 572.2,419.3 572,419.3 571.8,419.3" fill="#a3a6e2" fill-opacity="1"/>
<polygon points="576.6,419.29 576.8,419.23 577,419.11 577.2,418.95 577.4,418.74 577.6,418.48 577.8,418.19 578,417.86 578.2,417.5 578.4,417.11 578.6,416.7 578.8,416.26 579,415.8 579.2,415.33 579.4,414.84 579.6,414.34 579.8,413.84 580,413.34 580.2,412.83 580.4,412.33 580.6,411.84 580.8,411.35 581,410.88 581.2,410.43 581.4,410 581.6,409.59 581.8,409.2 582,408.85 582.2,408.53 582.4,408.25 582.6,408.01 582.8,410.07 583,412.1 583.2,413.75 583.4,415.08 583.6,416.14 583.8,416.96 584,417.59 584.2,418.07 584.4,418.42 584.6,418.68 584.8,418.87 585,419.01 585.2,419.1 585.4,419.17 585.6,419.21 585.8,419.24 586,419.26 586.2,419.28 586.4,419.29 586.4,419.3 586.2,419.3 586,419.3 585.8,419.3 585.6,419.3 585.4,419.3 585.2,419.3 585,419.3 584.8,419.3 584.6,419.3 584.4,419.3 584.2,419.3 584,419.3 583.8,419.3 583.6,419.3 583.4,419.3 583.2,419.3 583,419.3 582.8,419.3 582.6,419.3 582.4,419.3 582.2,419.3 582,419.3 581.8,419.3 581.6,419.3 581.4,419.3 581.2,419.3 581,419.3 580.8,419.3 580.6,419.3 580.4,419.3 580.2,419.3 580,419.3 579.8,419.3 579.6,419.3 579.4,419.3 579.2,419.3 579,419.3 578.8,419.3 578.6,419.3 578.4,419.3 578.2,419.3 578,419.3 577.8,419.3 577.6,419.3 577.4,419.3 577.2,419.3 577,419.3 576.8,419.3 576.6,419.3" fill="#c2c2c2" fill-opacity="1"/>
<polygon points="589,416.52 589.2,416.68 589.4,416.8 589.6,416.88 589.8,416.93 590,416.93 590.2,416.91 590.4,416.88 590.6,416.84 590.8,416.8 591,416.75 591.2,416.68 591.4,416.61 591.6,416.52 591.8,416.41 592,416.29 592.2,416.14 592.4,415.98 592.6,415.8 592.8,415.6 593,415.39 593.2,415.15 593.4,414.9 593.6,414.64 593.8,414.37 594,414.09 594.2,413.81 594.4,413.54 594.6,413.28 594.8,413.04 595,412.82 595.2,412.62 595.4,412.47 595.6,412.36 595.8,412.29 596,412.28 596.2,412.31 596.4,412.4 596.6,412.53 596.8,412.7 597,412.92 597.2,413.17 597.4,413.46 597.6,413.77 597.8,414.1 598,414.45 598.2,414.8 598.4,415.15 598.6,415.5 598.8,415.85 599,416.18 599.2,416.49 599.4,416.79 599.6,417.08 599.8,417.34 600,417.58 600.2,417.8 600.4,418 600.6,418.18 600.8,418.35 601,418.49 601.2,418.63 601.4,418.74 601.6,418.84 601.8,418.93 602,419.01 602.2,419.08 602.4,419.14 602.6,419.19 602.8,419.23 603,419.25 603.2,419.28 603.2,419.29 603,419.28 602.8,419.25 602.6,419.23 602.4,419.19 602.2,419.15 602,419.11 601.8,419.06 601.6,419 601.4,418.94 601.2,418.88 601,418.81 600.8,418.74 600.6,418.67 600.4,418.59 600.2,418.51 600,418.43 599.8,418.35 599.6,418.27 599.4,418.19 599.2,418.11 599,418.03 598.8,417.95 598.6,417.87 598.4,417.79 598.2,417.71 598,417.63 597.8,417.56 597.6,417.49 597.4,417.42 597.2,417.36 597,417.3 596.8,417.24 596.6,417.19 596.4,417.15 596.2,417.11 596,417.07 595.8,417.05 595.6,417.02 595.4,417.01 595.2,417 595,417 594.8,417 594.6,417 594.4,417 594.2,417 594,417 593.8,417 593.6,417 593.4,417 593.2,417 593,417 592.8,417 592.6,417 592.4,417 592.2,417 592,417 591.8,417 591.6,417 591.4,417 591.2,417 591,417 590.8,417 590.6,417 590.4,417 590.2,417 590,417 589.8,416.98 589.6,416.92 589.4,416.83 589.2,416.7 589,416.54" fill="#96da8a" fill-opacity="1"/>
<polygon points="589.6,419.3 589.8,419.25 590,419.23 590.2,419.21 590.4,419.18 590.6,419.14 590.8,419.1 591,419.05 591.2,418.98 591.4,418.91 591.6,418.82 591.8,418.71 592,418.59 592.2,418.44 592.4,418.28 592.6,418.1 592.8,417.9 593,417.69 593.2,417.45 593.4,417.2 593.6,416.94 593.8,416.67 594,416.39 594.2,416.11 594.4,415.84 594.6,415.58 594.8,415.34 595,415.12 595.2,414.92 595.4,414.76 595.6,414.63 595.8,414.55 596,414.51 596.2,414.51 596.4,414.55 596.6,414.63 596.8,414.76 597,414.92 597.2,415.12 597.4,415.34 597.6,415.58 597.8,415.84 598,416.11 598.2,416.39 598.4,416.67 598.6,416.94 598.8,417.2 599,417.45 599.2,417.69 599.4,417.9 599.6,418.1 599.8,418.28 600,418.44 600.2,418.59 600.4,418.71 600.6,418.82 600.8,418.91 601,418.98 601.2,419.05 601.4,419.1 601.6,419.14 601.8,419.18 602,419.21 602.2,419.23 602.4,419.25 602.6,419.3 602.6,419.3 602.4,419.3 602.2,419.3 602,419.3 601.8,419.3 601.6,419.3 601.4,419.3 601.2,419.3 601,419.3 600.8,419.3 600.6,419.3 600.4,419.3 600.2,419.3 600,419.3 599.8,419.3 599.6,419.3 599.4,419.3 599.2,419.3 599,419.3 598.8,419.3 598.6,419.3 598.4,419.3 598.2,419.3 598,419.3 597.8,419.3 597.6,419.3 597.4,419.3 597.2,419.3 597,419.3 596.8,419.3 596.6,419.3 596.4,419.3 596.2,419.3 596,419.3 595.8,419.3 595.6,419.3 595.4,419.3 595.2,419.3 595,419.3 594.8,419.3 594.6,419.3 594.4,419.3 594.2,419.3 594,419.3 593.8,419.3 593.6,419.3 593.4,419.3 593.2,419.3 593,419.3 592.8,419.3 592.6,419.3 592.4,419.3 592.2,419.3 592,419.3 591.8,419.3 591.6,419.3 591.4,419.3 591.2,419.3 591,419.3 590.8,419.3 590.6,419.3 590.4,419.3 590.2,419.3 590,419.3 589.8,419.3 589.6,419.3" fill="#96da8a" fill-opacity="0.9"/>
<polyline points="573.4,418.87 573.6,418.68 573.8,418.42 574,418.07 574.2,417.59 574.4,416.96 574.6,416.14 574.8,415.08 575,413.75 575.2,412.1 575.4,410.07 575.6,407.63 575.8,404.72 576,401.33 576.2,397.45 576.4,393.06 576.6,388.21 576.8,382.93 577,377.31 577.2,371.45 577.4,365.48 577.6,359.55 577.8,353.83 578,348.5 578.2,343.72 578.4,339.67 578.6,336.48 578.8,334.29 579,333.17 579.2,333.17 579.4,334.29 579.6,336.48 579.8,339.67 580,343.72 580.2,348.5 580.4,353.83 580.6,359.55 580.8,365.48 581,371.45 581.2,377.31 581.4,382.93 581.6,388.21 581.8,393.06 582,397.45 582.2,401.33 582.4,404.72 582.6,407.63 582.8,410.07 583,412.1 583.2,413.75 583.4,415.08 583.6,416.14 583.8,416.96 584,417.59 584.2,418.07 584.4,418.42 584.6,418.68 584.8,418.87" fill="none" stroke="#444" stroke-width="0.45"/>
<polyline points="560.8,419.3 571.6,419.29 571.8,419.29 572,419.28 572.2,419.26 572.4,419.24 572.6,419.21 572.8,419.17 573,419.1 573.2,419.01 573.4,418.87 573.6,418.68 573.8,418.42 574,418.07 574.2,417.59 574.4,416.96 574.6,416.14 574.8,415.08 575,413.75 575.2,412.1 575.4,410.07 575.6,407.63 575.8,404.72 576,401.33 576.2,397.45 576.4,393.06 576.6,388.19 576.8,382.86 577,377.12 577.2,371.1 577.4,364.92 577.6,358.74 577.8,352.73 578,347.06 578.2,341.92 578.4,337.48 578.6,333.88 578.8,331.25 579,329.68 579.2,329.2 579.4,329.83 579.6,331.53 579.8,334.21 580,337.76 580.2,342.03 580.4,346.87 580.6,352.09 580.8,357.53 581,363.03 581.2,368.44 581.4,373.63 581.6,378.49 581.8,382.96 582,387 582.2,390.57 582.4,393.67 582.6,396.34 582.8,398.62 583,400.57 583.2,402.24 583.4,403.67 583.6,404.89 583.8,405.92 584,406.78 584.2,407.51 584.4,408.14 584.6,408.7 584.8,409.2 585,409.67 585.2,410.11 585.4,410.53 585.6,410.94 585.8,411.34 586,411.74 586.2,412.13 586.4,412.52 586.6,412.9 586.8,413.28 587,413.65 587.2,414.01 587.4,414.36 587.6,414.7 587.8,415.02 588,415.33 588.2,415.62 588.4,415.88 588.6,416.12 588.8,416.34 589,416.52 589.2,416.68 589.4,416.8 589.6,416.88 589.8,416.93 590,416.93 590.2,416.91 590.4,416.88 590.6,416.84 590.8,416.8 591,416.75 591.2,416.68 591.4,416.61 591.6,416.52 591.8,416.41 592,416.29 592.2,416.14 592.4,415.98 592.6,415.8 592.8,415.6 593,415.39 593.2,415.15 593.4,414.9 593.6,414.64 593.8,414.37 594,414.09 594.2,413.81 594.4,413.54 594.6,413.28 594.8,413.04 595,412.82 595.2,412.62 595.4,412.47 595.6,412.36 595.8,412.29 596,412.28 596.2,412.31 596.4,412.4 596.6,412.53 596.8,412.7 597,412.92 597.2,413.17 597.4,413.46 597.6,413.77 597.8,414.1 598,414.45 598.2,414.8 598.4,415.15 598.6,415.5 598.8,415.85 599,416.18 599.2,416.49 599.4,416.79 599.6,417.08 599.8,417.34 600,417.58 600.2,417.8 600.4,418 600.6,418.18 600.8,418.35 601,418.49 601.2,418.63 601.4,418.74 601.6,418.84 601.8,418.93 602,419.01 602.2,419.08 602.4,419.14 602.6,419.19 602.8,419.23 603,419.25 603.2,419.28 603.4,419.29 603.6,419.29 664.8,419.3" fill="none" stroke="#9c3cae" stroke-width="0.85" stroke-linejoin="round"/>
<polyline points="578.4,337.08 578.6,333.48 578.8,330.85 579,329.28 579.2,328.8 579.4,329.43 579.6,331.13 579.8,333.81" fill="none" stroke="#333" stroke-width="0.55" stroke-linejoin="round"/>
<rect x="560" y="318.8" width="105.6" height="100.7" fill="none" stroke="#555" stroke-width="0.6"/>
<text x="632.5" y="350.7" font-size="5.5" font-family="Liberation Serif" font-weight="bold" fill="#111" stroke="#111" stroke-width="0.12">%G1<tspan font-family="Liberation Sans" font-weight="normal" fill="#3a3a3a" stroke="none"> : 66.2</tspan></text>
<text x="632.5" y="358.6" font-size="5.5" font-family="Liberation Serif" font-weight="bold" fill="#111" stroke="#111" stroke-width="0.12">%S<tspan font-family="Liberation Sans" font-weight="normal" fill="#3a3a3a" stroke="none"> : 19.8</tspan></text>
<text x="632.5" y="366.5" font-size="5.5" font-family="Liberation Serif" font-weight="bold" fill="#111" stroke="#111" stroke-width="0.12">%G2<tspan font-family="Liberation Sans" font-weight="normal" fill="#3a3a3a" stroke="none"> : 12.6</tspan></text>
</svg></body></html>
